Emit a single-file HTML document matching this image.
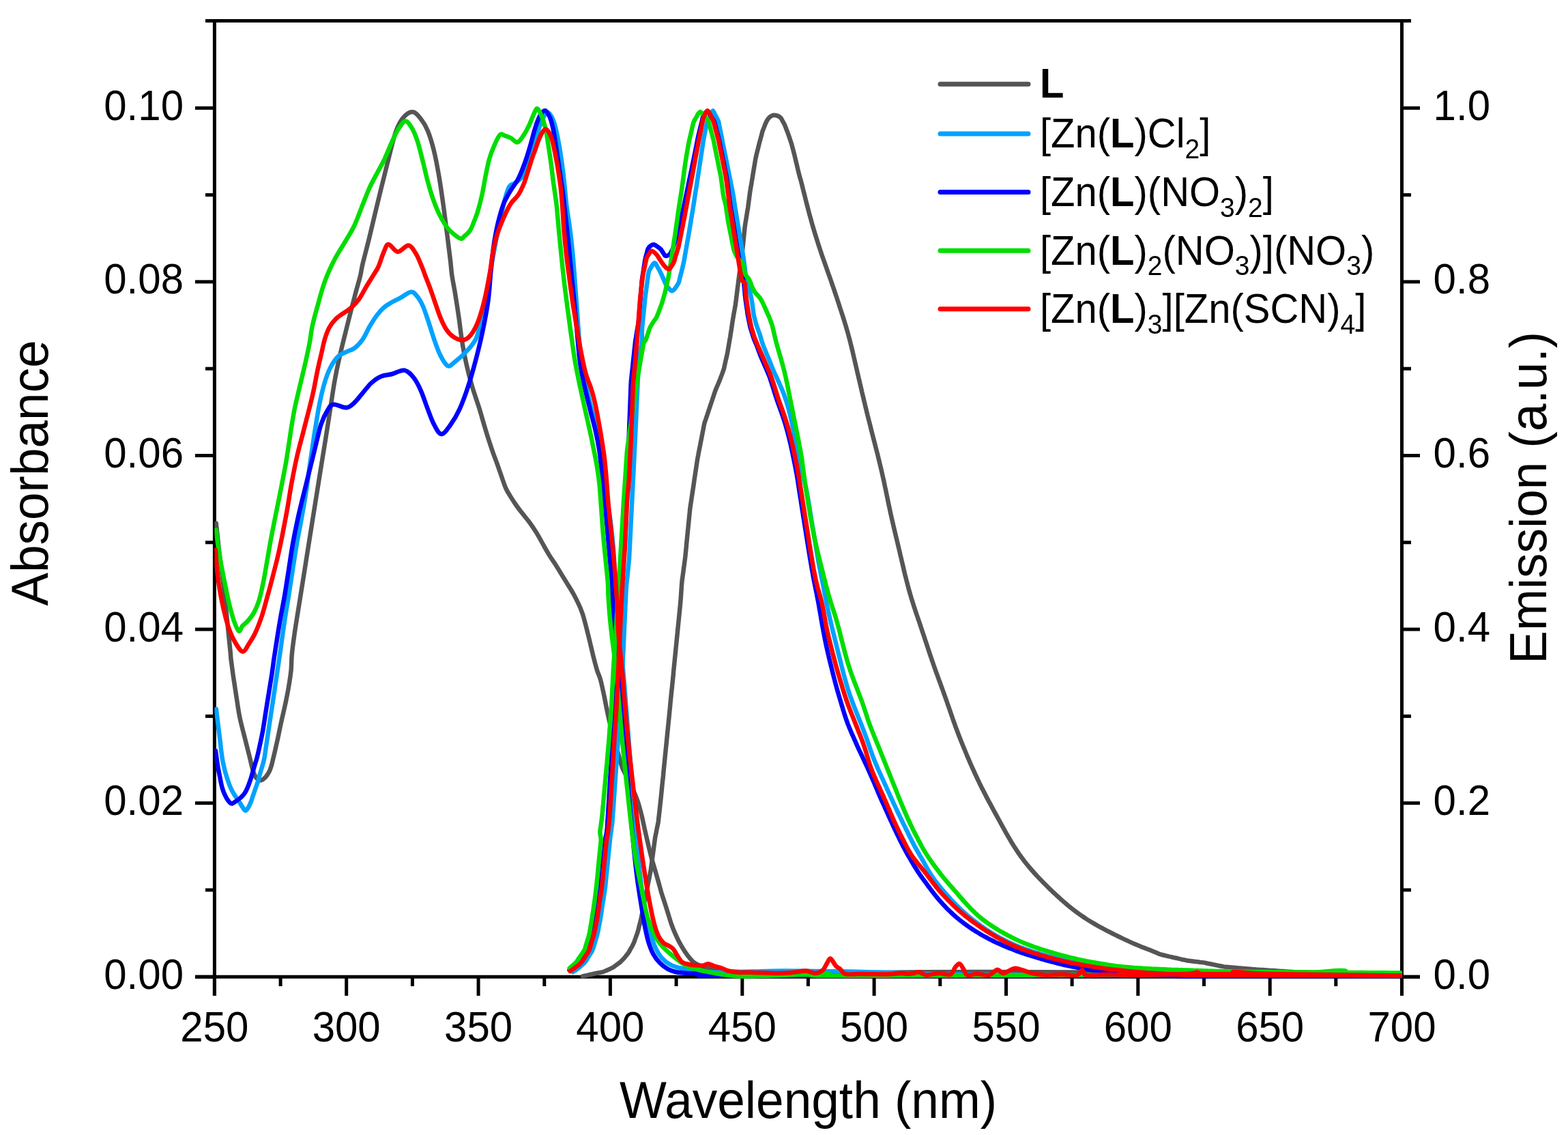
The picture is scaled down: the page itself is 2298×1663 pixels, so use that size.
<!DOCTYPE html>
<html><head><meta charset="utf-8"><title>Absorbance and Emission spectra</title>
<style>html,body{margin:0;padding:0;background:#fff;overflow:hidden;} svg{display:block;}</style></head>
<body><svg width="2298" height="1663" viewBox="0 0 2298 1663">
<rect width="2298" height="1663" fill="#fff"/>
<g stroke="#000" stroke-width="5" fill="none">
<line x1="301" y1="30.45" x2="2068" y2="30.45"/>
<line x1="314.4" y1="28" x2="314.4" y2="1459"/>
<line x1="2054.5" y1="28" x2="2054.5" y2="1459"/>
<line x1="286" y1="1431.3" x2="2081" y2="1431.3"/>
<line x1="314.4" y1="1431.3" x2="314.4" y2="1459"/>
<line x1="411.1" y1="1431.3" x2="411.1" y2="1445"/>
<line x1="507.7" y1="1431.3" x2="507.7" y2="1459"/>
<line x1="604.4" y1="1431.3" x2="604.4" y2="1445"/>
<line x1="701.1" y1="1431.3" x2="701.1" y2="1459"/>
<line x1="797.8" y1="1431.3" x2="797.8" y2="1445"/>
<line x1="894.4" y1="1431.3" x2="894.4" y2="1459"/>
<line x1="991.1" y1="1431.3" x2="991.1" y2="1445"/>
<line x1="1087.8" y1="1431.3" x2="1087.8" y2="1459"/>
<line x1="1184.4" y1="1431.3" x2="1184.4" y2="1445"/>
<line x1="1281.1" y1="1431.3" x2="1281.1" y2="1459"/>
<line x1="1377.8" y1="1431.3" x2="1377.8" y2="1445"/>
<line x1="1474.5" y1="1431.3" x2="1474.5" y2="1459"/>
<line x1="1571.1" y1="1431.3" x2="1571.1" y2="1445"/>
<line x1="1667.8" y1="1431.3" x2="1667.8" y2="1459"/>
<line x1="1764.5" y1="1431.3" x2="1764.5" y2="1445"/>
<line x1="1861.2" y1="1431.3" x2="1861.2" y2="1459"/>
<line x1="1957.8" y1="1431.3" x2="1957.8" y2="1445"/>
<line x1="2054.5" y1="1431.3" x2="2054.5" y2="1459"/>
<line x1="286" y1="1431.3" x2="314.4" y2="1431.3"/>
<line x1="2054.5" y1="1431.3" x2="2081" y2="1431.3"/>
<line x1="301" y1="1304.0" x2="314.4" y2="1304.0"/>
<line x1="2054.5" y1="1304.0" x2="2068" y2="1304.0"/>
<line x1="286" y1="1176.7" x2="314.4" y2="1176.7"/>
<line x1="2054.5" y1="1176.7" x2="2081" y2="1176.7"/>
<line x1="301" y1="1049.4" x2="314.4" y2="1049.4"/>
<line x1="2054.5" y1="1049.4" x2="2068" y2="1049.4"/>
<line x1="286" y1="922.1" x2="314.4" y2="922.1"/>
<line x1="2054.5" y1="922.1" x2="2081" y2="922.1"/>
<line x1="301" y1="794.8" x2="314.4" y2="794.8"/>
<line x1="2054.5" y1="794.8" x2="2068" y2="794.8"/>
<line x1="286" y1="667.5" x2="314.4" y2="667.5"/>
<line x1="2054.5" y1="667.5" x2="2081" y2="667.5"/>
<line x1="301" y1="540.2" x2="314.4" y2="540.2"/>
<line x1="2054.5" y1="540.2" x2="2068" y2="540.2"/>
<line x1="286" y1="412.9" x2="314.4" y2="412.9"/>
<line x1="2054.5" y1="412.9" x2="2081" y2="412.9"/>
<line x1="301" y1="285.6" x2="314.4" y2="285.6"/>
<line x1="2054.5" y1="285.6" x2="2068" y2="285.6"/>
<line x1="286" y1="158.3" x2="314.4" y2="158.3"/>
<line x1="2054.5" y1="158.3" x2="2081" y2="158.3"/>
</g>
<g font-family="'Liberation Sans', Arial, sans-serif" font-size="60" fill="#000">
<text transform="translate(314.4,1525.5) scale(1,1.05)" text-anchor="middle">250</text>
<text transform="translate(507.7,1525.5) scale(1,1.05)" text-anchor="middle">300</text>
<text transform="translate(701.1,1525.5) scale(1,1.05)" text-anchor="middle">350</text>
<text transform="translate(894.4,1525.5) scale(1,1.05)" text-anchor="middle">400</text>
<text transform="translate(1087.8,1525.5) scale(1,1.05)" text-anchor="middle">450</text>
<text transform="translate(1281.1,1525.5) scale(1,1.05)" text-anchor="middle">500</text>
<text transform="translate(1474.5,1525.5) scale(1,1.05)" text-anchor="middle">550</text>
<text transform="translate(1667.8,1525.5) scale(1,1.05)" text-anchor="middle">600</text>
<text transform="translate(1861.2,1525.5) scale(1,1.05)" text-anchor="middle">650</text>
<text transform="translate(2054.5,1525.5) scale(1,1.05)" text-anchor="middle">700</text>
<text transform="translate(269,1448.8) scale(1,1.05)" text-anchor="end">0.00</text>
<text transform="translate(2184,1448.8) scale(1,1.05)" text-anchor="end">0.0</text>
<text transform="translate(269,1194.2) scale(1,1.05)" text-anchor="end">0.02</text>
<text transform="translate(2184,1194.2) scale(1,1.05)" text-anchor="end">0.2</text>
<text transform="translate(269,939.6) scale(1,1.05)" text-anchor="end">0.04</text>
<text transform="translate(2184,939.6) scale(1,1.05)" text-anchor="end">0.4</text>
<text transform="translate(269,685.0) scale(1,1.05)" text-anchor="end">0.06</text>
<text transform="translate(2184,685.0) scale(1,1.05)" text-anchor="end">0.6</text>
<text transform="translate(269,430.4) scale(1,1.05)" text-anchor="end">0.08</text>
<text transform="translate(2184,430.4) scale(1,1.05)" text-anchor="end">0.8</text>
<text transform="translate(269,175.8) scale(1,1.05)" text-anchor="end">0.10</text>
<text transform="translate(2184,175.8) scale(1,1.05)" text-anchor="end">1.0</text>
</g>
<g font-family="'Liberation Sans', Arial, sans-serif" font-size="73" fill="#000">
<text transform="translate(1184.5,1638.4) scale(1,1.04)" text-anchor="middle">Wavelength (nm)</text>
<text transform="translate(70.4,693) rotate(-90) scale(1,1.04)" text-anchor="middle">Absorbance</text>
<text transform="translate(2265.7,729.4) rotate(-90) scale(1,1.04)" text-anchor="middle">Emission (a.u.)</text>
</g>
<defs><clipPath id="pc"><rect x="314.4" y="0" width="1740.1" height="1663"/></clipPath></defs>
<g fill="none" stroke-width="6.5" stroke-linejoin="round" stroke-linecap="round" clip-path="url(#pc)">
<path stroke="#555555" d="M316.8,766.7 C317.6,774.5 320.1,799.1 321.9,813.7 C323.6,828.3 325.6,841.1 327.2,854.4 C328.8,867.7 330.1,880.7 331.4,893.4 C332.7,906.1 334.1,920.0 335.1,930.4 C336.2,940.8 337.1,949.5 337.7,955.6 C338.3,961.6 337.9,961.0 338.6,966.7 C339.3,972.4 340.5,981.1 341.7,989.7 C343.0,998.3 344.5,1008.3 346.1,1018.4 C347.7,1028.5 349.2,1040.5 351.2,1050.2 C353.1,1060.0 355.7,1068.9 357.7,1076.9 C359.7,1084.8 361.6,1092.3 363.0,1098.0 C364.5,1103.7 365.3,1106.9 366.3,1111.0 C367.2,1115.0 367.9,1118.4 368.9,1122.2 C369.8,1125.9 371.0,1130.4 372.2,1133.4 C373.3,1136.4 374.2,1138.6 376.0,1140.2 C377.7,1141.9 380.2,1143.5 382.5,1143.2 C384.8,1142.9 387.5,1140.3 389.5,1138.2 C391.5,1136.0 393.2,1133.3 394.6,1130.6 C396.0,1127.8 396.9,1124.8 397.8,1121.8 C398.7,1118.8 399.3,1116.0 400.1,1112.5 C400.9,1109.1 401.6,1106.6 402.8,1101.3 C404.0,1095.9 405.8,1088.0 407.5,1080.3 C409.1,1072.5 411.1,1062.8 412.9,1054.6 C414.7,1046.5 416.5,1039.3 418.2,1031.4 C419.8,1023.5 421.5,1015.6 422.9,1007.3 C424.3,999.1 425.8,989.8 426.6,981.7 C427.4,973.6 426.9,967.6 427.8,958.8 C428.6,949.9 429.8,941.2 431.6,928.7 C433.4,916.2 436.2,899.3 438.7,883.7 C441.2,868.1 443.9,851.2 446.5,834.9 C449.1,818.7 451.6,802.4 454.2,786.2 C456.8,770.0 459.4,753.7 462.0,737.5 C464.6,721.2 467.3,704.1 469.8,688.7 C472.3,673.4 474.9,656.9 476.8,645.4 C478.6,633.8 479.5,628.7 480.9,619.5 C482.4,610.3 483.8,600.4 485.4,590.2 C487.0,580.0 488.5,569.1 490.4,558.5 C492.3,547.9 494.4,537.4 496.8,526.8 C499.1,516.2 501.8,505.7 504.4,495.1 C507.0,484.5 509.6,474.0 512.3,463.4 C515.0,452.8 517.9,441.5 520.5,431.7 C523.1,421.9 526.1,411.9 528.0,404.4 C529.8,396.9 529.3,396.0 531.5,386.8 C533.7,377.6 537.7,362.8 541.0,349.4 C544.3,336.0 547.9,320.2 551.2,306.4 C554.5,292.5 557.7,279.6 561.0,266.5 C564.2,253.4 567.5,239.9 570.7,227.5 C573.9,215.1 577.0,201.3 580.4,192.1 C583.8,182.9 587.0,177.0 591.0,172.3 C595.1,167.7 600.5,163.8 604.8,164.1 C609.1,164.4 612.9,169.4 616.6,174.0 C620.2,178.5 623.5,183.4 626.7,191.3 C630.0,199.2 633.3,210.1 636.1,221.5 C638.9,232.9 641.3,246.2 643.6,259.6 C645.9,273.0 647.9,287.3 649.9,301.9 C651.9,316.5 654.1,333.9 655.8,347.3 C657.5,360.6 659.0,372.7 660.1,382.0 C661.2,391.4 661.1,394.8 662.3,403.1 C663.5,411.4 665.7,421.4 667.3,431.7 C669.0,442.0 670.7,453.1 672.4,464.8 C674.1,476.4 675.5,490.0 677.4,501.6 C679.3,513.3 681.3,523.8 683.8,534.7 C686.2,545.6 689.0,556.1 692.1,566.7 C695.2,577.3 699.5,588.9 702.4,598.3 C705.3,607.7 707.4,615.6 709.7,623.2 C712.0,630.9 714.0,637.5 716.1,644.1 C718.2,650.7 720.3,656.9 722.4,662.8 C724.5,668.8 726.6,673.9 728.7,679.8 C730.8,685.7 733.0,692.3 735.1,698.3 C737.2,704.3 739.3,710.8 741.4,715.6 C743.6,720.5 745.6,723.4 748.1,727.4 C750.5,731.3 753.1,735.4 756.0,739.5 C758.8,743.6 762.0,747.7 765.2,751.8 C768.4,755.9 771.6,759.5 775.0,764.0 C778.4,768.6 782.1,773.9 785.5,779.4 C788.9,784.8 792.1,790.9 795.3,796.5 C798.5,802.1 801.7,808.1 804.8,813.1 C807.9,818.2 811.0,822.2 814.0,826.9 C817.0,831.6 819.7,836.4 822.8,841.4 C825.9,846.5 829.6,852.3 832.7,857.4 C835.8,862.4 838.5,866.7 841.3,871.8 C844.0,876.9 847.4,883.8 849.3,888.0 C851.3,892.3 852.0,894.7 852.9,897.1 C853.8,899.6 853.9,899.2 854.8,902.6 C855.8,906.0 857.3,911.5 858.8,917.5 C860.4,923.6 862.3,931.4 864.1,938.8 C865.9,946.2 867.8,954.8 869.6,962.0 C871.4,969.2 873.3,976.2 875.0,982.0 C876.8,987.7 878.5,990.3 880.2,996.5 C881.9,1002.7 883.7,1011.7 885.3,1019.0 C886.8,1026.3 888.0,1033.4 889.5,1040.3 C891.0,1047.2 892.2,1053.6 894.0,1060.5 C895.8,1067.4 898.1,1074.2 900.2,1081.8 C902.3,1089.3 904.5,1098.6 906.4,1105.8 C908.4,1112.9 909.6,1118.6 911.9,1124.6 C914.2,1130.5 917.5,1135.7 920.3,1141.6 C923.2,1147.5 926.5,1154.2 929.0,1159.8 C931.5,1165.5 933.2,1169.7 935.1,1175.6 C937.0,1181.5 938.7,1188.2 940.5,1195.4 C942.3,1202.6 944.0,1211.4 945.7,1218.8 C947.4,1226.2 949.0,1233.3 950.6,1239.9 C952.2,1246.6 953.7,1252.8 955.3,1258.7 C956.9,1264.5 958.5,1269.6 960.1,1275.1 C961.7,1280.6 963.2,1285.8 964.8,1291.5 C966.4,1297.1 968.0,1303.6 969.6,1308.9 C971.2,1314.1 972.7,1318.2 974.3,1323.2 C975.9,1328.1 977.5,1333.3 979.1,1338.5 C980.7,1343.7 982.2,1349.0 984.1,1354.3 C986.0,1359.6 988.1,1364.9 990.5,1370.2 C992.8,1375.4 995.5,1380.8 998.4,1385.7 C1001.2,1390.7 1004.5,1395.7 1007.6,1399.7 C1010.7,1403.8 1013.7,1407.5 1016.8,1410.0 C1019.9,1412.5 1022.2,1413.3 1026.2,1414.9 C1030.3,1416.5 1034.7,1418.2 1040.9,1419.6 C1047.1,1420.9 1051.9,1421.9 1063.5,1422.8 C1075.1,1423.7 1087.8,1424.3 1110.5,1424.8 C1133.2,1425.4 1143.4,1426.1 1200.0,1426.0 C1256.6,1425.9 1307.7,1423.8 1450.0,1424.0 C1592.3,1424.2 1953.3,1426.5 2054.0,1427.0"/>
<path stroke="#555555" d="M853.9,1430.4 C854.9,1430.2 857.8,1429.5 859.8,1429.1 C861.7,1428.6 863.7,1428.2 865.6,1427.8 C867.6,1427.3 869.5,1426.9 871.5,1426.5 C873.4,1426.1 875.4,1425.7 877.4,1425.3 C879.3,1424.9 881.3,1424.7 883.2,1424.2 C885.1,1423.6 886.9,1422.7 888.8,1421.9 C890.6,1421.1 892.5,1420.3 894.3,1419.5 C896.1,1418.6 897.9,1417.8 899.6,1416.7 C901.3,1415.7 902.8,1414.3 904.4,1413.1 C906.0,1411.9 907.7,1410.8 909.2,1409.5 C910.7,1408.2 912.0,1406.8 913.4,1405.3 C914.7,1403.8 916.0,1402.3 917.3,1400.7 C918.6,1399.2 919.9,1397.7 921.0,1396.0 C922.1,1394.4 923.0,1392.6 923.9,1390.8 C924.9,1389.1 926.0,1387.4 926.9,1385.6 C927.8,1383.8 928.6,1382.0 929.4,1380.2 C930.1,1378.3 930.7,1376.4 931.4,1374.5 C932.1,1372.6 932.8,1370.8 933.5,1368.9 C934.1,1367.0 934.7,1365.1 935.3,1363.2 C935.8,1361.2 936.2,1359.3 936.7,1357.3 C937.2,1355.4 937.7,1353.5 938.2,1351.5 C938.7,1349.6 939.2,1347.7 939.6,1345.7 C940.1,1343.7 940.4,1341.8 940.8,1339.8 C941.2,1337.9 941.6,1335.9 942.0,1333.9 C942.4,1332.0 942.7,1330.0 943.1,1328.0 C943.5,1326.1 943.9,1324.1 944.3,1322.2 C944.7,1320.2 945.1,1318.2 945.5,1316.3 C945.9,1314.3 946.3,1312.4 946.7,1310.4 C947.1,1308.4 947.5,1306.5 947.9,1304.5 C948.3,1302.6 948.7,1300.6 949.1,1298.6 C949.4,1296.7 949.8,1294.7 950.2,1292.7 C950.6,1290.8 951.0,1288.8 951.4,1286.9 C951.8,1284.9 952.2,1282.9 952.5,1281.0 C952.9,1279.0 953.4,1277.1 953.7,1275.1 C954.0,1273.1 954.2,1271.1 954.5,1269.1 C954.8,1267.2 955.0,1265.2 955.3,1263.2 C955.6,1261.2 955.8,1259.2 956.1,1257.2 C956.4,1255.3 956.6,1253.3 956.9,1251.3 C957.2,1249.3 957.4,1247.3 957.7,1245.4 C958.0,1243.4 958.2,1241.4 958.5,1239.4 C958.8,1237.4 959.0,1235.4 959.3,1233.5 C959.6,1231.5 959.8,1229.5 960.1,1227.5 C960.4,1225.5 960.9,1223.6 961.3,1221.6 C961.7,1219.7 962.0,1217.7 962.4,1215.7 C962.8,1213.8 963.2,1211.8 963.6,1209.9 C964.0,1207.9 964.5,1205.9 964.8,1204.0 C965.1,1202.0 965.2,1200.0 965.4,1198.0 C965.7,1196.0 965.9,1194.0 966.1,1192.0 C966.3,1190.1 966.6,1188.1 966.8,1186.1 C967.0,1184.1 967.2,1182.1 967.4,1180.1 C967.7,1178.1 967.9,1176.1 968.1,1174.2 C968.3,1172.2 968.5,1170.2 968.7,1168.2 C968.9,1166.2 969.1,1164.2 969.3,1162.2 C969.5,1160.2 969.7,1158.2 969.9,1156.3 C970.1,1154.3 970.3,1152.3 970.5,1150.3 C970.7,1148.3 970.9,1146.3 971.1,1144.3 C971.4,1142.3 971.6,1140.3 971.8,1138.3 C972.0,1136.4 972.2,1134.4 972.3,1132.4 C972.5,1130.4 972.7,1128.4 972.9,1126.4 C973.1,1124.4 973.3,1122.4 973.5,1120.4 C973.7,1118.4 973.9,1116.5 974.1,1114.5 C974.3,1112.5 974.5,1110.5 974.7,1108.5 C974.9,1106.5 975.1,1104.5 975.3,1102.5 C975.5,1100.5 975.7,1098.5 975.9,1096.5 C976.1,1094.6 976.3,1092.6 976.5,1090.6 C976.7,1088.6 976.9,1086.6 977.1,1084.6 C977.3,1082.6 977.5,1080.6 977.7,1078.6 C977.9,1076.7 978.1,1074.7 978.3,1072.7 C978.5,1070.7 978.7,1068.7 978.9,1066.7 C979.1,1064.7 979.3,1062.7 979.5,1060.7 C979.7,1058.7 979.9,1056.8 980.1,1054.8 C980.3,1052.8 980.5,1050.8 980.7,1048.8 C980.9,1046.8 981.1,1044.8 981.3,1042.8 C981.5,1040.8 981.7,1038.8 981.9,1036.8 C982.1,1034.9 982.3,1032.9 982.4,1030.9 C982.6,1028.9 982.8,1026.9 983.0,1024.9 C983.2,1022.9 983.4,1020.9 983.6,1018.9 C983.8,1016.9 984.0,1015.0 984.2,1013.0 C984.4,1011.0 984.7,1009.0 984.9,1007.0 C985.1,1005.0 985.3,1003.0 985.5,1001.0 C985.7,999.0 985.9,997.0 986.1,995.1 C986.3,993.1 986.5,991.1 986.7,989.1 C986.9,987.1 987.1,985.1 987.2,983.1 C987.4,981.1 987.6,979.1 987.8,977.1 C988.0,975.2 988.2,973.2 988.4,971.2 C988.6,969.2 988.8,967.2 989.0,965.2 C989.2,963.2 989.4,961.2 989.6,959.2 C989.8,957.2 990.0,955.3 990.2,953.3 C990.4,951.3 990.6,949.3 990.8,947.3 C991.0,945.3 991.2,943.3 991.4,941.3 C991.6,939.3 991.8,937.3 992.0,935.4 C992.2,933.4 992.4,931.4 992.6,929.4 C992.8,927.4 993.0,925.4 993.2,923.4 C993.4,921.4 993.6,919.4 993.8,917.4 C994.0,915.5 994.2,913.5 994.4,911.5 C994.6,909.5 994.8,907.5 995.0,905.5 C995.2,903.5 995.4,901.5 995.6,899.5 C995.8,897.5 996.0,895.6 996.2,893.6 C996.4,891.6 996.6,889.6 996.8,887.6 C996.9,885.6 997.2,883.6 997.3,881.6 C997.5,879.6 997.7,877.6 997.8,875.6 C997.9,873.6 998.1,871.6 998.2,869.6 C998.3,867.7 998.5,865.7 998.6,863.7 C998.7,861.7 998.9,859.7 999.0,857.7 C999.2,855.7 999.3,853.7 999.5,851.7 C999.7,849.7 1000.1,847.7 1000.3,845.8 C1000.6,843.8 1000.9,841.8 1001.1,839.8 C1001.4,837.8 1001.7,835.8 1001.9,833.9 C1002.2,831.9 1002.5,829.9 1002.7,827.9 C1003.0,825.9 1003.3,824.0 1003.5,822.0 C1003.8,820.0 1004.1,818.0 1004.3,816.0 C1004.5,814.0 1004.7,812.0 1004.9,810.0 C1005.1,808.1 1005.3,806.1 1005.5,804.1 C1005.7,802.1 1005.9,800.1 1006.0,798.1 C1006.2,796.1 1006.4,794.1 1006.6,792.1 C1006.8,790.1 1007.0,788.2 1007.2,786.2 C1007.4,784.2 1007.6,782.2 1007.8,780.2 C1008.0,778.2 1008.2,776.2 1008.4,774.2 C1008.6,772.2 1008.8,770.2 1009.0,768.3 C1009.2,766.3 1009.4,764.3 1009.6,762.3 C1009.8,760.3 1010.0,758.3 1010.2,756.3 C1010.4,754.3 1010.6,752.3 1010.8,750.3 C1011.0,748.4 1011.2,746.4 1011.4,744.4 C1011.7,742.4 1012.0,740.4 1012.3,738.4 C1012.6,736.5 1012.9,734.5 1013.2,732.5 C1013.5,730.5 1013.8,728.6 1014.1,726.6 C1014.4,724.6 1014.7,722.6 1015.0,720.6 C1015.3,718.7 1015.6,716.7 1015.9,714.7 C1016.2,712.7 1016.5,710.8 1016.8,708.8 C1017.1,706.8 1017.4,704.8 1017.6,702.8 C1017.9,700.9 1018.2,698.9 1018.5,696.9 C1018.8,694.9 1019.1,692.9 1019.4,691.0 C1019.7,689.0 1020.0,687.0 1020.3,685.0 C1020.6,683.1 1020.9,681.1 1021.2,679.1 C1021.5,677.1 1021.8,675.1 1022.1,673.2 C1022.4,671.2 1022.8,669.2 1023.2,667.3 C1023.5,665.3 1023.9,663.3 1024.3,661.4 C1024.7,659.4 1025.1,657.5 1025.5,655.5 C1025.9,653.5 1026.3,651.6 1026.6,649.6 C1027.0,647.6 1027.4,645.7 1027.8,643.7 C1028.2,641.8 1028.6,639.8 1028.9,637.8 C1029.3,635.9 1029.7,633.9 1030.1,631.9 C1030.5,630.0 1030.8,628.0 1031.2,626.0 C1031.6,624.1 1031.9,622.1 1032.4,620.2 C1032.9,618.2 1033.6,616.4 1034.3,614.5 C1034.9,612.6 1035.5,610.7 1036.2,608.8 C1036.8,606.9 1037.4,605.0 1038.1,603.1 C1038.7,601.2 1039.3,599.3 1040.0,597.4 C1040.6,595.5 1041.2,593.6 1041.9,591.7 C1042.5,589.8 1043.1,587.9 1043.8,586.0 C1044.4,584.1 1045.0,582.2 1045.7,580.3 C1046.3,578.4 1046.9,576.5 1047.6,574.6 C1048.2,572.7 1049.0,570.9 1049.7,569.0 C1050.5,567.2 1051.3,565.4 1052.1,563.5 C1052.8,561.7 1053.7,559.8 1054.4,558.0 C1055.2,556.1 1055.8,554.2 1056.5,552.4 C1057.3,550.5 1058.0,548.6 1058.7,546.8 C1059.4,544.9 1060.1,543.0 1060.7,541.1 C1061.3,539.2 1061.6,537.2 1062.0,535.3 C1062.5,533.3 1062.9,531.4 1063.3,529.4 C1063.8,527.5 1064.2,525.5 1064.7,523.6 C1065.1,521.6 1065.6,519.7 1066.0,517.7 C1066.4,515.8 1066.7,513.8 1067.0,511.8 C1067.3,509.8 1067.7,507.9 1068.0,505.9 C1068.4,503.9 1068.7,501.9 1069.0,500.0 C1069.4,498.0 1069.7,496.0 1070.1,494.1 C1070.4,492.1 1070.7,490.1 1071.0,488.1 C1071.3,486.2 1071.6,484.2 1071.9,482.2 C1072.2,480.2 1072.5,478.2 1072.8,476.3 C1073.1,474.3 1073.3,472.3 1073.7,470.3 C1074.0,468.4 1074.3,466.4 1074.7,464.4 C1075.0,462.5 1075.4,460.5 1075.7,458.5 C1076.1,456.5 1076.4,454.6 1076.8,452.6 C1077.1,450.6 1077.5,448.7 1077.8,446.7 C1078.1,444.7 1078.4,442.7 1078.6,440.8 C1078.9,438.8 1079.1,436.8 1079.4,434.8 C1079.6,432.8 1079.9,430.8 1080.1,428.8 C1080.4,426.9 1080.6,424.9 1080.8,422.9 C1081.1,420.9 1081.3,418.9 1081.6,416.9 C1081.8,415.0 1082.1,413.0 1082.4,411.0 C1082.6,409.0 1082.9,407.0 1083.1,405.0 C1083.4,403.1 1083.7,401.1 1083.9,399.1 C1084.2,397.1 1084.4,395.1 1084.7,393.1 C1084.9,391.2 1085.2,389.2 1085.4,387.2 C1085.7,385.2 1086.0,383.2 1086.2,381.2 C1086.5,379.3 1086.7,377.3 1087.0,375.3 C1087.2,373.3 1087.5,371.3 1087.8,369.3 C1088.0,367.4 1088.3,365.4 1088.5,363.4 C1088.7,361.4 1088.9,359.4 1089.1,357.4 C1089.3,355.4 1089.5,353.4 1089.7,351.4 C1089.9,349.5 1090.1,347.5 1090.3,345.5 C1090.5,343.5 1090.7,341.5 1090.9,339.5 C1091.1,337.5 1091.3,335.5 1091.5,333.5 C1091.8,331.6 1092.0,329.6 1092.3,327.6 C1092.6,325.6 1093.0,323.6 1093.3,321.7 C1093.6,319.7 1094.0,317.7 1094.3,315.8 C1094.6,313.8 1094.9,311.8 1095.2,309.8 C1095.6,307.9 1095.9,305.9 1096.2,303.9 C1096.4,301.9 1096.7,299.9 1097.0,298.0 C1097.2,296.0 1097.5,294.0 1097.8,292.0 C1098.0,290.0 1098.3,288.0 1098.6,286.1 C1098.8,284.1 1099.1,282.1 1099.4,280.1 C1099.7,278.1 1100.0,276.2 1100.4,274.2 C1100.7,272.2 1101.0,270.3 1101.4,268.3 C1101.7,266.3 1102.0,264.3 1102.4,262.4 C1102.7,260.4 1103.0,258.4 1103.3,256.4 C1103.7,254.5 1104.0,252.5 1104.3,250.5 C1104.7,248.6 1105.0,246.6 1105.3,244.6 C1105.7,242.6 1106.0,240.7 1106.3,238.7 C1106.6,236.7 1106.9,234.7 1107.3,232.8 C1107.7,230.8 1108.1,228.9 1108.6,226.9 C1109.0,225.0 1109.5,223.0 1110.0,221.1 C1110.5,219.2 1111.0,217.2 1111.5,215.3 C1111.9,213.3 1112.4,211.4 1112.9,209.5 C1113.4,207.5 1114.0,205.6 1114.5,203.7 C1115.0,201.7 1115.6,199.8 1116.1,197.9 C1116.6,195.9 1117.0,194.0 1117.6,192.1 C1118.3,190.2 1119.1,188.4 1119.8,186.5 C1120.5,184.6 1121.2,182.7 1122.0,180.9 C1122.8,179.1 1123.6,177.2 1124.7,175.6 C1125.8,174.0 1127.1,172.2 1128.6,171.1 C1130.1,170.0 1131.9,169.0 1133.7,168.8 C1135.5,168.5 1137.7,169.0 1139.4,169.6 C1141.2,170.3 1143.0,171.4 1144.3,172.8 C1145.6,174.2 1146.3,176.3 1147.3,178.0 C1148.3,179.8 1149.3,181.5 1150.1,183.3 C1150.9,185.1 1151.6,187.1 1152.3,188.9 C1153.0,190.8 1153.8,192.6 1154.5,194.5 C1155.2,196.4 1155.8,198.3 1156.5,200.2 C1157.1,202.0 1157.7,204.0 1158.4,205.9 C1159.0,207.8 1159.7,209.6 1160.2,211.6 C1160.8,213.5 1161.2,215.5 1161.8,217.4 C1162.3,219.3 1162.8,221.3 1163.3,223.2 C1163.8,225.1 1164.3,227.0 1164.8,229.0 C1165.3,230.9 1165.7,232.9 1166.2,234.8 C1166.6,236.7 1167.1,238.7 1167.6,240.6 C1168.0,242.6 1168.5,244.5 1168.9,246.5 C1169.4,248.4 1169.9,250.3 1170.3,252.3 C1170.8,254.2 1171.3,256.2 1171.8,258.1 C1172.3,260.0 1172.9,261.9 1173.5,263.8 C1174.0,265.7 1174.5,267.7 1175.0,269.6 C1175.5,271.5 1176.0,273.5 1176.4,275.4 C1176.9,277.3 1177.4,279.3 1177.9,281.2 C1178.4,283.1 1178.9,285.1 1179.4,287.0 C1179.9,289.0 1180.4,290.9 1180.8,292.8 C1181.3,294.8 1181.8,296.7 1182.3,298.6 C1182.8,300.6 1183.3,302.5 1183.8,304.4 C1184.3,306.4 1184.8,308.3 1185.3,310.2 C1185.8,312.2 1186.3,314.1 1186.9,316.0 C1187.4,317.9 1187.9,319.9 1188.5,321.8 C1189.0,323.7 1189.5,325.6 1190.1,327.6 C1190.6,329.5 1191.2,331.4 1191.7,333.3 C1192.3,335.2 1192.9,337.1 1193.4,339.1 C1194.0,341.0 1194.6,342.9 1195.2,344.8 C1195.8,346.7 1196.4,348.6 1197.0,350.5 C1197.6,352.4 1198.2,354.3 1198.8,356.2 C1199.4,358.1 1200.0,360.0 1200.6,361.9 C1201.3,363.8 1201.9,365.7 1202.5,367.6 C1203.2,369.5 1203.8,371.4 1204.4,373.3 C1205.1,375.2 1205.7,377.1 1206.4,379.0 C1207.1,380.9 1207.7,382.7 1208.4,384.6 C1209.0,386.5 1209.7,388.4 1210.4,390.3 C1211.0,392.2 1211.7,394.1 1212.4,395.9 C1213.0,397.8 1213.7,399.7 1214.4,401.6 C1215.1,403.5 1215.7,405.3 1216.4,407.2 C1217.1,409.1 1217.7,411.0 1218.4,412.9 C1219.0,414.8 1219.7,416.7 1220.3,418.5 C1221.0,420.4 1221.6,422.3 1222.3,424.2 C1222.9,426.1 1223.5,428.0 1224.2,429.9 C1224.8,431.8 1225.4,433.6 1226.1,435.5 C1226.7,437.4 1227.3,439.3 1227.9,441.2 C1228.6,443.1 1229.2,445.0 1229.8,446.9 C1230.4,448.7 1231.0,450.6 1231.6,452.5 C1232.3,454.4 1232.9,456.3 1233.5,458.2 C1234.1,460.0 1234.7,461.9 1235.3,463.8 C1235.9,465.7 1236.5,467.6 1237.1,469.5 C1237.7,471.3 1238.2,473.2 1238.8,475.1 C1239.4,477.0 1240.0,478.9 1240.5,480.8 C1241.1,482.7 1241.6,484.6 1242.2,486.5 C1242.7,488.4 1243.2,490.3 1243.7,492.2 C1244.3,494.1 1244.8,496.0 1245.3,498.0 C1245.8,499.9 1246.3,501.8 1246.7,503.7 C1247.2,505.7 1247.7,507.6 1248.2,509.5 C1248.6,511.5 1249.1,513.4 1249.6,515.3 C1250.0,517.3 1250.5,519.2 1250.9,521.2 C1251.4,523.1 1251.8,525.0 1252.3,527.0 C1252.7,528.9 1253.2,530.9 1253.6,532.8 C1254.1,534.8 1254.5,536.7 1255.0,538.7 C1255.4,540.6 1255.9,542.6 1256.3,544.5 C1256.8,546.5 1257.2,548.4 1257.7,550.4 C1258.1,552.3 1258.6,554.2 1259.0,556.2 C1259.5,558.1 1260.0,560.1 1260.4,562.0 C1260.9,564.0 1261.3,565.9 1261.8,567.9 C1262.2,569.8 1262.7,571.8 1263.1,573.7 C1263.6,575.7 1264.0,577.6 1264.5,579.6 C1265.0,581.5 1265.4,583.4 1265.9,585.4 C1266.3,587.3 1266.8,589.3 1267.3,591.2 C1267.7,593.2 1268.2,595.1 1268.7,597.1 C1269.2,599.0 1269.6,600.9 1270.1,602.9 C1270.6,604.8 1271.1,606.8 1271.5,608.7 C1272.0,610.6 1272.5,612.6 1273.0,614.5 C1273.5,616.5 1274.0,618.4 1274.5,620.3 C1275.0,622.3 1275.5,624.2 1276.0,626.1 C1276.4,628.1 1276.9,630.0 1277.4,631.9 C1277.9,633.9 1278.4,635.8 1278.9,637.8 C1279.4,639.7 1279.9,641.6 1280.4,643.6 C1280.9,645.5 1281.4,647.4 1281.9,649.4 C1282.4,651.3 1282.9,653.2 1283.4,655.2 C1283.9,657.1 1284.4,659.1 1284.9,661.0 C1285.4,662.9 1285.9,664.9 1286.4,666.8 C1286.8,668.7 1287.3,670.7 1287.8,672.6 C1288.3,674.6 1288.8,676.5 1289.2,678.5 C1289.7,680.4 1290.2,682.3 1290.6,684.3 C1291.1,686.2 1291.5,688.2 1292.0,690.1 C1292.4,692.1 1292.9,694.0 1293.3,696.0 C1293.8,697.9 1294.2,699.9 1294.6,701.8 C1295.1,703.8 1295.5,705.7 1295.9,707.7 C1296.3,709.6 1296.7,711.6 1297.1,713.5 C1297.6,715.5 1298.0,717.5 1298.4,719.4 C1298.8,721.4 1299.2,723.3 1299.6,725.3 C1300.0,727.2 1300.4,729.2 1300.8,731.2 C1301.2,733.1 1301.6,735.1 1302.0,737.0 C1302.4,739.0 1302.8,740.9 1303.3,742.9 C1303.7,744.9 1304.1,746.8 1304.5,748.8 C1304.9,750.7 1305.4,752.7 1305.8,754.6 C1306.2,756.6 1306.7,758.5 1307.1,760.5 C1307.6,762.4 1308.0,764.4 1308.5,766.3 C1308.9,768.3 1309.4,770.2 1309.8,772.2 C1310.3,774.1 1310.7,776.1 1311.2,778.0 C1311.7,779.9 1312.1,781.9 1312.6,783.8 C1313.1,785.8 1313.5,787.7 1314.0,789.7 C1314.4,791.6 1314.9,793.6 1315.4,795.5 C1315.8,797.4 1316.3,799.4 1316.8,801.3 C1317.2,803.3 1317.7,805.2 1318.2,807.2 C1318.6,809.1 1319.1,811.1 1319.5,813.0 C1320.0,815.0 1320.5,816.9 1320.9,818.9 C1321.4,820.8 1321.8,822.7 1322.3,824.7 C1322.7,826.6 1323.2,828.6 1323.7,830.5 C1324.1,832.5 1324.6,834.4 1325.0,836.4 C1325.5,838.3 1326.0,840.2 1326.4,842.2 C1326.9,844.1 1327.4,846.1 1327.9,848.0 C1328.4,849.9 1328.8,851.9 1329.4,853.8 C1329.9,855.7 1330.4,857.7 1330.9,859.6 C1331.4,861.5 1331.9,863.5 1332.5,865.4 C1333.0,867.3 1333.6,869.2 1334.1,871.1 C1334.7,873.1 1335.3,875.0 1335.8,876.9 C1336.4,878.8 1337.0,880.7 1337.6,882.6 C1338.2,884.5 1338.8,886.4 1339.4,888.3 C1340.1,890.2 1340.7,892.1 1341.3,894.0 C1341.9,895.9 1342.6,897.8 1343.2,899.7 C1343.8,901.6 1344.5,903.4 1345.1,905.3 C1345.8,907.2 1346.4,909.1 1347.1,911.0 C1347.7,912.9 1348.3,914.8 1349.0,916.7 C1349.6,918.6 1350.2,920.5 1350.9,922.4 C1351.5,924.3 1352.1,926.2 1352.8,928.1 C1353.4,929.9 1354.0,931.8 1354.7,933.7 C1355.3,935.6 1355.9,937.5 1356.5,939.4 C1357.2,941.3 1357.8,943.2 1358.4,945.1 C1359.0,947.0 1359.7,948.9 1360.3,950.8 C1360.9,952.7 1361.6,954.6 1362.2,956.5 C1362.8,958.4 1363.5,960.3 1364.1,962.2 C1364.8,964.1 1365.4,966.0 1366.0,967.9 C1366.7,969.7 1367.4,971.6 1368.0,973.5 C1368.7,975.4 1369.3,977.3 1370.0,979.2 C1370.7,981.1 1371.3,982.9 1372.0,984.8 C1372.7,986.7 1373.4,988.6 1374.1,990.5 C1374.7,992.3 1375.4,994.2 1376.1,996.1 C1376.8,998.0 1377.5,999.8 1378.2,1001.7 C1378.9,1003.6 1379.5,1005.5 1380.2,1007.3 C1380.9,1009.2 1381.6,1011.1 1382.3,1013.0 C1382.9,1014.8 1383.6,1016.7 1384.3,1018.6 C1385.0,1020.5 1385.6,1022.4 1386.3,1024.2 C1387.0,1026.1 1387.6,1028.0 1388.3,1029.9 C1388.9,1031.8 1389.6,1033.7 1390.3,1035.6 C1390.9,1037.4 1391.6,1039.3 1392.2,1041.2 C1392.9,1043.1 1393.5,1045.0 1394.2,1046.9 C1394.8,1048.8 1395.5,1050.6 1396.1,1052.5 C1396.8,1054.4 1397.4,1056.3 1398.1,1058.2 C1398.8,1060.1 1399.5,1061.9 1400.1,1063.8 C1400.8,1065.7 1401.5,1067.6 1402.2,1069.4 C1402.9,1071.3 1403.6,1073.2 1404.3,1075.0 C1405.0,1076.9 1405.7,1078.8 1406.5,1080.6 C1407.2,1082.5 1407.9,1084.3 1408.7,1086.2 C1409.4,1088.1 1410.2,1089.9 1410.9,1091.8 C1411.7,1093.6 1412.4,1095.5 1413.2,1097.3 C1414.0,1099.2 1414.7,1101.0 1415.5,1102.8 C1416.3,1104.7 1417.0,1106.5 1417.8,1108.4 C1418.6,1110.2 1419.4,1112.0 1420.2,1113.9 C1421.0,1115.7 1421.8,1117.5 1422.6,1119.4 C1423.4,1121.2 1424.2,1123.0 1425.0,1124.9 C1425.8,1126.7 1426.6,1128.5 1427.5,1130.3 C1428.3,1132.1 1429.1,1134.0 1430.0,1135.8 C1430.8,1137.6 1431.7,1139.4 1432.5,1141.2 C1433.4,1143.0 1434.2,1144.8 1435.1,1146.6 C1436.0,1148.4 1436.8,1150.2 1437.7,1152.0 C1438.6,1153.8 1439.5,1155.5 1440.4,1157.3 C1441.3,1159.1 1442.2,1160.9 1443.2,1162.7 C1444.1,1164.4 1445.0,1166.2 1445.9,1168.0 C1446.9,1169.7 1447.8,1171.5 1448.7,1173.3 C1449.7,1175.0 1450.6,1176.8 1451.6,1178.5 C1452.5,1180.3 1453.5,1182.1 1454.4,1183.8 C1455.4,1185.6 1456.3,1187.3 1457.3,1189.1 C1458.2,1190.8 1459.2,1192.6 1460.2,1194.3 C1461.1,1196.1 1462.1,1197.8 1463.0,1199.6 C1464.0,1201.4 1465.0,1203.1 1465.9,1204.9 C1466.9,1206.6 1467.8,1208.4 1468.8,1210.1 C1469.8,1211.9 1470.7,1213.6 1471.7,1215.3 C1472.7,1217.1 1473.6,1218.8 1474.6,1220.6 C1475.6,1222.3 1476.6,1224.0 1477.6,1225.8 C1478.6,1227.5 1479.6,1229.2 1480.6,1230.9 C1481.6,1232.7 1482.6,1234.4 1483.6,1236.1 C1484.7,1237.8 1485.7,1239.5 1486.8,1241.1 C1487.9,1242.8 1489.0,1244.5 1490.1,1246.1 C1491.2,1247.8 1492.3,1249.4 1493.4,1251.1 C1494.6,1252.7 1495.7,1254.3 1496.9,1255.9 C1498.1,1257.5 1499.3,1259.1 1500.5,1260.7 C1501.7,1262.2 1502.9,1263.8 1504.1,1265.4 C1505.4,1266.9 1506.7,1268.4 1507.9,1270.0 C1509.2,1271.5 1510.5,1273.0 1511.8,1274.5 C1513.1,1276.0 1514.4,1277.5 1515.8,1279.0 C1517.1,1280.5 1518.5,1281.9 1519.8,1283.4 C1521.2,1284.9 1522.5,1286.3 1523.9,1287.8 C1525.3,1289.2 1526.7,1290.6 1528.1,1292.1 C1529.5,1293.5 1530.9,1294.9 1532.3,1296.3 C1533.7,1297.7 1535.1,1299.1 1536.5,1300.5 C1537.9,1301.9 1539.4,1303.3 1540.8,1304.7 C1542.3,1306.1 1543.7,1307.5 1545.2,1308.8 C1546.6,1310.2 1548.1,1311.6 1549.6,1312.9 C1551.0,1314.3 1552.5,1315.6 1554.0,1316.9 C1555.5,1318.3 1557.0,1319.6 1558.5,1320.9 C1560.0,1322.2 1561.5,1323.5 1563.0,1324.8 C1564.5,1326.1 1566.1,1327.3 1567.6,1328.6 C1569.2,1329.8 1570.7,1331.1 1572.3,1332.3 C1573.9,1333.5 1575.4,1334.7 1577.0,1335.9 C1578.6,1337.1 1580.2,1338.3 1581.8,1339.4 C1583.5,1340.6 1585.1,1341.7 1586.7,1342.8 C1588.4,1344.0 1590.0,1345.0 1591.7,1346.1 C1593.4,1347.2 1595.1,1348.3 1596.7,1349.3 C1598.4,1350.4 1600.1,1351.4 1601.9,1352.4 C1603.6,1353.4 1605.3,1354.4 1607.0,1355.4 C1608.8,1356.4 1610.5,1357.3 1612.3,1358.3 C1614.0,1359.2 1615.8,1360.2 1617.5,1361.1 C1619.3,1362.0 1621.1,1363.0 1622.8,1363.9 C1624.6,1364.8 1626.4,1365.7 1628.2,1366.6 C1629.9,1367.5 1631.7,1368.4 1633.5,1369.3 C1635.3,1370.2 1637.1,1371.1 1638.9,1372.0 C1640.7,1372.8 1642.5,1373.7 1644.3,1374.6 C1646.1,1375.4 1647.9,1376.3 1649.7,1377.1 C1651.5,1378.0 1653.3,1378.8 1655.1,1379.6 C1656.9,1380.4 1658.8,1381.3 1660.6,1382.1 C1662.4,1382.9 1664.2,1383.7 1666.1,1384.4 C1667.9,1385.2 1669.7,1386.0 1671.6,1386.7 C1673.4,1387.5 1675.3,1388.2 1677.2,1388.9 C1679.0,1389.6 1680.9,1390.3 1682.7,1391.0 C1684.6,1391.7 1686.5,1392.4 1688.3,1393.2 C1690.2,1393.9 1692.0,1394.7 1693.9,1395.5 C1695.7,1396.3 1697.5,1397.2 1699.4,1397.9 C1701.3,1398.5 1703.2,1399.0 1705.1,1399.5 C1707.1,1400.0 1709.0,1400.4 1711.0,1400.9 C1712.9,1401.3 1714.9,1401.7 1716.8,1402.2 C1718.8,1402.6 1720.7,1403.1 1722.7,1403.5 C1724.6,1404.0 1726.6,1404.4 1728.5,1404.9 C1730.5,1405.3 1732.4,1405.8 1734.4,1406.2 C1736.3,1406.7 1738.3,1407.2 1740.2,1407.5 C1742.2,1407.9 1744.2,1408.0 1746.2,1408.2 C1748.2,1408.5 1750.2,1408.7 1752.2,1408.9 C1754.1,1409.2 1756.1,1409.4 1758.1,1409.7 C1760.1,1409.9 1762.1,1410.1 1764.1,1410.4 C1766.0,1410.7 1768.0,1411.2 1769.9,1411.6 C1771.9,1412.0 1773.9,1412.4 1775.8,1412.8 C1777.8,1413.2 1779.7,1413.6 1781.7,1414.0 C1783.7,1414.4 1785.6,1414.8 1787.6,1415.2 C1789.6,1415.6 1791.5,1416.0 1793.5,1416.4 C1795.4,1416.7 1797.4,1416.8 1799.4,1417.0 C1801.4,1417.2 1803.4,1417.4 1805.4,1417.5 C1807.4,1417.7 1809.4,1417.9 1811.4,1418.0 C1813.4,1418.2 1815.4,1418.3 1817.4,1418.5 C1819.4,1418.7 1821.4,1418.8 1823.3,1419.0 C1825.3,1419.2 1827.3,1419.3 1829.3,1419.5 C1831.3,1419.7 1833.3,1419.8 1835.3,1420.0 C1837.3,1420.1 1839.3,1420.3 1841.3,1420.5 C1843.3,1420.6 1845.3,1420.8 1847.3,1420.9 C1849.3,1421.0 1851.3,1421.2 1853.3,1421.3 C1855.3,1421.4 1857.2,1421.6 1859.2,1421.7 C1861.2,1421.8 1863.2,1422.0 1865.2,1422.1 C1867.2,1422.2 1869.2,1422.4 1871.2,1422.5 C1873.2,1422.6 1875.2,1422.8 1877.2,1422.9 C1879.2,1423.0 1881.2,1423.2 1883.2,1423.3 C1885.2,1423.4 1887.2,1423.6 1889.2,1423.7 C1891.2,1423.8 1893.2,1423.9 1895.2,1424.0 C1897.2,1424.0 1899.2,1424.1 1901.2,1424.2 C1903.2,1424.2 1905.2,1424.3 1907.2,1424.4 C1909.2,1424.4 1911.2,1424.5 1913.2,1424.6 C1915.2,1424.6 1917.2,1424.7 1919.2,1424.8 C1921.2,1424.8 1923.2,1424.9 1925.2,1425.0 C1927.2,1425.0 1929.1,1425.1 1931.1,1425.2 C1933.1,1425.2 1935.1,1425.3 1937.1,1425.4 C1939.1,1425.4 1941.1,1425.4 1943.1,1425.5 C1945.1,1425.5 1947.1,1425.6 1949.1,1425.6 C1951.1,1425.6 1953.1,1425.7 1955.1,1425.7 C1957.1,1425.7 1959.1,1425.8 1961.1,1425.8 C1963.1,1425.8 1965.1,1425.9 1967.1,1425.9 C1969.1,1425.9 1971.1,1426.0 1973.1,1426.0 C1975.1,1426.0 1977.1,1426.1 1979.1,1426.1 C1981.1,1426.1 1983.1,1426.2 1985.1,1426.2 C1987.1,1426.2 1989.1,1426.2 1991.1,1426.2 C1993.1,1426.2 1995.1,1426.2 1997.1,1426.3 C1999.1,1426.3 2001.1,1426.3 2003.1,1426.3 C2005.1,1426.3 2007.1,1426.3 2009.1,1426.3 C2011.1,1426.3 2013.1,1426.3 2015.1,1426.3 C2017.1,1426.3 2019.1,1426.3 2021.1,1426.4 C2023.1,1426.4 2025.1,1426.4 2027.1,1426.4 C2029.1,1426.4 2031.1,1426.4 2033.1,1426.4 C2035.1,1426.4 2037.1,1426.4 2039.1,1426.4 C2041.1,1426.4 2043.1,1426.5 2045.1,1426.5 C2047.1,1426.5 2049.7,1426.5 2051.1,1426.5 C2052.6,1426.5 2053.5,1426.5 2054.0,1426.5"/>
<path stroke="#00A2FF" d="M316.9,1039.0 C317.4,1043.1 318.8,1055.4 319.8,1063.4 C320.8,1071.5 322.0,1080.9 322.8,1087.1 C323.5,1093.4 323.7,1096.3 324.3,1100.8 C324.9,1105.4 325.5,1109.9 326.3,1114.4 C327.2,1118.8 328.2,1123.4 329.2,1127.7 C330.3,1131.9 331.6,1136.1 332.8,1140.0 C334.0,1143.8 335.2,1147.5 336.6,1150.9 C338.0,1154.3 339.4,1157.4 341.0,1160.3 C342.5,1163.2 344.3,1165.6 346.1,1168.3 C347.9,1171.0 349.9,1174.0 351.6,1176.5 C353.2,1179.1 354.7,1181.6 356.0,1183.5 C357.3,1185.3 358.3,1187.7 359.5,1187.8 C360.7,1187.9 362.2,1185.9 363.4,1184.0 C364.7,1182.1 366.0,1179.3 367.2,1176.3 C368.4,1173.3 369.6,1169.3 370.8,1165.8 C372.0,1162.3 373.3,1158.6 374.5,1155.1 C375.7,1151.7 376.9,1148.5 378.1,1144.9 C379.2,1141.2 380.1,1137.0 381.2,1133.2 C382.3,1129.3 383.6,1125.6 384.6,1121.9 C385.6,1118.2 386.5,1115.4 387.4,1110.9 C388.3,1106.4 388.6,1103.0 389.8,1095.0 C391.0,1087.0 392.9,1074.3 394.6,1062.8 C396.3,1051.4 398.3,1038.5 400.1,1026.3 C401.9,1014.1 403.7,1001.9 405.6,989.5 C407.4,977.1 409.4,964.5 411.2,951.7 C413.0,938.9 414.6,925.9 416.6,912.9 C418.5,899.9 420.8,886.9 422.9,873.9 C425.0,860.9 426.9,847.9 428.9,834.9 C431.0,821.9 432.9,808.9 435.1,795.9 C437.4,782.9 440.1,770.0 442.4,757.0 C444.7,744.0 447.1,731.0 449.0,718.0 C451.0,705.0 452.5,692.3 454.4,679.0 C456.3,665.7 458.2,652.4 460.4,638.1 C462.7,623.8 465.4,606.3 467.9,593.4 C470.5,580.4 473.1,569.6 475.8,560.4 C478.6,551.3 481.1,544.7 484.3,538.4 C487.6,532.1 491.3,526.4 495.2,522.6 C499.0,518.8 503.4,517.8 507.5,515.7 C511.6,513.5 516.0,512.8 519.9,509.8 C523.9,506.8 527.6,502.9 531.3,497.6 C535.0,492.3 538.6,483.7 542.1,477.7 C545.6,471.8 548.7,466.7 552.2,462.1 C555.7,457.5 559.3,453.4 563.0,450.2 C566.7,447.0 570.3,445.2 574.4,442.8 C578.4,440.4 582.6,438.6 587.3,436.1 C592.0,433.5 598.5,427.9 602.6,427.7 C606.7,427.5 608.9,431.2 611.8,434.8 C614.8,438.4 617.3,442.9 620.1,449.2 C622.8,455.4 625.4,463.9 628.3,472.4 C631.1,480.9 634.3,491.8 637.2,500.0 C640.2,508.3 642.7,515.9 646.0,521.9 C649.2,528.0 653.0,535.0 656.5,536.3 C660.0,537.6 663.0,533.0 667.1,529.9 C671.3,526.7 676.9,521.8 681.3,517.3 C685.7,512.8 690.3,507.9 693.5,503.0 C696.7,498.1 697.8,498.2 700.5,488.2 C703.3,478.1 704.6,471.0 710.1,442.9 C715.5,414.9 727.5,347.8 733.4,319.9 C739.2,292.1 741.5,284.5 745.1,276.0 C748.6,267.4 751.0,271.4 754.4,268.6 C757.8,265.8 762.4,263.0 765.5,259.1 C768.5,255.2 770.7,250.4 772.8,245.2 C775.0,240.0 776.6,233.7 778.4,227.7 C780.2,221.7 782.1,215.3 783.7,209.4 C785.4,203.5 786.9,197.2 788.5,192.2 C790.1,187.2 791.6,183.2 793.1,179.4 C794.6,175.7 796.1,172.1 797.6,169.6 C799.1,167.1 800.5,164.6 802.2,164.6 C803.9,164.6 805.9,167.0 807.5,169.6 C809.2,172.1 810.7,175.8 812.1,179.9 C813.5,184.1 814.7,189.2 815.9,194.5 C817.1,199.9 818.4,206.2 819.4,212.2 C820.5,218.2 821.4,224.3 822.3,230.7 C823.3,237.2 824.2,243.8 825.1,251.0 C826.0,258.2 826.8,265.6 827.6,274.0 C828.5,282.5 829.1,291.3 830.4,301.9 C831.7,312.4 834.0,324.8 835.5,337.1 C837.1,349.4 838.4,361.7 839.7,375.9 C841.0,390.2 842.1,406.3 843.3,422.5 C844.5,438.7 845.6,455.6 847.0,473.0 C848.4,490.5 849.3,510.2 851.7,527.3 C854.1,544.3 857.6,558.8 861.2,575.4 C864.9,591.9 870.2,610.2 873.7,626.6 C877.2,643.1 879.7,657.2 882.3,674.0 C884.9,690.8 887.2,711.6 889.4,727.3 C891.6,743.0 893.6,754.9 895.3,768.1 C896.9,781.4 898.1,792.7 899.2,806.8 C900.2,821.0 900.9,838.3 901.6,853.0 C902.3,867.8 902.5,883.0 903.4,895.3 C904.3,907.7 905.5,913.1 907.1,927.0 C908.7,940.9 911.2,961.1 912.9,978.8 C914.6,996.5 915.7,1012.0 917.4,1033.2 C919.1,1054.5 920.6,1073.7 923.1,1106.3 C925.7,1138.8 930.1,1198.2 932.7,1228.5 C935.4,1258.9 937.1,1273.1 938.8,1288.2 C940.5,1303.4 941.6,1309.8 943.1,1319.4 C944.6,1329.0 946.0,1337.6 947.7,1345.9 C949.5,1354.3 951.6,1362.2 953.7,1369.4 C955.9,1376.5 957.9,1382.9 960.6,1388.6 C963.4,1394.4 966.5,1399.7 970.2,1403.9 C973.9,1408.1 978.0,1411.2 982.8,1413.7 C987.7,1416.2 992.8,1417.6 999.5,1419.0 C1006.2,1420.5 1014.3,1421.4 1023.3,1422.3 C1032.3,1423.3 1040.7,1424.6 1053.6,1424.8 C1066.5,1425.0 1084.6,1423.9 1100.6,1423.6 C1116.7,1423.2 1126.6,1422.5 1150.0,1422.5 C1173.4,1422.5 1216.2,1423.2 1241.2,1423.6 C1266.2,1424.0 1280.4,1424.5 1300.0,1425.1 C1319.6,1425.6 1319.0,1426.4 1358.8,1426.9 C1398.5,1427.5 1422.3,1428.0 1538.2,1428.3 C1654.1,1428.7 1968.0,1428.9 2054.0,1429.0"/>
<path stroke="#00A2FF" d="M839.6,1424.0 C840.4,1423.5 843.1,1422.0 844.7,1420.8 C846.3,1419.7 847.8,1418.4 849.4,1417.1 C850.9,1415.8 852.5,1414.6 853.9,1413.2 C855.4,1411.8 856.8,1410.5 858.1,1408.9 C859.3,1407.4 860.2,1405.5 861.2,1403.8 C862.3,1402.1 863.4,1400.4 864.4,1398.8 C865.5,1397.1 866.7,1395.4 867.6,1393.7 C868.5,1391.9 869.1,1390.0 869.8,1388.1 C870.4,1386.2 870.9,1384.3 871.5,1382.4 C872.1,1380.5 872.6,1378.5 873.2,1376.6 C873.8,1374.7 874.4,1372.8 874.9,1370.9 C875.4,1368.9 875.8,1367.0 876.3,1365.0 C876.7,1363.1 877.0,1361.1 877.4,1359.1 C877.8,1357.2 878.2,1355.2 878.5,1353.3 C878.9,1351.3 879.3,1349.3 879.7,1347.4 C880.0,1345.4 880.3,1343.4 880.7,1341.4 C881.0,1339.5 881.3,1337.5 881.6,1335.5 C881.9,1333.5 882.1,1331.6 882.4,1329.6 C882.7,1327.6 883.0,1325.6 883.3,1323.6 C883.6,1321.7 884.0,1319.7 884.3,1317.7 C884.6,1315.7 884.9,1313.8 885.2,1311.8 C885.5,1309.8 885.8,1307.8 886.1,1305.9 C886.4,1303.9 886.8,1301.9 887.0,1299.9 C887.3,1297.9 887.4,1295.9 887.6,1294.0 C887.9,1292.0 888.0,1290.0 888.2,1288.0 C888.4,1286.0 888.6,1284.0 888.8,1282.0 C889.0,1280.0 889.2,1278.0 889.4,1276.0 C889.6,1274.1 889.8,1272.1 890.0,1270.1 C890.2,1268.1 890.4,1266.1 890.6,1264.1 C890.8,1262.1 891.0,1260.1 891.2,1258.1 C891.4,1256.1 891.6,1254.2 891.8,1252.2 C892.0,1250.2 892.2,1248.2 892.4,1246.2 C892.6,1244.2 892.8,1242.2 893.0,1240.2 C893.2,1238.2 893.4,1236.2 893.6,1234.3 C893.8,1232.3 894.0,1230.3 894.2,1228.3 C894.5,1226.3 894.8,1224.3 895.0,1222.3 C895.3,1220.4 895.6,1218.4 895.8,1216.4 C896.1,1214.4 896.3,1212.4 896.6,1210.4 C896.9,1208.5 897.2,1206.5 897.4,1204.5 C897.6,1202.5 897.7,1200.5 897.9,1198.5 C898.0,1196.5 898.1,1194.5 898.3,1192.5 C898.4,1190.5 898.6,1188.5 898.7,1186.5 C898.8,1184.6 899.0,1182.6 899.1,1180.6 C899.3,1178.6 899.4,1176.6 899.5,1174.6 C899.7,1172.6 899.8,1170.6 899.9,1168.6 C900.1,1166.6 900.2,1164.6 900.4,1162.6 C900.5,1160.6 900.6,1158.6 900.8,1156.6 C900.9,1154.6 901.1,1152.6 901.2,1150.6 C901.3,1148.6 901.5,1146.6 901.6,1144.6 C901.8,1142.7 901.9,1140.7 902.0,1138.7 C902.2,1136.7 902.3,1134.7 902.4,1132.7 C902.6,1130.7 902.7,1128.7 902.9,1126.7 C903.0,1124.7 903.1,1122.7 903.3,1120.7 C903.4,1118.7 903.6,1116.7 903.7,1114.7 C903.8,1112.7 904.0,1110.7 904.1,1108.7 C904.2,1106.7 904.4,1104.7 904.5,1102.8 C904.7,1100.8 904.8,1098.8 904.9,1096.8 C905.1,1094.8 905.2,1092.8 905.4,1090.8 C905.5,1088.8 905.6,1086.8 905.8,1084.8 C905.9,1082.8 906.1,1080.8 906.2,1078.8 C906.4,1076.8 906.5,1074.8 906.7,1072.8 C906.8,1070.8 907.0,1068.8 907.1,1066.8 C907.3,1064.9 907.4,1062.9 907.6,1060.9 C907.7,1058.9 907.9,1056.9 908.0,1054.9 C908.2,1052.9 908.3,1050.9 908.5,1048.9 C908.6,1046.9 908.8,1044.9 908.9,1042.9 C909.1,1040.9 909.2,1038.9 909.4,1036.9 C909.5,1034.9 909.6,1032.9 909.7,1030.9 C909.8,1028.9 909.9,1026.9 910.0,1024.9 C910.1,1023.0 910.2,1021.0 910.3,1019.0 C910.4,1017.0 910.5,1015.0 910.6,1013.0 C910.7,1011.0 910.8,1009.0 910.9,1007.0 C911.0,1005.0 911.1,1003.0 911.2,1001.0 C911.3,999.0 911.4,997.0 911.5,995.0 C911.6,993.0 911.7,991.0 911.8,989.0 C911.9,987.0 912.1,985.0 912.1,983.0 C912.2,981.0 912.3,979.0 912.4,977.0 C912.5,975.0 912.6,973.0 912.7,971.0 C912.8,969.0 912.9,967.0 913.0,965.0 C913.1,963.0 913.2,961.0 913.2,959.0 C913.3,957.0 913.4,955.0 913.5,953.0 C913.6,951.0 913.7,949.0 913.8,947.0 C913.9,945.0 914.0,943.0 914.1,941.0 C914.1,939.0 914.2,937.0 914.3,935.1 C914.4,933.1 914.5,931.1 914.6,929.1 C914.7,927.1 914.8,925.1 914.9,923.1 C915.0,921.1 915.0,919.1 915.1,917.1 C915.2,915.1 915.3,913.1 915.4,911.1 C915.5,909.1 915.6,907.1 915.7,905.1 C915.8,903.1 915.9,901.1 916.0,899.1 C916.1,897.1 916.2,895.1 916.3,893.1 C916.3,891.1 916.4,889.1 916.5,887.1 C916.6,885.1 916.7,883.1 916.8,881.1 C916.9,879.1 917.0,877.1 917.1,875.1 C917.2,873.1 917.3,871.1 917.4,869.1 C917.5,867.1 917.5,865.1 917.7,863.1 C917.8,861.1 917.9,859.1 918.1,857.1 C918.3,855.2 918.5,853.2 918.7,851.2 C918.9,849.2 919.1,847.2 919.4,845.2 C919.6,843.2 919.8,841.2 920.0,839.2 C920.2,837.3 920.4,835.3 920.6,833.3 C920.8,831.3 921.0,829.3 921.2,827.3 C921.4,825.3 921.7,823.3 921.9,821.3 C922.0,819.4 922.1,817.4 922.2,815.4 C922.3,813.4 922.4,811.4 922.5,809.4 C922.6,807.4 922.7,805.4 922.8,803.4 C922.9,801.4 923.0,799.4 923.1,797.4 C923.2,795.4 923.3,793.4 923.4,791.4 C923.5,789.4 923.6,787.4 923.7,785.4 C923.8,783.4 923.9,781.4 924.0,779.4 C924.1,777.4 924.2,775.4 924.3,773.4 C924.4,771.4 924.5,769.4 924.6,767.4 C924.7,765.4 924.8,763.4 924.9,761.4 C925.0,759.4 925.1,757.4 925.2,755.4 C925.3,753.4 925.4,751.4 925.5,749.4 C925.6,747.4 925.7,745.4 925.8,743.4 C925.9,741.4 926.0,739.5 926.1,737.5 C926.2,735.5 926.3,733.5 926.4,731.5 C926.5,729.5 926.6,727.5 926.7,725.5 C926.8,723.5 926.9,721.5 927.0,719.5 C927.1,717.5 927.2,715.5 927.3,713.5 C927.4,711.5 927.5,709.5 927.6,707.5 C927.7,705.5 927.8,703.5 927.9,701.5 C928.0,699.5 928.1,697.5 928.2,695.5 C928.3,693.5 928.4,691.5 928.5,689.5 C928.6,687.5 928.7,685.5 928.8,683.5 C928.9,681.5 929.0,679.5 929.1,677.5 C929.2,675.5 929.3,673.5 929.4,671.5 C929.5,669.5 929.6,667.5 929.7,665.5 C929.8,663.5 929.9,661.5 930.0,659.6 C930.1,657.6 930.2,655.6 930.3,653.6 C930.4,651.6 930.5,649.6 930.6,647.6 C930.7,645.6 930.8,643.6 930.9,641.6 C931.0,639.6 931.1,637.6 931.2,635.6 C931.3,633.6 931.4,631.6 931.5,629.6 C931.6,627.6 931.6,625.6 931.7,623.6 C931.8,621.6 931.9,619.6 932.0,617.6 C932.1,615.6 932.2,613.6 932.3,611.6 C932.4,609.6 932.5,607.6 932.5,605.6 C932.6,603.6 932.7,601.6 932.8,599.6 C932.9,597.6 933.0,595.6 933.1,593.6 C933.2,591.6 933.3,589.6 933.4,587.6 C933.4,585.6 933.5,583.6 933.6,581.6 C933.7,579.6 933.8,577.6 933.9,575.6 C934.0,573.6 934.1,571.6 934.2,569.6 C934.3,567.6 934.3,565.7 934.4,563.7 C934.5,561.7 934.6,559.7 934.7,557.7 C934.8,555.7 934.9,553.7 935.0,551.7 C935.0,549.7 935.1,547.7 935.2,545.7 C935.3,543.7 935.4,541.7 935.5,539.7 C935.6,537.7 935.6,535.7 935.7,533.7 C935.9,531.7 936.0,529.7 936.3,527.7 C936.5,525.7 936.9,523.8 937.2,521.8 C937.6,519.8 937.9,517.8 938.2,515.9 C938.5,513.9 938.9,511.9 939.2,510.0 C939.5,508.0 939.9,506.0 940.1,504.0 C940.4,502.1 940.7,500.1 940.8,498.1 C940.9,496.1 940.8,494.1 940.8,492.1 C940.8,490.1 940.7,488.1 940.8,486.1 C940.9,484.1 941.0,482.1 941.1,480.1 C941.3,478.1 941.5,476.1 941.7,474.1 C941.9,472.1 942.1,470.1 942.3,468.2 C942.5,466.2 942.7,464.2 942.9,462.2 C943.1,460.2 943.3,458.2 943.5,456.2 C943.7,454.2 943.9,452.2 944.1,450.2 C944.3,448.3 944.5,446.3 944.7,444.3 C944.9,442.3 945.1,440.3 945.3,438.3 C945.5,436.3 945.8,434.3 946.0,432.3 C946.3,430.4 946.5,428.4 946.8,426.4 C947.1,424.4 947.3,422.4 947.6,420.5 C947.9,418.5 948.1,416.5 948.4,414.5 C948.7,412.5 948.9,410.5 949.2,408.6 C949.5,406.6 949.6,404.6 950.0,402.6 C950.4,400.7 950.6,398.7 951.3,396.9 C952.1,395.0 953.3,393.4 954.3,391.7 C955.4,389.9 956.4,387.5 957.4,386.5 C958.4,385.5 959.4,385.0 960.4,385.7 C961.4,386.4 962.4,389.2 963.4,390.9 C964.4,392.6 965.5,394.3 966.4,396.1 C967.4,397.8 968.2,399.6 969.1,401.4 C969.9,403.2 970.7,405.1 971.5,406.9 C972.3,408.7 973.2,410.6 974.0,412.4 C974.8,414.2 975.4,416.2 976.4,417.9 C977.4,419.6 978.7,421.0 980.1,422.4 C981.5,423.8 983.3,426.1 984.7,426.3 C986.0,426.6 987.2,425.1 988.4,423.8 C989.6,422.6 990.8,420.6 991.8,418.9 C992.9,417.2 994.0,415.6 994.8,413.7 C995.5,411.9 995.7,409.9 996.2,407.9 C996.7,406.0 997.2,404.1 997.7,402.1 C998.2,400.2 998.7,398.2 999.2,396.3 C999.7,394.4 1000.2,392.4 1000.6,390.5 C1001.1,388.5 1001.6,386.6 1002.0,384.6 C1002.4,382.7 1002.7,380.7 1003.1,378.7 C1003.4,376.8 1003.8,374.8 1004.1,372.8 C1004.5,370.9 1004.8,368.9 1005.1,366.9 C1005.5,364.9 1005.8,363.0 1006.2,361.0 C1006.5,359.0 1006.9,357.1 1007.2,355.1 C1007.6,353.1 1007.9,351.2 1008.3,349.2 C1008.6,347.2 1009.0,345.2 1009.3,343.3 C1009.6,341.3 1010.0,339.3 1010.3,337.4 C1010.6,335.4 1010.9,333.4 1011.3,331.4 C1011.6,329.5 1011.9,327.5 1012.3,325.5 C1012.6,323.5 1012.9,321.6 1013.2,319.6 C1013.6,317.6 1013.9,315.7 1014.2,313.7 C1014.6,311.7 1014.9,309.7 1015.2,307.8 C1015.5,305.8 1015.9,303.8 1016.2,301.8 C1016.5,299.9 1016.8,297.9 1017.1,295.9 C1017.4,293.9 1017.7,292.0 1018.0,290.0 C1018.3,288.0 1018.6,286.0 1018.9,284.1 C1019.3,282.1 1019.6,280.1 1019.9,278.1 C1020.2,276.2 1020.5,274.2 1020.8,272.2 C1021.1,270.2 1021.4,268.2 1021.7,266.3 C1022.0,264.3 1022.3,262.3 1022.6,260.3 C1022.9,258.4 1023.2,256.4 1023.5,254.4 C1023.8,252.4 1024.1,250.5 1024.4,248.5 C1024.7,246.5 1025.0,244.5 1025.3,242.5 C1025.6,240.6 1025.9,238.6 1026.2,236.6 C1026.5,234.6 1026.8,232.7 1027.1,230.7 C1027.4,228.7 1027.7,226.7 1028.0,224.7 C1028.3,222.8 1028.6,220.8 1028.9,218.8 C1029.2,216.8 1029.5,214.9 1029.8,212.9 C1030.1,210.9 1030.4,208.9 1030.7,206.9 C1031.0,205.0 1031.4,203.0 1031.8,201.0 C1032.1,199.1 1032.6,197.1 1032.9,195.2 C1033.3,193.2 1033.7,191.2 1034.1,189.3 C1034.5,187.3 1034.9,185.4 1035.3,183.4 C1035.7,181.4 1035.8,179.4 1036.5,177.5 C1037.1,175.6 1038.3,174.0 1039.3,172.2 C1040.2,170.4 1041.1,168.6 1042.1,166.9 C1043.0,165.2 1043.9,162.1 1044.9,162.2 C1045.8,162.3 1046.7,165.7 1047.7,167.5 C1048.6,169.3 1049.6,171.0 1050.5,172.8 C1051.4,174.6 1052.4,176.3 1053.1,178.2 C1053.7,180.1 1053.8,182.1 1054.2,184.1 C1054.6,186.0 1055.0,188.0 1055.4,190.0 C1055.8,191.9 1056.2,193.9 1056.6,195.8 C1057.0,197.8 1057.4,199.8 1057.8,201.7 C1058.2,203.7 1058.6,205.7 1058.9,207.6 C1059.3,209.6 1059.7,211.5 1060.1,213.5 C1060.5,215.5 1060.9,217.4 1061.3,219.4 C1061.7,221.3 1062.1,223.3 1062.5,225.3 C1062.9,227.2 1063.3,229.2 1063.7,231.1 C1064.1,233.1 1064.5,235.1 1064.8,237.0 C1065.2,239.0 1065.6,241.0 1066.0,242.9 C1066.4,244.9 1066.8,246.8 1067.2,248.8 C1067.6,250.8 1068.0,252.7 1068.4,254.7 C1068.8,256.6 1069.2,258.6 1069.6,260.6 C1070.0,262.5 1070.4,264.5 1070.7,266.4 C1071.1,268.4 1071.5,270.4 1071.9,272.3 C1072.3,274.3 1072.7,276.2 1073.1,278.2 C1073.5,280.2 1073.9,282.1 1074.3,284.1 C1074.6,286.1 1075.0,288.0 1075.3,290.0 C1075.6,292.0 1075.8,294.0 1076.1,295.9 C1076.4,297.9 1076.7,299.9 1077.0,301.9 C1077.3,303.9 1077.7,305.8 1078.0,307.8 C1078.3,309.8 1078.6,311.7 1079.0,313.7 C1079.3,315.7 1079.6,317.7 1079.9,319.6 C1080.2,321.6 1080.6,323.6 1080.9,325.6 C1081.2,327.5 1081.6,329.5 1081.9,331.5 C1082.2,333.5 1082.6,335.4 1082.9,337.4 C1083.2,339.4 1083.5,341.3 1083.9,343.3 C1084.2,345.3 1084.5,347.3 1084.9,349.2 C1085.2,351.2 1085.5,353.2 1085.9,355.2 C1086.2,357.1 1086.5,359.1 1086.9,361.1 C1087.2,363.0 1087.5,365.0 1087.9,367.0 C1088.2,369.0 1088.5,370.9 1088.8,372.9 C1089.2,374.9 1089.5,376.9 1089.8,378.8 C1090.0,380.8 1090.3,382.8 1090.5,384.8 C1090.8,386.8 1091.0,388.8 1091.3,390.7 C1091.5,392.7 1091.8,394.7 1092.0,396.7 C1092.3,398.7 1092.5,400.7 1092.8,402.6 C1093.0,404.6 1093.1,406.6 1093.5,408.6 C1093.9,410.5 1094.6,412.4 1095.2,414.3 C1095.8,416.3 1096.5,418.1 1097.1,420.0 C1097.7,421.9 1098.3,423.8 1098.8,425.8 C1099.3,427.7 1099.6,429.7 1100.0,431.7 C1100.4,433.6 1100.8,435.6 1101.2,437.5 C1101.5,439.5 1102.0,441.5 1102.3,443.4 C1102.6,445.4 1102.8,447.4 1103.1,449.4 C1103.3,451.4 1103.6,453.4 1103.9,455.3 C1104.1,457.3 1104.3,459.3 1104.7,461.3 C1105.1,463.2 1105.7,465.2 1106.1,467.1 C1106.6,469.0 1107.1,471.0 1107.6,472.9 C1108.2,474.8 1108.8,476.7 1109.4,478.6 C1110.0,480.5 1110.8,482.4 1111.5,484.3 C1112.1,486.1 1112.9,488.0 1113.5,489.9 C1114.1,491.8 1114.6,493.7 1115.2,495.7 C1115.8,497.6 1116.3,499.5 1116.9,501.4 C1117.6,503.3 1118.2,505.2 1118.9,507.1 C1119.6,509.0 1120.4,510.8 1121.1,512.6 C1121.9,514.5 1122.6,516.3 1123.4,518.2 C1124.2,520.0 1125.0,521.9 1125.8,523.7 C1126.5,525.5 1127.2,527.4 1128.0,529.3 C1128.7,531.1 1129.5,533.0 1130.2,534.8 C1131.0,536.7 1131.7,538.5 1132.5,540.4 C1133.3,542.2 1134.0,544.1 1134.8,545.9 C1135.7,547.7 1136.5,549.5 1137.4,551.3 C1138.2,553.2 1139.1,555.0 1139.9,556.8 C1140.7,558.6 1141.6,560.4 1142.4,562.2 C1143.2,564.0 1144.0,565.9 1144.8,567.7 C1145.6,569.5 1146.4,571.4 1147.1,573.2 C1147.9,575.1 1148.6,576.9 1149.3,578.8 C1149.9,580.7 1150.6,582.6 1151.2,584.5 C1151.9,586.4 1152.5,588.3 1153.1,590.2 C1153.7,592.1 1154.2,594.0 1154.8,595.9 C1155.3,597.8 1155.8,599.8 1156.3,601.7 C1156.8,603.6 1157.3,605.6 1157.8,607.5 C1158.3,609.5 1158.7,611.4 1159.2,613.4 C1159.6,615.3 1160.0,617.3 1160.5,619.2 C1160.9,621.2 1161.3,623.1 1161.7,625.1 C1162.1,627.0 1162.5,629.0 1162.9,631.0 C1163.3,632.9 1163.7,634.9 1164.1,636.8 C1164.5,638.8 1164.9,640.8 1165.3,642.7 C1165.7,644.7 1166.0,646.6 1166.4,648.6 C1166.8,650.6 1167.2,652.5 1167.6,654.5 C1167.9,656.5 1168.3,658.4 1168.7,660.4 C1169.1,662.4 1169.4,664.3 1169.8,666.3 C1170.2,668.2 1170.6,670.2 1171.0,672.1 C1171.4,674.1 1171.9,676.1 1172.3,678.0 C1172.8,679.9 1173.2,681.9 1173.7,683.8 C1174.2,685.8 1174.6,687.7 1175.1,689.6 C1175.6,691.6 1176.1,693.5 1176.5,695.5 C1177.0,697.4 1177.5,699.3 1177.9,701.3 C1178.4,703.2 1178.8,705.2 1179.3,707.1 C1179.7,709.1 1180.2,711.0 1180.6,713.0 C1181.0,714.9 1181.4,716.9 1181.9,718.9 C1182.3,720.8 1182.7,722.8 1183.0,724.7 C1183.4,726.7 1183.8,728.7 1184.2,730.6 C1184.5,732.6 1184.9,734.6 1185.2,736.5 C1185.5,738.5 1185.9,740.5 1186.2,742.5 C1186.5,744.4 1186.8,746.4 1187.1,748.4 C1187.4,750.3 1187.7,752.3 1188.1,754.3 C1188.4,756.3 1188.7,758.3 1189.0,760.2 C1189.3,762.2 1189.6,764.2 1190.0,766.2 C1190.3,768.1 1190.6,770.1 1190.9,772.1 C1191.3,774.0 1191.6,776.0 1191.9,778.0 C1192.3,780.0 1192.6,781.9 1192.9,783.9 C1193.3,785.9 1193.6,787.8 1193.9,789.8 C1194.3,791.8 1194.6,793.8 1194.9,795.7 C1195.3,797.7 1195.6,799.7 1195.9,801.7 C1196.2,803.6 1196.6,805.6 1196.9,807.6 C1197.2,809.5 1197.6,811.5 1197.9,813.5 C1198.2,815.5 1198.6,817.4 1198.9,819.4 C1199.3,821.4 1199.6,823.3 1200.0,825.3 C1200.4,827.3 1200.7,829.2 1201.1,831.2 C1201.5,833.2 1201.9,835.1 1202.3,837.1 C1202.7,839.0 1203.1,841.0 1203.5,843.0 C1203.9,844.9 1204.2,846.9 1204.6,848.8 C1205.0,850.8 1205.4,852.8 1205.8,854.7 C1206.1,856.7 1206.5,858.7 1206.9,860.6 C1207.3,862.6 1207.6,864.6 1208.0,866.5 C1208.4,868.5 1208.7,870.5 1209.1,872.4 C1209.5,874.4 1209.9,876.3 1210.3,878.3 C1210.6,880.3 1211.0,882.2 1211.4,884.2 C1211.8,886.1 1212.3,888.1 1212.7,890.1 C1213.1,892.0 1213.5,894.0 1213.9,895.9 C1214.4,897.9 1214.8,899.8 1215.2,901.8 C1215.7,903.7 1216.1,905.7 1216.6,907.6 C1217.0,909.6 1217.5,911.5 1217.9,913.5 C1218.4,915.4 1218.9,917.4 1219.3,919.3 C1219.8,921.3 1220.3,923.2 1220.7,925.1 C1221.2,927.1 1221.7,929.0 1222.2,931.0 C1222.7,932.9 1223.1,934.8 1223.6,936.8 C1224.1,938.7 1224.6,940.7 1225.1,942.6 C1225.6,944.5 1226.0,946.5 1226.5,948.4 C1227.0,950.4 1227.5,952.3 1228.0,954.2 C1228.5,956.2 1229.0,958.1 1229.4,960.1 C1229.9,962.0 1230.4,963.9 1230.9,965.9 C1231.4,967.8 1231.9,969.8 1232.4,971.7 C1232.8,973.6 1233.3,975.6 1233.8,977.5 C1234.3,979.5 1234.8,981.4 1235.3,983.3 C1235.8,985.3 1236.3,987.2 1236.8,989.1 C1237.4,991.1 1237.9,993.0 1238.4,994.9 C1238.9,996.9 1239.5,998.8 1240.0,1000.7 C1240.6,1002.6 1241.2,1004.5 1241.7,1006.4 C1242.3,1008.4 1242.9,1010.3 1243.5,1012.2 C1244.1,1014.1 1244.8,1016.0 1245.4,1017.9 C1246.0,1019.8 1246.7,1021.6 1247.4,1023.5 C1248.0,1025.4 1248.7,1027.3 1249.5,1029.1 C1250.2,1031.0 1250.9,1032.9 1251.6,1034.7 C1252.3,1036.6 1253.1,1038.5 1253.8,1040.3 C1254.5,1042.2 1255.3,1044.0 1256.0,1045.9 C1256.8,1047.8 1257.5,1049.6 1258.2,1051.5 C1259.0,1053.3 1259.7,1055.2 1260.5,1057.0 C1261.2,1058.9 1261.9,1060.8 1262.7,1062.6 C1263.4,1064.5 1264.1,1066.3 1264.9,1068.2 C1265.6,1070.1 1266.3,1071.9 1267.0,1073.8 C1267.7,1075.7 1268.4,1077.6 1269.1,1079.4 C1269.8,1081.3 1270.5,1083.2 1271.1,1085.1 C1271.8,1087.0 1272.4,1088.9 1273.1,1090.7 C1273.7,1092.6 1274.4,1094.5 1275.0,1096.4 C1275.7,1098.3 1276.3,1100.2 1277.0,1102.1 C1277.6,1104.0 1278.3,1105.9 1279.0,1107.7 C1279.7,1109.6 1280.4,1111.5 1281.2,1113.3 C1281.9,1115.2 1282.7,1117.0 1283.4,1118.9 C1284.2,1120.7 1285.0,1122.5 1285.8,1124.4 C1286.6,1126.2 1287.4,1128.0 1288.2,1129.8 C1289.1,1131.7 1289.9,1133.5 1290.7,1135.3 C1291.5,1137.1 1292.4,1139.0 1293.2,1140.8 C1294.0,1142.6 1294.8,1144.4 1295.7,1146.2 C1296.5,1148.1 1297.3,1149.9 1298.2,1151.7 C1299.0,1153.5 1299.8,1155.3 1300.6,1157.2 C1301.5,1159.0 1302.3,1160.8 1303.1,1162.6 C1304.0,1164.4 1304.8,1166.3 1305.6,1168.1 C1306.4,1169.9 1307.3,1171.7 1308.1,1173.5 C1308.9,1175.4 1309.8,1177.2 1310.6,1179.0 C1311.4,1180.8 1312.3,1182.6 1313.1,1184.4 C1314.0,1186.2 1314.8,1188.1 1315.7,1189.9 C1316.5,1191.7 1317.4,1193.5 1318.3,1195.3 C1319.1,1197.1 1320.0,1198.9 1320.9,1200.7 C1321.8,1202.5 1322.6,1204.3 1323.5,1206.1 C1324.4,1207.9 1325.3,1209.7 1326.2,1211.4 C1327.0,1213.2 1327.9,1215.0 1328.8,1216.8 C1329.7,1218.6 1330.6,1220.4 1331.4,1222.2 C1332.3,1224.0 1333.2,1225.8 1334.1,1227.6 C1335.0,1229.4 1335.9,1231.2 1336.8,1233.0 C1337.7,1234.7 1338.6,1236.5 1339.6,1238.3 C1340.5,1240.0 1341.5,1241.8 1342.5,1243.5 C1343.4,1245.2 1344.4,1246.9 1345.4,1248.7 C1346.4,1250.4 1347.4,1252.1 1348.4,1253.8 C1349.4,1255.5 1350.4,1257.3 1351.4,1259.0 C1352.4,1260.7 1353.3,1262.5 1354.3,1264.2 C1355.2,1265.9 1356.2,1267.7 1357.2,1269.4 C1358.1,1271.2 1359.1,1272.9 1360.1,1274.6 C1361.1,1276.3 1362.2,1278.0 1363.2,1279.7 C1364.3,1281.4 1365.4,1283.1 1366.5,1284.7 C1367.6,1286.4 1368.8,1288.0 1369.9,1289.6 C1371.1,1291.2 1372.3,1292.8 1373.5,1294.4 C1374.8,1296.0 1376.0,1297.5 1377.3,1299.1 C1378.5,1300.6 1379.8,1302.2 1381.1,1303.7 C1382.4,1305.2 1383.7,1306.7 1385.0,1308.2 C1386.3,1309.7 1387.6,1311.2 1389.0,1312.7 C1390.3,1314.2 1391.6,1315.7 1393.0,1317.2 C1394.4,1318.6 1395.7,1320.1 1397.1,1321.5 C1398.5,1323.0 1399.9,1324.4 1401.3,1325.8 C1402.7,1327.2 1404.1,1328.6 1405.6,1330.0 C1407.0,1331.4 1408.5,1332.8 1409.9,1334.1 C1411.4,1335.5 1412.9,1336.8 1414.4,1338.2 C1415.8,1339.5 1417.4,1340.8 1418.9,1342.1 C1420.4,1343.4 1421.9,1344.6 1423.5,1345.9 C1425.1,1347.2 1426.6,1348.4 1428.2,1349.6 C1429.8,1350.8 1431.4,1352.1 1433.0,1353.3 C1434.6,1354.4 1436.2,1355.6 1437.8,1356.8 C1439.4,1357.9 1441.1,1359.1 1442.7,1360.2 C1444.4,1361.3 1446.0,1362.4 1447.7,1363.5 C1449.4,1364.6 1451.1,1365.7 1452.8,1366.7 C1454.5,1367.8 1456.2,1368.8 1457.9,1369.9 C1459.6,1370.9 1461.3,1371.9 1463.1,1372.9 C1464.8,1373.8 1466.6,1374.8 1468.3,1375.7 C1470.1,1376.7 1471.9,1377.6 1473.7,1378.4 C1475.4,1379.3 1477.3,1380.2 1479.1,1381.0 C1480.9,1381.9 1482.7,1382.7 1484.5,1383.5 C1486.4,1384.3 1488.2,1385.1 1490.0,1385.8 C1491.9,1386.6 1493.7,1387.3 1495.6,1388.1 C1497.5,1388.8 1499.3,1389.5 1501.2,1390.2 C1503.1,1390.8 1505.0,1391.5 1506.9,1392.1 C1508.8,1392.8 1510.7,1393.4 1512.6,1394.0 C1514.5,1394.6 1516.4,1395.2 1518.3,1395.7 C1520.2,1396.3 1522.1,1396.9 1524.0,1397.4 C1526.0,1398.0 1527.9,1398.6 1529.8,1399.1 C1531.7,1399.6 1533.7,1400.2 1535.6,1400.7 C1537.5,1401.2 1539.4,1401.7 1541.4,1402.2 C1543.3,1402.8 1545.3,1403.2 1547.2,1403.7 C1549.1,1404.2 1551.1,1404.7 1553.0,1405.2 C1555.0,1405.7 1556.9,1406.1 1558.8,1406.6 C1560.8,1407.0 1562.7,1407.5 1564.7,1407.9 C1566.6,1408.4 1568.6,1408.8 1570.6,1409.2 C1572.5,1409.6 1574.5,1410.0 1576.4,1410.3 C1578.4,1410.7 1580.4,1411.1 1582.3,1411.4 C1584.3,1411.8 1586.3,1412.1 1588.2,1412.4 C1590.2,1412.8 1592.2,1413.1 1594.2,1413.4 C1596.1,1413.8 1598.1,1414.1 1600.1,1414.4 C1602.1,1414.7 1604.0,1415.1 1606.0,1415.4 C1608.0,1415.7 1610.0,1416.0 1611.9,1416.3 C1613.9,1416.6 1615.9,1416.9 1617.9,1417.2 C1619.8,1417.4 1621.8,1417.7 1623.8,1417.9 C1625.8,1418.2 1627.8,1418.4 1629.8,1418.6 C1631.8,1418.8 1633.7,1419.0 1635.7,1419.2 C1637.7,1419.4 1639.7,1419.6 1641.7,1419.8 C1643.7,1420.0 1645.7,1420.2 1647.7,1420.4 C1649.7,1420.5 1651.7,1420.7 1653.7,1420.9 C1655.6,1421.1 1657.6,1421.2 1659.6,1421.4 C1661.6,1421.6 1663.6,1421.8 1665.6,1421.9 C1667.6,1422.1 1669.6,1422.3 1671.6,1422.5 C1673.6,1422.7 1675.6,1422.8 1677.6,1423.0 C1679.6,1423.2 1681.5,1423.3 1683.5,1423.5 C1685.5,1423.7 1687.5,1423.8 1689.5,1424.0 C1691.5,1424.2 1693.5,1424.4 1695.5,1424.5 C1697.5,1424.7 1699.5,1424.9 1701.5,1425.0 C1703.5,1425.2 1705.5,1425.2 1707.5,1425.2 C1709.5,1425.3 1711.5,1425.3 1713.5,1425.4 C1715.5,1425.5 1717.5,1425.5 1719.5,1425.6 C1721.5,1425.6 1723.5,1425.7 1725.5,1425.8 C1727.5,1425.8 1729.5,1425.9 1731.5,1425.9 C1733.5,1426.0 1735.5,1426.1 1737.5,1426.1 C1739.5,1426.2 1741.5,1426.2 1743.5,1426.3 C1745.5,1426.4 1747.5,1426.4 1749.4,1426.5 C1751.4,1426.5 1753.4,1426.6 1755.4,1426.7 C1757.4,1426.7 1759.4,1426.8 1761.4,1426.8 C1763.4,1426.9 1765.4,1427.0 1767.4,1427.0 C1769.4,1427.1 1771.4,1427.1 1773.4,1427.2 C1775.4,1427.3 1777.4,1427.3 1779.4,1427.4 C1781.4,1427.4 1783.4,1427.5 1785.4,1427.6 C1787.4,1427.6 1789.4,1427.7 1791.4,1427.7 C1793.4,1427.8 1795.4,1427.9 1797.4,1427.9 C1799.4,1428.0 1801.4,1428.0 1803.4,1428.0 C1805.4,1428.0 1807.4,1428.0 1809.4,1428.0 C1811.4,1428.0 1813.4,1428.1 1815.4,1428.1 C1817.4,1428.1 1819.4,1428.1 1821.4,1428.1 C1823.4,1428.1 1825.4,1428.1 1827.4,1428.1 C1829.4,1428.1 1831.4,1428.1 1833.4,1428.1 C1835.4,1428.1 1837.4,1428.1 1839.4,1428.2 C1841.4,1428.2 1843.4,1428.2 1845.4,1428.2 C1847.4,1428.2 1849.4,1428.2 1851.4,1428.2 C1853.4,1428.2 1855.4,1428.2 1857.4,1428.2 C1859.4,1428.2 1861.4,1428.2 1863.4,1428.2 C1865.4,1428.3 1867.4,1428.3 1869.4,1428.3 C1871.4,1428.3 1873.4,1428.3 1875.4,1428.3 C1877.4,1428.3 1879.4,1428.3 1881.4,1428.3 C1883.4,1428.3 1885.4,1428.3 1887.4,1428.3 C1889.4,1428.4 1891.4,1428.4 1893.4,1428.4 C1895.4,1428.4 1897.4,1428.4 1899.4,1428.4 C1901.4,1428.4 1903.4,1428.4 1905.4,1428.4 C1907.4,1428.4 1909.4,1428.4 1911.4,1428.4 C1913.4,1428.4 1915.4,1428.5 1917.4,1428.5 C1919.4,1428.5 1921.4,1428.5 1923.4,1428.5 C1925.4,1428.5 1927.4,1428.5 1929.4,1428.5 C1931.4,1428.5 1933.4,1428.5 1935.4,1428.5 C1937.4,1428.5 1939.4,1428.5 1941.4,1428.6 C1943.4,1428.6 1945.4,1428.6 1947.4,1428.6 C1949.4,1428.6 1951.4,1428.6 1953.4,1428.6 C1955.4,1428.6 1957.4,1428.6 1959.4,1428.6 C1961.4,1428.6 1963.4,1428.6 1965.4,1428.7 C1967.4,1428.7 1969.4,1428.7 1971.4,1428.7 C1973.4,1428.7 1975.4,1428.7 1977.4,1428.7 C1979.4,1428.7 1981.4,1428.7 1983.4,1428.7 C1985.4,1428.7 1987.4,1428.7 1989.4,1428.7 C1991.4,1428.8 1993.4,1428.8 1995.4,1428.8 C1997.4,1428.8 1999.4,1428.8 2001.4,1428.8 C2003.4,1428.8 2005.4,1428.8 2007.4,1428.8 C2009.4,1428.8 2011.4,1428.8 2013.4,1428.8 C2015.4,1428.8 2017.4,1428.9 2019.4,1428.9 C2021.4,1428.9 2023.4,1428.9 2025.4,1428.9 C2027.4,1428.9 2029.4,1428.9 2031.4,1428.9 C2033.4,1428.9 2035.4,1428.9 2037.4,1428.9 C2039.4,1428.9 2041.4,1429.0 2043.4,1429.0 C2045.4,1429.0 2047.7,1429.0 2049.4,1429.0 C2051.2,1429.0 2053.2,1429.0 2054.0,1429.0"/>
<path stroke="#0000FF" d="M316.0,1100.0 C316.5,1103.5 318.0,1114.7 319.0,1121.3 C320.1,1127.9 321.3,1134.1 322.5,1139.7 C323.6,1145.3 324.5,1150.4 325.8,1154.7 C327.0,1159.0 328.5,1162.4 329.9,1165.4 C331.3,1168.5 332.8,1171.1 334.4,1173.1 C336.0,1175.1 337.4,1177.4 339.4,1177.5 C341.3,1177.6 343.8,1175.1 346.1,1173.6 C348.4,1172.1 350.9,1170.5 353.0,1168.5 C355.2,1166.5 357.1,1164.4 358.9,1161.7 C360.6,1159.0 362.0,1155.8 363.4,1152.6 C364.7,1149.3 365.9,1145.8 367.1,1142.4 C368.2,1139.0 369.1,1135.6 370.1,1132.2 C371.1,1128.7 372.1,1125.3 373.1,1121.8 C374.2,1118.3 375.4,1115.1 376.4,1111.0 C377.5,1106.9 378.2,1103.5 379.7,1097.0 C381.1,1090.5 383.3,1080.8 384.9,1072.1 C386.5,1063.3 387.8,1053.7 389.3,1044.5 C390.7,1035.4 392.2,1026.2 393.7,1017.1 C395.1,1008.0 396.7,998.3 398.1,989.7 C399.4,981.1 400.5,972.4 401.5,965.3 C402.6,958.1 403.0,955.6 404.3,946.9 C405.7,938.2 407.7,925.1 409.8,912.9 C411.8,900.7 414.6,886.9 416.9,873.9 C419.1,860.9 421.0,847.9 423.1,834.9 C425.1,821.9 426.9,808.9 429.2,795.9 C431.6,782.9 434.2,770.0 437.1,757.0 C439.9,744.0 443.3,731.0 446.5,718.0 C449.7,705.0 453.1,691.4 456.2,679.0 C459.3,666.6 462.4,653.3 464.8,643.7 C467.3,634.0 468.3,628.0 470.8,620.9 C473.3,613.8 477.1,606.0 480.0,601.3 C483.0,596.6 483.9,593.3 488.5,592.6 C493.1,591.9 502.4,597.6 507.5,597.3 C512.6,596.9 514.9,594.0 518.9,590.5 C522.8,587.0 527.1,581.0 531.3,576.1 C535.5,571.2 539.7,565.2 544.3,561.1 C548.8,557.0 553.5,553.6 558.6,551.5 C563.6,549.3 568.9,549.5 574.7,548.0 C580.4,546.5 587.8,541.6 593.1,542.6 C598.4,543.6 602.6,548.8 606.6,553.8 C610.5,558.8 613.6,565.2 616.9,572.6 C620.2,580.0 623.2,589.8 626.4,598.1 C629.6,606.4 632.7,615.9 636.2,622.2 C639.6,628.6 643.0,636.0 647.0,636.1 C651.0,636.2 655.5,628.9 660.0,622.8 C664.4,616.7 669.2,608.9 673.6,599.3 C678.0,589.8 682.4,577.7 686.3,565.6 C690.3,553.5 693.9,540.1 697.4,526.8 C700.9,513.5 704.2,500.2 707.2,485.8 C710.2,471.4 713.4,455.1 715.4,440.7 C717.4,426.3 718.0,411.8 719.2,399.4 C720.5,387.0 721.5,375.7 722.7,366.1 C723.9,356.6 725.0,349.8 726.5,342.1 C728.0,334.4 729.5,327.2 731.6,319.7 C733.6,312.2 735.9,303.9 738.7,297.1 C741.6,290.3 745.1,284.4 748.5,278.8 C751.8,273.2 755.7,269.0 758.7,263.5 C761.6,258.0 764.1,252.0 766.4,246.0 C768.8,240.0 770.9,233.8 772.8,227.7 C774.8,221.6 776.6,215.4 778.3,209.4 C780.0,203.4 781.4,197.2 783.0,191.9 C784.6,186.7 786.0,181.9 787.6,177.9 C789.2,173.8 790.7,170.3 792.5,167.6 C794.3,164.9 796.8,162.1 798.6,161.9 C800.4,161.7 801.6,164.2 803.1,166.6 C804.6,169.1 806.2,172.4 807.5,176.5 C808.9,180.7 810.1,186.1 811.2,191.6 C812.3,197.1 813.2,203.4 814.1,209.4 C815.0,215.4 815.9,221.6 816.8,227.7 C817.7,233.8 818.7,239.9 819.6,246.0 C820.5,252.1 821.4,258.2 822.3,264.3 C823.2,270.3 824.1,276.2 824.9,282.4 C825.7,288.5 826.3,293.9 827.1,301.3 C828.0,308.8 828.9,317.0 830.0,327.0 C831.1,337.1 832.4,349.7 833.6,361.6 C834.8,373.4 836.0,385.9 837.2,398.1 C838.4,410.3 839.6,421.9 840.9,434.7 C842.1,447.5 843.4,460.8 844.7,475.2 C846.0,489.5 847.6,509.8 848.8,520.9 C849.9,532.0 850.1,533.3 851.7,541.8 C853.2,550.3 855.6,561.8 857.9,571.8 C860.2,581.9 862.9,592.3 865.3,602.0 C867.7,611.6 870.2,620.0 872.4,629.6 C874.6,639.2 876.6,648.8 878.3,659.7 C879.9,670.6 881.0,683.0 882.3,695.0 C883.6,707.0 884.8,719.0 886.0,731.6 C887.2,744.1 888.4,756.2 889.6,770.3 C890.9,784.3 892.2,802.0 893.5,815.9 C894.7,829.8 896.2,844.3 896.9,853.4 C897.6,862.6 897.2,863.3 897.5,870.6 C897.8,878.0 898.4,888.1 898.9,897.5 C899.4,906.9 899.2,913.5 900.5,927.0 C901.7,940.5 904.6,961.1 906.4,978.8 C908.2,996.5 909.6,1012.2 911.3,1033.2 C913.0,1054.3 914.1,1073.5 916.7,1105.1 C919.3,1136.7 924.1,1193.6 926.9,1223.0 C929.6,1252.4 931.3,1266.6 933.1,1281.6 C934.9,1296.7 936.3,1303.8 937.7,1313.3 C939.2,1322.8 940.5,1330.4 941.8,1338.5 C943.2,1346.6 944.4,1354.5 945.9,1361.7 C947.4,1369.0 948.9,1376.0 950.9,1382.1 C952.8,1388.1 954.8,1393.4 957.5,1398.2 C960.1,1403.0 963.4,1407.2 967.0,1410.8 C970.5,1414.5 975.0,1417.7 978.8,1419.9 C982.6,1422.1 986.0,1423.1 989.8,1424.0 C993.7,1425.0 996.7,1425.1 1001.8,1425.5 C1006.8,1425.9 1013.6,1426.2 1020.0,1426.5 C1026.4,1426.8 1033.3,1427.2 1040.0,1427.5 C1046.7,1427.8 1053.3,1428.2 1060.0,1428.4 C1066.7,1428.7 1073.3,1428.8 1080.0,1429.0 C1086.7,1429.2 937.7,1429.4 1100.0,1429.5 C1262.3,1429.6 1895.0,1429.5 2054.0,1429.5"/>
<path stroke="#0000FF" d="M834.5,1421.5 C835.3,1421.0 837.9,1419.4 839.6,1418.3 C841.2,1417.2 842.8,1415.9 844.4,1414.7 C846.0,1413.6 847.9,1412.6 849.2,1411.2 C850.6,1409.8 851.6,1408.0 852.7,1406.3 C853.8,1404.7 854.8,1402.9 855.9,1401.2 C856.9,1399.6 858.0,1397.9 859.1,1396.2 C860.1,1394.4 861.2,1392.8 861.9,1390.9 C862.7,1389.1 863.1,1387.1 863.7,1385.2 C864.2,1383.3 864.8,1381.4 865.4,1379.4 C865.9,1377.5 866.5,1375.6 867.1,1373.7 C867.6,1371.8 868.2,1369.9 868.7,1367.9 C869.2,1366.0 869.5,1364.0 869.9,1362.0 C870.3,1360.1 870.7,1358.1 871.1,1356.2 C871.5,1354.2 871.9,1352.2 872.3,1350.3 C872.7,1348.3 873.1,1346.4 873.4,1344.4 C873.7,1342.4 874.0,1340.4 874.3,1338.5 C874.6,1336.5 874.9,1334.5 875.1,1332.5 C875.4,1330.5 875.7,1328.6 876.0,1326.6 C876.3,1324.6 876.6,1322.6 876.9,1320.6 C877.2,1318.7 877.5,1316.7 877.8,1314.7 C878.1,1312.7 878.4,1310.8 878.7,1308.8 C879.0,1306.8 879.3,1304.8 879.6,1302.8 C879.9,1300.9 880.1,1298.9 880.4,1296.9 C880.6,1294.9 880.8,1292.9 880.9,1290.9 C881.1,1288.9 881.3,1286.9 881.5,1285.0 C881.7,1283.0 881.9,1281.0 882.1,1279.0 C882.3,1277.0 882.5,1275.0 882.7,1273.0 C882.9,1271.0 883.1,1269.0 883.3,1267.0 C883.5,1265.1 883.7,1263.1 883.9,1261.1 C884.1,1259.1 884.3,1257.1 884.5,1255.1 C884.7,1253.1 884.9,1251.1 885.1,1249.1 C885.3,1247.1 885.5,1245.2 885.7,1243.2 C885.9,1241.2 886.1,1239.2 886.3,1237.2 C886.5,1235.2 886.6,1233.2 886.9,1231.2 C887.2,1229.2 887.6,1227.3 887.9,1225.3 C888.3,1223.4 888.8,1221.4 889.1,1219.4 C889.4,1217.5 889.6,1215.5 889.8,1213.5 C890.0,1211.5 890.1,1209.5 890.2,1207.5 C890.3,1205.5 890.4,1203.5 890.5,1201.5 C890.7,1199.5 890.8,1197.5 890.9,1195.5 C891.0,1193.5 891.2,1191.5 891.3,1189.5 C891.4,1187.5 891.5,1185.5 891.6,1183.5 C891.8,1181.5 891.9,1179.6 892.0,1177.6 C892.1,1175.6 892.2,1173.6 892.4,1171.6 C892.5,1169.6 892.6,1167.6 892.7,1165.6 C892.9,1163.6 893.0,1161.6 893.1,1159.6 C893.2,1157.6 893.3,1155.6 893.5,1153.6 C893.6,1151.6 893.7,1149.6 893.8,1147.6 C893.9,1145.6 894.1,1143.6 894.2,1141.6 C894.3,1139.6 894.4,1137.6 894.6,1135.6 C894.7,1133.6 894.8,1131.6 894.9,1129.6 C895.0,1127.6 895.2,1125.7 895.3,1123.7 C895.4,1121.7 895.5,1119.7 895.7,1117.7 C895.8,1115.7 895.9,1113.7 896.0,1111.7 C896.1,1109.7 896.3,1107.7 896.4,1105.7 C896.5,1103.7 896.6,1101.7 896.7,1099.7 C896.9,1097.7 897.0,1095.7 897.1,1093.7 C897.2,1091.7 897.3,1089.7 897.5,1087.7 C897.6,1085.7 897.8,1083.7 897.9,1081.7 C898.1,1079.7 898.2,1077.8 898.4,1075.8 C898.5,1073.8 898.7,1071.8 898.8,1069.8 C899.0,1067.8 899.1,1065.8 899.3,1063.8 C899.4,1061.8 899.5,1059.8 899.7,1057.8 C899.8,1055.8 900.0,1053.8 900.1,1051.8 C900.3,1049.8 900.4,1047.8 900.6,1045.8 C900.7,1043.8 900.9,1041.8 901.0,1039.9 C901.2,1037.9 901.4,1035.9 901.5,1033.9 C901.6,1031.9 901.7,1029.9 901.8,1027.9 C901.9,1025.9 902.0,1023.9 902.0,1021.9 C902.1,1019.9 902.2,1017.9 902.3,1015.9 C902.4,1013.9 902.5,1011.9 902.6,1009.9 C902.7,1007.9 902.8,1005.9 902.9,1003.9 C903.0,1001.9 903.1,999.9 903.2,997.9 C903.3,995.9 903.4,993.9 903.4,991.9 C903.5,989.9 903.6,987.9 903.7,985.9 C903.8,983.9 903.9,981.9 904.0,979.9 C904.1,977.9 904.3,975.9 904.4,973.9 C904.5,971.9 904.6,970.0 904.8,968.0 C904.9,966.0 905.0,964.0 905.1,962.0 C905.3,960.0 905.4,958.0 905.5,956.0 C905.6,954.0 905.8,952.0 905.9,950.0 C906.0,948.0 906.1,946.0 906.2,944.0 C906.4,942.0 906.5,940.0 906.6,938.0 C906.7,936.0 906.9,934.0 907.0,932.0 C907.1,930.0 907.2,928.0 907.4,926.0 C907.5,924.0 907.6,922.0 907.7,920.0 C907.9,918.1 908.0,916.1 908.1,914.1 C908.2,912.1 908.4,910.1 908.5,908.1 C908.6,906.1 908.7,904.1 908.9,902.1 C909.0,900.1 909.1,898.1 909.2,896.1 C909.3,894.1 909.5,892.1 909.6,890.1 C909.7,888.1 909.8,886.1 909.9,884.1 C910.0,882.1 910.1,880.1 910.3,878.1 C910.4,876.1 910.5,874.1 910.6,872.1 C910.7,870.1 910.8,868.1 910.9,866.1 C911.0,864.1 911.2,862.1 911.3,860.2 C911.4,858.2 911.5,856.2 911.6,854.2 C911.7,852.2 911.8,850.2 912.0,848.2 C912.1,846.2 912.2,844.2 912.3,842.2 C912.4,840.2 912.5,838.2 912.6,836.2 C912.8,834.2 912.9,832.2 913.0,830.2 C913.1,828.2 913.2,826.2 913.3,824.2 C913.4,822.2 913.5,820.2 913.6,818.2 C913.7,816.2 913.8,814.2 913.9,812.2 C914.0,810.2 914.1,808.2 914.2,806.2 C914.3,804.2 914.4,802.2 914.5,800.2 C914.6,798.2 914.7,796.2 914.8,794.2 C914.9,792.2 915.0,790.3 915.1,788.3 C915.2,786.3 915.3,784.3 915.4,782.3 C915.5,780.3 915.6,778.3 915.7,776.3 C915.8,774.3 915.9,772.3 916.0,770.3 C916.1,768.3 916.2,766.3 916.3,764.3 C916.4,762.3 916.5,760.3 916.6,758.3 C916.7,756.3 916.8,754.3 916.9,752.3 C917.0,750.3 917.1,748.3 917.2,746.3 C917.3,744.3 917.4,742.3 917.5,740.3 C917.6,738.3 917.7,736.3 917.8,734.3 C917.9,732.3 918.0,730.3 918.1,728.3 C918.2,726.3 918.3,724.3 918.4,722.3 C918.5,720.3 918.6,718.3 918.7,716.3 C918.8,714.3 918.9,712.3 919.0,710.4 C919.1,708.4 919.2,706.4 919.3,704.4 C919.4,702.4 919.5,700.4 919.6,698.4 C919.6,696.4 919.7,694.4 919.8,692.4 C919.9,690.4 919.9,688.4 920.0,686.4 C920.1,684.4 920.1,682.4 920.2,680.4 C920.3,678.4 920.4,676.4 920.4,674.4 C920.5,672.4 920.6,670.4 920.7,668.4 C920.7,666.4 920.8,664.4 920.9,662.4 C921.0,660.4 921.0,658.4 921.1,656.4 C921.2,654.4 921.2,652.4 921.3,650.4 C921.4,648.4 921.5,646.4 921.5,644.4 C921.6,642.4 921.7,640.4 921.8,638.4 C921.8,636.4 921.9,634.4 922.0,632.4 C922.1,630.4 922.1,628.4 922.2,626.4 C922.3,624.4 922.4,622.4 922.4,620.4 C922.5,618.4 922.6,616.4 922.7,614.4 C922.7,612.4 922.8,610.4 922.9,608.4 C923.0,606.4 923.0,604.4 923.1,602.4 C923.2,600.4 923.3,598.4 923.3,596.4 C923.4,594.4 923.5,592.4 923.6,590.4 C923.6,588.4 923.7,586.4 923.8,584.4 C923.9,582.4 923.9,580.4 924.0,578.4 C924.1,576.4 924.2,574.5 924.2,572.5 C924.3,570.5 924.4,568.5 924.5,566.5 C924.5,564.5 924.5,562.5 924.7,560.5 C924.8,558.5 925.1,556.5 925.3,554.5 C925.5,552.5 925.7,550.5 925.9,548.5 C926.1,546.5 926.3,544.5 926.6,542.6 C926.8,540.6 927.0,538.6 927.2,536.6 C927.4,534.6 927.6,532.6 927.8,530.6 C928.0,528.6 928.3,526.6 928.5,524.7 C928.7,522.7 928.9,520.7 929.1,518.7 C929.3,516.7 929.5,514.7 929.7,512.7 C930.0,510.7 930.2,508.8 930.4,506.8 C930.6,504.8 930.8,502.8 931.0,500.8 C931.3,498.8 931.6,496.8 932.0,494.9 C932.3,492.9 932.6,490.9 932.9,489.0 C933.3,487.0 933.6,485.0 933.9,483.0 C934.3,481.1 934.6,479.1 934.9,477.1 C935.3,475.1 935.7,473.2 935.9,471.2 C936.2,469.2 936.2,467.2 936.4,465.2 C936.5,463.2 936.7,461.2 936.9,459.2 C937.0,457.2 937.2,455.3 937.3,453.3 C937.5,451.3 937.7,449.3 937.8,447.3 C938.0,445.3 938.2,443.3 938.3,441.3 C938.5,439.3 938.6,437.3 938.8,435.3 C939.0,433.3 939.1,431.3 939.3,429.3 C939.4,427.3 939.6,425.3 939.8,423.4 C939.9,421.4 940.1,419.4 940.2,417.4 C940.4,415.4 940.5,413.4 940.7,411.4 C940.9,409.4 941.3,407.4 941.5,405.5 C941.8,403.5 942.2,401.5 942.5,399.5 C942.8,397.5 943.1,395.6 943.4,393.6 C943.7,391.6 944.0,389.6 944.3,387.7 C944.6,385.7 944.9,383.7 945.2,381.7 C945.6,379.8 946.0,377.8 946.5,375.9 C947.0,373.9 947.6,372.0 948.1,370.1 C948.7,368.2 948.9,366.0 949.8,364.4 C950.7,362.7 951.9,361.2 953.4,360.2 C954.9,359.2 957.0,358.2 958.7,358.4 C960.4,358.6 962.2,360.5 963.8,361.6 C965.4,362.7 967.1,363.8 968.4,365.2 C969.8,366.7 970.6,368.6 971.7,370.2 C972.9,371.9 973.7,374.5 975.2,374.9 C976.7,375.4 979.4,374.1 980.9,373.0 C982.3,371.9 983.1,370.0 984.1,368.3 C985.1,366.7 985.9,364.7 986.6,362.9 C987.3,361.0 987.8,359.1 988.4,357.2 C989.0,355.3 989.5,353.3 990.1,351.4 C990.6,349.5 991.2,347.6 991.8,345.7 C992.3,343.7 992.9,341.8 993.4,339.9 C994.0,338.0 994.4,336.0 994.9,334.1 C995.4,332.1 995.8,330.2 996.3,328.2 C996.7,326.3 997.2,324.3 997.6,322.4 C998.1,320.4 998.6,318.5 999.0,316.5 C999.5,314.6 999.9,312.7 1000.4,310.7 C1000.8,308.8 1001.2,306.8 1001.7,304.8 C1002.1,302.9 1002.5,300.9 1002.9,299.0 C1003.3,297.0 1003.7,295.1 1004.1,293.1 C1004.5,291.1 1004.9,289.2 1005.3,287.2 C1005.7,285.3 1006.1,283.3 1006.6,281.3 C1007.0,279.4 1007.4,277.4 1007.8,275.5 C1008.2,273.5 1008.6,271.6 1009.0,269.6 C1009.4,267.6 1009.8,265.7 1010.2,263.7 C1010.6,261.8 1011.0,259.8 1011.4,257.9 C1011.9,255.9 1012.3,253.9 1012.7,252.0 C1013.1,250.0 1013.5,248.1 1013.9,246.1 C1014.3,244.1 1014.7,242.2 1015.1,240.2 C1015.5,238.3 1015.9,236.3 1016.3,234.4 C1016.7,232.4 1017.1,230.4 1017.5,228.5 C1017.9,226.5 1018.3,224.5 1018.7,222.6 C1019.1,220.6 1019.5,218.7 1019.9,216.7 C1020.3,214.7 1020.6,212.8 1021.0,210.8 C1021.4,208.9 1021.8,206.9 1022.2,204.9 C1022.6,203.0 1023.0,201.0 1023.4,199.1 C1023.9,197.1 1024.4,195.2 1024.8,193.2 C1025.3,191.3 1025.8,189.3 1026.3,187.4 C1026.7,185.5 1027.2,183.5 1027.7,181.6 C1028.2,179.6 1028.6,177.7 1029.1,175.7 C1029.6,173.8 1029.7,171.7 1030.6,169.9 C1031.4,168.1 1032.9,166.2 1034.0,165.0 C1035.2,163.9 1036.3,162.4 1037.4,162.9 C1038.5,163.4 1039.5,166.3 1040.6,168.0 C1041.7,169.7 1042.8,171.3 1043.8,173.1 C1044.9,174.8 1046.1,176.4 1046.8,178.2 C1047.6,180.0 1047.8,182.1 1048.4,184.0 C1048.9,186.0 1049.4,187.9 1049.9,189.8 C1050.4,191.8 1050.9,193.7 1051.4,195.6 C1051.9,197.6 1052.5,199.5 1053.0,201.4 C1053.5,203.4 1053.9,205.3 1054.4,207.2 C1054.8,209.2 1055.2,211.2 1055.6,213.1 C1055.9,215.1 1056.3,217.1 1056.7,219.0 C1057.1,221.0 1057.5,222.9 1057.9,224.9 C1058.3,226.9 1058.7,228.8 1059.1,230.8 C1059.5,232.7 1059.9,234.7 1060.3,236.7 C1060.7,238.6 1061.1,240.6 1061.5,242.5 C1061.9,244.5 1062.2,246.5 1062.6,248.4 C1063.0,250.4 1063.4,252.3 1063.8,254.3 C1064.2,256.3 1064.6,258.2 1065.0,260.2 C1065.3,262.2 1065.5,264.2 1065.8,266.1 C1066.0,268.1 1066.3,270.1 1066.6,272.1 C1066.8,274.1 1067.1,276.1 1067.4,278.0 C1067.6,280.0 1067.9,282.0 1068.2,284.0 C1068.4,286.0 1068.7,287.9 1069.0,289.9 C1069.2,291.9 1069.5,293.9 1069.8,295.9 C1070.0,297.9 1070.3,299.8 1070.6,301.8 C1070.9,303.8 1071.3,305.8 1071.6,307.7 C1071.9,309.7 1072.3,311.7 1072.6,313.7 C1072.9,315.6 1073.3,317.6 1073.6,319.6 C1073.9,321.5 1074.3,323.5 1074.6,325.5 C1074.9,327.5 1075.2,329.4 1075.5,331.4 C1075.8,333.4 1076.2,335.4 1076.5,337.3 C1076.8,339.3 1077.1,341.3 1077.4,343.3 C1077.7,345.2 1078.0,347.2 1078.4,349.2 C1078.7,351.2 1079.0,353.1 1079.3,355.1 C1079.6,357.1 1079.9,359.1 1080.3,361.0 C1080.6,363.0 1080.9,365.0 1081.2,367.0 C1081.5,368.9 1081.8,370.9 1082.1,372.9 C1082.5,374.9 1082.8,376.8 1083.1,378.8 C1083.4,380.8 1083.7,382.8 1084.0,384.7 C1084.4,386.7 1084.6,388.7 1085.0,390.7 C1085.4,392.6 1085.9,394.6 1086.4,396.5 C1086.8,398.5 1087.2,400.4 1087.7,402.4 C1088.1,404.3 1088.6,406.3 1089.0,408.2 C1089.4,410.2 1089.8,412.1 1090.1,414.1 C1090.4,416.1 1090.5,418.1 1090.7,420.1 C1090.9,422.1 1091.1,424.1 1091.3,426.0 C1091.5,428.0 1091.6,430.0 1091.8,432.0 C1092.1,434.0 1092.2,436.0 1092.5,438.0 C1092.7,440.0 1093.1,441.9 1093.3,443.9 C1093.6,445.9 1093.9,447.9 1094.2,449.9 C1094.5,451.8 1094.8,453.8 1095.1,455.8 C1095.3,457.8 1095.6,459.8 1095.9,461.7 C1096.3,463.7 1096.7,465.6 1097.1,467.6 C1097.5,469.6 1097.9,471.5 1098.3,473.5 C1098.7,475.4 1099.0,477.4 1099.5,479.4 C1100.0,481.3 1100.7,483.2 1101.3,485.1 C1101.8,487.0 1102.4,488.9 1103.0,490.8 C1103.6,492.8 1104.2,494.7 1104.9,496.5 C1105.6,498.4 1106.4,500.2 1107.2,502.1 C1108.0,503.9 1108.8,505.8 1109.5,507.6 C1110.2,509.5 1110.9,511.4 1111.6,513.2 C1112.3,515.1 1112.9,517.0 1113.6,518.9 C1114.3,520.8 1115.1,522.6 1115.9,524.4 C1116.7,526.3 1117.5,528.1 1118.3,529.9 C1119.1,531.8 1119.9,533.6 1120.7,535.4 C1121.5,537.3 1122.3,539.1 1123.1,540.9 C1123.9,542.8 1124.7,544.6 1125.4,546.5 C1126.2,548.3 1127.0,550.1 1127.7,552.0 C1128.4,553.9 1129.0,555.8 1129.6,557.7 C1130.2,559.6 1130.9,561.5 1131.5,563.4 C1132.1,565.3 1132.7,567.2 1133.3,569.1 C1133.9,571.0 1134.4,572.9 1135.0,574.8 C1135.6,576.7 1136.2,578.6 1136.9,580.5 C1137.5,582.4 1138.1,584.3 1138.7,586.2 C1139.4,588.1 1140.1,590.0 1140.7,591.9 C1141.4,593.8 1142.1,595.6 1142.8,597.5 C1143.4,599.4 1144.1,601.3 1144.8,603.2 C1145.5,605.0 1146.1,606.9 1146.8,608.8 C1147.4,610.7 1148.1,612.6 1148.7,614.5 C1149.3,616.4 1149.9,618.3 1150.5,620.2 C1151.1,622.1 1151.6,624.0 1152.2,626.0 C1152.7,627.9 1153.3,629.8 1153.8,631.7 C1154.3,633.7 1154.8,635.6 1155.3,637.5 C1155.8,639.5 1156.3,641.4 1156.8,643.4 C1157.3,645.3 1157.7,647.2 1158.2,649.2 C1158.6,651.1 1159.1,653.1 1159.5,655.0 C1159.9,657.0 1160.4,658.9 1160.8,660.9 C1161.2,662.9 1161.6,664.8 1162.0,666.8 C1162.4,668.7 1162.8,670.7 1163.2,672.6 C1163.6,674.6 1164.1,676.6 1164.4,678.5 C1164.8,680.5 1165.2,682.4 1165.6,684.4 C1166.0,686.4 1166.4,688.3 1166.7,690.3 C1167.1,692.3 1167.4,694.2 1167.8,696.2 C1168.1,698.2 1168.4,700.1 1168.8,702.1 C1169.1,704.1 1169.4,706.1 1169.7,708.0 C1170.0,710.0 1170.3,712.0 1170.6,714.0 C1170.9,715.9 1171.2,717.9 1171.5,719.9 C1171.8,721.9 1172.1,723.9 1172.4,725.8 C1172.7,727.8 1173.1,729.8 1173.4,731.8 C1173.7,733.7 1174.0,735.7 1174.3,737.7 C1174.6,739.7 1174.9,741.6 1175.2,743.6 C1175.5,745.6 1175.9,747.6 1176.2,749.5 C1176.5,751.5 1176.8,753.5 1177.1,755.5 C1177.4,757.4 1177.7,759.4 1178.1,761.4 C1178.4,763.4 1178.7,765.3 1179.0,767.3 C1179.3,769.3 1179.6,771.3 1179.9,773.2 C1180.3,775.2 1180.6,777.2 1180.9,779.2 C1181.2,781.1 1181.5,783.1 1181.8,785.1 C1182.2,787.1 1182.5,789.0 1182.8,791.0 C1183.1,793.0 1183.4,795.0 1183.7,796.9 C1184.0,798.9 1184.4,800.9 1184.7,802.9 C1185.0,804.8 1185.3,806.8 1185.6,808.8 C1185.9,810.8 1186.3,812.7 1186.6,814.7 C1186.9,816.7 1187.2,818.7 1187.6,820.6 C1187.9,822.6 1188.2,824.6 1188.6,826.5 C1188.9,828.5 1189.3,830.5 1189.6,832.5 C1189.9,834.4 1190.3,836.4 1190.7,838.4 C1191.0,840.3 1191.4,842.3 1191.7,844.3 C1192.1,846.2 1192.5,848.2 1192.8,850.2 C1193.2,852.1 1193.6,854.1 1194.0,856.1 C1194.4,858.0 1194.8,860.0 1195.2,861.9 C1195.6,863.9 1196.0,865.9 1196.4,867.8 C1196.8,869.8 1197.2,871.7 1197.5,873.7 C1197.9,875.7 1198.3,877.6 1198.7,879.6 C1199.1,881.5 1199.4,883.5 1199.8,885.5 C1200.2,887.4 1200.5,889.4 1200.8,891.4 C1201.2,893.4 1201.5,895.3 1201.9,897.3 C1202.2,899.3 1202.5,901.2 1202.9,903.2 C1203.2,905.2 1203.5,907.2 1203.9,909.1 C1204.2,911.1 1204.6,913.1 1204.9,915.0 C1205.3,917.0 1205.6,919.0 1206.0,920.9 C1206.4,922.9 1206.7,924.9 1207.1,926.8 C1207.5,928.8 1207.9,930.8 1208.2,932.7 C1208.6,934.7 1209.0,936.6 1209.4,938.6 C1209.8,940.6 1210.2,942.5 1210.6,944.5 C1211.0,946.4 1211.5,948.4 1211.9,950.3 C1212.3,952.3 1212.8,954.2 1213.2,956.2 C1213.6,958.1 1214.1,960.1 1214.6,962.0 C1215.0,964.0 1215.5,965.9 1216.0,967.9 C1216.4,969.8 1216.9,971.8 1217.4,973.7 C1217.9,975.6 1218.4,977.6 1218.9,979.5 C1219.3,981.5 1219.8,983.4 1220.3,985.3 C1220.8,987.3 1221.3,989.2 1221.8,991.2 C1222.3,993.1 1222.8,995.0 1223.3,997.0 C1223.8,998.9 1224.3,1000.8 1224.8,1002.8 C1225.3,1004.7 1225.9,1006.6 1226.4,1008.6 C1226.9,1010.5 1227.5,1012.4 1228.0,1014.3 C1228.6,1016.2 1229.1,1018.2 1229.7,1020.1 C1230.3,1022.0 1230.8,1023.9 1231.4,1025.8 C1232.0,1027.7 1232.6,1029.7 1233.1,1031.6 C1233.7,1033.5 1234.3,1035.4 1234.9,1037.3 C1235.4,1039.2 1236.0,1041.2 1236.6,1043.1 C1237.2,1045.0 1237.8,1046.9 1238.4,1048.8 C1239.0,1050.7 1239.7,1052.6 1240.3,1054.5 C1241.0,1056.3 1241.6,1058.2 1242.3,1060.1 C1243.0,1062.0 1243.8,1063.8 1244.5,1065.7 C1245.3,1067.5 1246.1,1069.3 1246.8,1071.2 C1247.6,1073.0 1248.4,1074.8 1249.2,1076.7 C1250.0,1078.5 1250.9,1080.3 1251.7,1082.2 C1252.5,1084.0 1253.3,1085.8 1254.1,1087.6 C1254.9,1089.5 1255.7,1091.3 1256.5,1093.1 C1257.4,1094.9 1258.2,1096.8 1259.0,1098.6 C1259.9,1100.4 1260.7,1102.2 1261.6,1104.0 C1262.4,1105.8 1263.3,1107.6 1264.1,1109.4 C1265.0,1111.3 1265.8,1113.1 1266.7,1114.9 C1267.5,1116.7 1268.4,1118.5 1269.2,1120.3 C1270.0,1122.1 1270.9,1123.9 1271.7,1125.8 C1272.5,1127.6 1273.3,1129.4 1274.2,1131.2 C1275.0,1133.1 1275.8,1134.9 1276.6,1136.7 C1277.4,1138.5 1278.2,1140.4 1279.0,1142.2 C1279.8,1144.0 1280.6,1145.9 1281.4,1147.7 C1282.1,1149.6 1282.9,1151.4 1283.7,1153.2 C1284.5,1155.1 1285.3,1156.9 1286.1,1158.8 C1286.8,1160.6 1287.6,1162.4 1288.4,1164.3 C1289.2,1166.1 1290.0,1167.9 1290.8,1169.8 C1291.6,1171.6 1292.4,1173.4 1293.2,1175.3 C1294.1,1177.1 1294.9,1178.9 1295.7,1180.7 C1296.5,1182.6 1297.3,1184.4 1298.2,1186.2 C1299.0,1188.0 1299.8,1189.8 1300.7,1191.7 C1301.5,1193.5 1302.3,1195.3 1303.1,1197.1 C1304.0,1198.9 1304.8,1200.8 1305.6,1202.6 C1306.5,1204.4 1307.3,1206.2 1308.1,1208.0 C1309.0,1209.9 1309.8,1211.7 1310.6,1213.5 C1311.5,1215.3 1312.3,1217.1 1313.2,1218.9 C1314.0,1220.7 1314.9,1222.5 1315.8,1224.3 C1316.6,1226.1 1317.5,1227.9 1318.4,1229.7 C1319.3,1231.5 1320.2,1233.3 1321.1,1235.1 C1322.0,1236.9 1322.9,1238.6 1323.8,1240.4 C1324.8,1242.2 1325.7,1244.0 1326.7,1245.7 C1327.6,1247.5 1328.6,1249.2 1329.5,1251.0 C1330.5,1252.7 1331.5,1254.5 1332.5,1256.2 C1333.5,1257.9 1334.5,1259.6 1335.5,1261.4 C1336.5,1263.1 1337.5,1264.8 1338.6,1266.5 C1339.6,1268.2 1340.6,1269.9 1341.7,1271.6 C1342.7,1273.3 1343.8,1275.0 1344.9,1276.6 C1345.9,1278.3 1347.1,1279.9 1348.2,1281.6 C1349.3,1283.2 1350.5,1284.8 1351.6,1286.4 C1352.8,1288.0 1354.0,1289.6 1355.2,1291.2 C1356.4,1292.9 1357.6,1294.5 1358.8,1296.1 C1360.0,1297.7 1361.1,1299.3 1362.3,1300.9 C1363.5,1302.5 1364.7,1304.1 1365.9,1305.7 C1367.1,1307.2 1368.4,1308.8 1369.6,1310.4 C1370.8,1312.0 1372.1,1313.5 1373.3,1315.1 C1374.6,1316.6 1375.9,1318.1 1377.2,1319.6 C1378.5,1321.1 1379.9,1322.6 1381.2,1324.1 C1382.5,1325.6 1383.9,1327.0 1385.3,1328.5 C1386.7,1329.9 1388.1,1331.4 1389.5,1332.8 C1390.9,1334.2 1392.3,1335.6 1393.8,1336.9 C1395.2,1338.3 1396.7,1339.7 1398.2,1341.0 C1399.7,1342.3 1401.2,1343.6 1402.7,1344.9 C1404.2,1346.2 1405.8,1347.4 1407.3,1348.7 C1408.9,1349.9 1410.5,1351.2 1412.1,1352.4 C1413.7,1353.6 1415.3,1354.7 1416.9,1355.9 C1418.5,1357.1 1420.2,1358.2 1421.8,1359.3 C1423.5,1360.4 1425.1,1361.5 1426.8,1362.6 C1428.5,1363.7 1430.2,1364.8 1431.9,1365.8 C1433.6,1366.8 1435.3,1367.9 1437.0,1368.9 C1438.8,1369.9 1440.5,1370.9 1442.2,1371.8 C1444.0,1372.8 1445.8,1373.7 1447.5,1374.7 C1449.3,1375.6 1451.1,1376.5 1452.9,1377.4 C1454.6,1378.3 1456.4,1379.2 1458.2,1380.1 C1460.0,1380.9 1461.8,1381.8 1463.7,1382.6 C1465.5,1383.4 1467.3,1384.2 1469.1,1385.0 C1471.0,1385.8 1472.8,1386.6 1474.6,1387.4 C1476.5,1388.1 1478.3,1388.9 1480.2,1389.6 C1482.1,1390.4 1483.9,1391.1 1485.8,1391.8 C1487.7,1392.5 1489.5,1393.2 1491.4,1393.9 C1493.3,1394.6 1495.2,1395.3 1497.1,1395.9 C1498.9,1396.6 1500.8,1397.2 1502.7,1397.9 C1504.6,1398.5 1506.5,1399.1 1508.4,1399.7 C1510.3,1400.3 1512.2,1400.9 1514.2,1401.5 C1516.1,1402.1 1518.0,1402.7 1519.9,1403.2 C1521.8,1403.8 1523.7,1404.4 1525.7,1404.9 C1527.6,1405.5 1529.5,1406.0 1531.4,1406.6 C1533.4,1407.1 1535.3,1407.6 1537.2,1408.1 C1539.1,1408.7 1541.1,1409.2 1543.0,1409.7 C1544.9,1410.2 1546.9,1410.7 1548.8,1411.2 C1550.8,1411.6 1552.7,1412.1 1554.6,1412.6 C1556.6,1413.1 1558.5,1413.5 1560.5,1414.0 C1562.4,1414.4 1564.4,1414.9 1566.3,1415.3 C1568.3,1415.7 1570.2,1416.1 1572.2,1416.5 C1574.2,1416.9 1576.1,1417.3 1578.1,1417.6 C1580.1,1418.0 1582.0,1418.4 1584.0,1418.7 C1586.0,1419.0 1587.9,1419.4 1589.9,1419.7 C1591.9,1420.0 1593.9,1420.4 1595.8,1420.7 C1597.8,1421.0 1599.8,1421.4 1601.7,1421.7 C1603.7,1422.0 1605.7,1422.3 1607.7,1422.6 C1609.6,1422.9 1611.6,1423.2 1613.6,1423.5 C1615.6,1423.8 1617.6,1424.1 1619.5,1424.3 C1621.5,1424.6 1623.5,1424.8 1625.5,1425.0 C1627.5,1425.2 1629.5,1425.4 1631.5,1425.6 C1633.4,1425.8 1635.4,1425.9 1637.4,1426.1 C1639.4,1426.2 1641.4,1426.4 1643.4,1426.5 C1645.4,1426.7 1647.4,1426.8 1649.4,1426.9 C1651.4,1427.1 1653.4,1427.2 1655.4,1427.3 C1657.4,1427.5 1659.4,1427.6 1661.4,1427.7 C1663.4,1427.9 1665.4,1428.0 1667.4,1428.1 C1669.4,1428.2 1671.4,1428.3 1673.4,1428.4 C1675.3,1428.5 1677.3,1428.6 1679.3,1428.7 C1681.3,1428.8 1683.3,1428.8 1685.3,1428.9 C1687.3,1429.0 1689.3,1429.1 1691.3,1429.1 C1693.3,1429.2 1695.3,1429.2 1697.3,1429.3 C1699.3,1429.3 1701.3,1429.4 1703.3,1429.4 C1705.3,1429.5 1707.3,1429.5 1709.3,1429.6 C1711.3,1429.6 1713.3,1429.7 1715.3,1429.8 C1717.3,1429.8 1719.3,1429.9 1721.3,1429.9 C1723.3,1430.0 1725.3,1430.0 1727.3,1430.1 C1729.3,1430.1 1731.3,1430.2 1733.3,1430.2 C1735.3,1430.3 1737.3,1430.4 1739.3,1430.4 C1741.3,1430.4 1743.3,1430.4 1745.3,1430.4 C1747.3,1430.4 1749.3,1430.3 1751.3,1430.3 C1753.3,1430.3 1755.3,1430.3 1757.3,1430.3 C1759.3,1430.3 1761.3,1430.3 1763.3,1430.2 C1765.3,1430.2 1767.3,1430.2 1769.3,1430.2 C1771.3,1430.2 1773.3,1430.2 1775.3,1430.2 C1777.3,1430.2 1779.3,1430.1 1781.3,1430.1 C1783.3,1430.1 1785.3,1430.1 1787.3,1430.1 C1789.3,1430.1 1791.3,1430.1 1793.3,1430.0 C1795.3,1430.0 1797.3,1430.0 1799.3,1430.0 C1801.3,1430.0 1803.3,1430.0 1805.3,1430.0 C1807.3,1430.0 1809.3,1430.0 1811.3,1430.0 C1813.3,1430.0 1815.3,1430.0 1817.3,1430.0 C1819.3,1430.0 1821.3,1430.0 1823.3,1430.0 C1825.3,1430.0 1827.3,1430.0 1829.3,1430.0 C1831.3,1430.0 1833.3,1430.0 1835.3,1430.0 C1837.3,1430.0 1839.3,1430.0 1841.3,1430.0 C1843.3,1430.0 1845.3,1430.0 1847.3,1430.0 C1849.3,1430.0 1851.3,1430.0 1853.3,1430.0 C1855.3,1430.0 1857.3,1430.0 1859.3,1430.0 C1861.3,1430.0 1863.3,1430.0 1865.3,1430.0 C1867.3,1430.0 1869.3,1430.0 1871.3,1430.0 C1873.3,1430.0 1875.3,1430.0 1877.3,1430.0 C1879.3,1430.0 1881.3,1430.0 1883.3,1430.0 C1885.3,1430.0 1887.3,1430.0 1889.3,1430.0 C1891.3,1430.0 1893.3,1430.0 1895.3,1430.0 C1897.3,1430.0 1899.3,1430.0 1901.3,1430.0 C1903.3,1430.0 1905.3,1430.0 1907.3,1430.0 C1909.3,1430.0 1911.3,1430.0 1913.3,1430.0 C1915.3,1430.0 1917.3,1430.0 1919.3,1430.0 C1921.3,1430.0 1923.3,1430.0 1925.3,1430.0 C1927.3,1430.0 1929.3,1430.0 1931.3,1430.0 C1933.3,1430.0 1935.3,1430.0 1937.3,1430.0 C1939.3,1430.0 1941.3,1430.0 1943.3,1430.0 C1945.3,1430.0 1947.3,1430.0 1949.3,1430.0 C1951.3,1430.0 1953.3,1430.0 1955.3,1430.0 C1957.3,1430.0 1959.3,1430.0 1961.3,1430.0 C1963.3,1430.0 1965.3,1430.0 1967.3,1430.0 C1969.3,1430.0 1971.3,1430.0 1973.3,1430.0 C1975.3,1430.0 1977.3,1430.0 1979.3,1430.0 C1981.3,1430.0 1983.3,1430.0 1985.3,1430.0 C1987.3,1430.0 1989.3,1430.0 1991.3,1430.0 C1993.3,1430.0 1995.3,1430.0 1997.3,1430.0 C1999.3,1430.0 2001.3,1430.0 2003.3,1430.0 C2005.3,1430.0 2007.3,1430.0 2009.3,1430.0 C2011.3,1430.0 2013.3,1430.0 2015.3,1430.0 C2017.3,1430.0 2019.3,1430.0 2021.3,1430.0 C2023.3,1430.0 2025.3,1430.0 2027.3,1430.0 C2029.3,1430.0 2031.3,1430.0 2033.3,1430.0 C2035.3,1430.0 2037.3,1430.0 2039.3,1430.0 C2041.3,1430.0 2043.3,1430.0 2045.3,1430.0 C2047.3,1430.0 2049.9,1430.0 2051.3,1430.0 C2052.8,1430.0 2053.6,1430.0 2054.0,1430.0"/>
<path stroke="#00DD00" d="M316.8,776.5 C317.2,780.0 318.1,789.5 319.3,797.6 C320.5,805.7 322.1,815.7 323.8,825.2 C325.5,834.6 327.5,844.7 329.5,854.4 C331.5,864.2 333.4,874.4 335.7,883.7 C337.9,892.9 340.6,903.0 342.9,909.8 C345.3,916.7 347.9,923.4 350.0,924.6 C352.1,925.8 353.2,919.6 355.3,917.1 C357.5,914.7 360.2,913.2 363.0,910.0 C365.7,906.8 369.2,903.1 372.0,897.9 C374.9,892.7 377.6,886.1 379.9,878.8 C382.1,871.4 384.0,862.7 385.8,853.7 C387.7,844.8 389.2,834.8 390.9,825.2 C392.6,815.5 394.2,805.7 396.0,795.9 C397.7,786.2 399.7,776.4 401.6,766.7 C403.5,757.0 405.5,747.2 407.5,737.5 C409.4,727.7 411.4,718.3 413.3,708.2 C415.3,698.2 417.3,687.9 419.2,677.3 C421.0,666.7 422.9,653.4 424.3,644.5 C425.7,635.6 426.1,631.6 427.4,623.9 C428.7,616.2 430.1,607.2 431.9,598.3 C433.7,589.5 435.8,581.3 438.2,571.0 C440.6,560.7 443.8,547.9 446.4,536.6 C448.9,525.3 451.8,512.8 453.6,503.1 C455.5,493.4 455.6,487.8 457.6,478.4 C459.6,468.9 462.7,457.7 465.9,446.5 C469.0,435.3 472.3,422.3 476.5,411.2 C480.6,400.0 485.7,389.1 490.7,379.5 C495.7,369.8 501.7,361.2 506.5,353.1 C511.2,345.0 515.2,339.1 519.1,331.0 C523.0,322.9 526.0,313.9 529.7,304.6 C533.4,295.4 537.5,284.2 541.4,275.5 C545.3,266.9 549.5,259.7 553.2,252.7 C556.8,245.7 560.1,240.5 563.4,233.5 C566.7,226.5 569.8,218.0 573.1,210.8 C576.4,203.7 579.6,196.0 583.1,190.4 C586.6,184.9 590.5,178.0 593.9,177.5 C597.3,177.0 600.4,182.2 603.4,187.2 C606.4,192.1 609.2,199.1 611.9,207.1 C614.6,215.1 616.9,225.5 619.4,235.2 C621.9,244.9 624.2,255.9 626.7,265.2 C629.2,274.5 631.5,282.6 634.4,290.9 C637.4,299.2 640.4,307.4 644.2,314.9 C648.0,322.3 652.1,329.7 657.1,335.5 C662.1,341.3 670.4,347.6 674.3,349.4 C678.2,351.2 678.3,347.6 680.4,346.1 C682.4,344.6 685.0,342.4 686.7,340.5 C688.5,338.5 689.1,337.6 690.8,334.2 C692.4,330.8 694.8,324.5 696.4,320.3 C698.0,316.0 698.8,314.7 700.4,309.0 C702.1,303.2 704.5,294.1 706.4,285.6 C708.3,277.0 709.9,266.4 711.7,257.6 C713.5,248.9 714.9,240.6 717.0,233.3 C719.1,225.9 721.5,219.6 724.2,213.6 C726.8,207.7 730.1,200.0 732.7,197.5 C735.3,195.0 737.0,198.0 739.6,198.7 C742.2,199.5 745.3,200.4 748.3,202.0 C751.3,203.6 755.0,208.0 757.4,208.5 C759.8,209.0 760.5,207.2 762.6,204.8 C764.7,202.4 767.6,197.9 769.9,194.1 C772.2,190.2 774.3,185.8 776.3,181.7 C778.2,177.5 779.6,172.9 781.5,169.1 C783.4,165.3 785.3,158.3 787.6,159.1 C789.9,159.9 793.1,168.3 795.2,173.7 C797.2,179.0 798.7,185.2 800.1,191.1 C801.4,197.1 802.1,203.3 803.1,209.4 C804.1,215.5 805.0,221.6 805.9,227.7 C806.8,233.8 807.7,239.9 808.4,246.0 C809.2,252.1 809.8,258.2 810.6,264.3 C811.4,270.3 812.3,275.9 813.2,282.4 C814.1,288.9 815.0,294.3 816.0,303.4 C816.9,312.6 817.9,325.4 819.0,337.1 C820.1,348.8 821.4,361.6 822.6,373.8 C823.8,386.0 825.1,398.1 826.5,410.3 C827.9,422.5 829.5,434.2 831.1,446.9 C832.8,459.6 834.4,472.0 836.4,486.3 C838.5,500.6 840.9,519.1 843.3,532.8 C845.7,546.6 848.2,557.2 850.6,568.7 C853.0,580.2 855.5,591.3 857.9,602.0 C860.3,612.7 862.8,623.4 864.8,632.8 C866.9,642.2 868.5,650.1 870.1,658.4 C871.8,666.8 873.4,674.3 874.8,682.8 C876.2,691.3 877.4,699.2 878.5,709.3 C879.5,719.5 880.2,732.0 881.1,743.8 C882.0,755.6 882.7,767.9 883.7,780.3 C884.8,792.7 886.2,805.9 887.3,818.0 C888.5,830.2 890.1,844.7 890.8,853.4 C891.4,862.2 891.0,863.3 891.4,870.6 C891.8,878.0 892.4,888.1 893.2,897.5 C893.9,906.9 894.6,913.5 896.1,927.0 C897.6,940.5 900.5,961.1 902.4,978.8 C904.3,996.5 905.6,1013.1 907.4,1033.2 C909.2,1053.4 910.6,1072.3 913.3,1099.6 C916.0,1126.8 920.9,1172.0 923.7,1196.9 C926.4,1221.7 928.1,1235.5 930.0,1248.5 C931.8,1261.6 933.1,1266.7 934.7,1275.1 C936.3,1283.5 937.9,1291.0 939.5,1298.9 C941.1,1306.8 942.6,1314.9 944.2,1322.6 C945.8,1330.3 947.4,1338.4 949.3,1345.0 C951.2,1351.6 953.2,1356.9 955.6,1362.3 C958.0,1367.7 960.7,1372.9 963.8,1377.6 C966.8,1382.2 970.6,1386.4 974.0,1390.0 C977.4,1393.5 980.6,1396.0 984.1,1399.0 C987.6,1402.0 991.1,1405.2 994.9,1407.9 C998.7,1410.7 1002.3,1413.4 1006.8,1415.6 C1011.3,1417.7 1016.5,1419.1 1021.9,1420.6 C1027.3,1422.1 1032.5,1423.0 1039.1,1424.3 C1045.7,1425.6 1053.8,1427.2 1061.5,1428.2 C1069.2,1429.3 1073.7,1430.2 1085.3,1430.4 C1096.9,1430.6 1115.1,1429.8 1130.9,1429.4 C1146.7,1429.0 1168.5,1428.0 1180.0,1428.0 C1191.5,1428.0 1194.2,1429.7 1200.0,1429.5 C1205.8,1429.3 1208.3,1427.0 1215.0,1427.0 C1221.7,1427.0 1136.7,1429.5 1240.0,1429.5 C1343.3,1429.5 1714.0,1428.5 1834.7,1427.2 C1955.4,1426.0 1941.5,1422.0 1964.0,1422.0 C1986.5,1422.0 1955.0,1426.3 1970.0,1427.0 C1985.0,1427.7 2040.0,1426.2 2054.0,1426.0"/>
<path stroke="#00DD00" d="M834.6,1418.7 C835.4,1418.0 837.6,1416.1 839.1,1414.8 C840.6,1413.4 842.3,1412.3 843.6,1410.8 C845.0,1409.3 846.0,1407.6 847.1,1405.9 C848.2,1404.3 849.4,1402.6 850.5,1401.0 C851.6,1399.3 852.8,1397.7 853.9,1396.0 C855.0,1394.4 856.2,1392.7 857.0,1390.9 C857.8,1389.1 858.1,1387.1 858.7,1385.2 C859.3,1383.3 859.8,1381.4 860.4,1379.4 C861.0,1377.5 861.6,1375.6 862.2,1373.7 C862.7,1371.8 863.3,1369.9 863.8,1367.9 C864.2,1366.0 864.5,1364.0 864.8,1362.0 C865.1,1360.0 865.5,1358.1 865.8,1356.1 C866.2,1354.1 866.5,1352.2 866.8,1350.2 C867.2,1348.2 867.5,1346.2 867.8,1344.3 C868.1,1342.3 868.4,1340.3 868.7,1338.3 C869.0,1336.4 869.3,1334.4 869.6,1332.4 C869.9,1330.4 870.2,1328.4 870.5,1326.5 C870.8,1324.5 871.1,1322.5 871.4,1320.5 C871.6,1318.5 871.9,1316.6 872.1,1314.6 C872.4,1312.6 872.6,1310.6 872.9,1308.6 C873.1,1306.6 873.4,1304.7 873.6,1302.7 C873.8,1300.7 874.1,1298.7 874.3,1296.7 C874.5,1294.7 874.7,1292.7 874.9,1290.7 C875.1,1288.7 875.3,1286.8 875.5,1284.8 C875.7,1282.8 875.9,1280.8 876.1,1278.8 C876.3,1276.8 876.4,1274.8 876.6,1272.8 C876.8,1270.8 877.0,1268.8 877.2,1266.9 C877.4,1264.9 877.6,1262.9 877.8,1260.9 C878.0,1258.9 878.2,1256.9 878.4,1254.9 C878.6,1252.9 878.8,1250.9 879.0,1248.9 C879.2,1247.0 879.4,1245.0 879.6,1243.0 C879.8,1241.0 880.0,1239.0 880.2,1237.0 C880.4,1235.0 880.8,1233.0 880.8,1231.0 C880.8,1229.0 880.4,1227.1 880.1,1225.1 C879.8,1223.1 879.3,1221.2 879.3,1219.2 C879.2,1217.2 879.8,1215.2 880.1,1213.2 C880.3,1211.2 880.6,1209.3 880.9,1207.3 C881.1,1205.3 881.4,1203.3 881.7,1201.3 C881.9,1199.4 882.2,1197.4 882.4,1195.4 C882.7,1193.4 882.8,1191.4 883.0,1189.4 C883.2,1187.4 883.3,1185.4 883.5,1183.4 C883.7,1181.4 883.9,1179.5 884.1,1177.5 C884.2,1175.5 884.4,1173.5 884.6,1171.5 C884.8,1169.5 885.0,1167.5 885.1,1165.5 C885.3,1163.5 885.5,1161.5 885.7,1159.5 C885.9,1157.5 886.0,1155.6 886.2,1153.6 C886.4,1151.6 886.6,1149.6 886.8,1147.6 C886.9,1145.6 887.1,1143.6 887.3,1141.6 C887.5,1139.6 887.7,1137.6 887.8,1135.6 C888.0,1133.6 888.2,1131.6 888.4,1129.7 C888.6,1127.7 888.7,1125.7 888.9,1123.7 C889.1,1121.7 889.3,1119.7 889.5,1117.7 C889.6,1115.7 889.8,1113.7 890.0,1111.7 C890.2,1109.7 890.4,1107.7 890.5,1105.8 C890.7,1103.8 890.9,1101.8 891.1,1099.8 C891.3,1097.8 891.4,1095.8 891.6,1093.8 C891.8,1091.8 892.0,1089.8 892.2,1087.8 C892.3,1085.8 892.5,1083.8 892.6,1081.8 C892.8,1079.8 892.9,1077.9 893.1,1075.9 C893.2,1073.9 893.3,1071.9 893.5,1069.9 C893.6,1067.9 893.8,1065.9 893.9,1063.9 C894.1,1061.9 894.2,1059.9 894.4,1057.9 C894.5,1055.9 894.7,1053.9 894.8,1051.9 C895.0,1049.9 895.1,1047.9 895.3,1045.9 C895.4,1043.9 895.6,1042.0 895.7,1040.0 C895.9,1038.0 896.0,1036.0 896.2,1034.0 C896.3,1032.0 896.4,1030.0 896.5,1028.0 C896.6,1026.0 896.7,1024.0 896.8,1022.0 C896.9,1020.0 897.0,1018.0 897.1,1016.0 C897.2,1014.0 897.3,1012.0 897.4,1010.0 C897.5,1008.0 897.6,1006.0 897.7,1004.0 C897.8,1002.0 897.9,1000.0 898.0,998.0 C898.1,996.0 898.2,994.0 898.3,992.0 C898.4,990.0 898.5,988.0 898.6,986.0 C898.7,984.0 898.8,982.0 898.9,980.0 C899.0,978.0 899.2,976.1 899.3,974.1 C899.4,972.1 899.6,970.1 899.7,968.1 C899.9,966.1 900.0,964.1 900.1,962.1 C900.3,960.1 900.4,958.1 900.5,956.1 C900.7,954.1 900.8,952.1 900.9,950.1 C901.1,948.1 901.2,946.1 901.4,944.1 C901.5,942.1 901.6,940.1 901.8,938.1 C901.9,936.1 902.0,934.2 902.2,932.2 C902.3,930.2 902.4,928.2 902.6,926.2 C902.7,924.2 902.9,922.2 903.0,920.2 C903.1,918.2 903.2,916.2 903.4,914.2 C903.5,912.2 903.6,910.2 903.7,908.2 C903.9,906.2 904.0,904.2 904.1,902.2 C904.3,900.2 904.4,898.2 904.5,896.2 C904.6,894.2 904.8,892.2 904.9,890.2 C905.0,888.2 905.1,886.3 905.3,884.3 C905.4,882.3 905.5,880.3 905.6,878.3 C905.8,876.3 905.9,874.3 906.0,872.3 C906.1,870.3 906.3,868.3 906.4,866.3 C906.5,864.3 906.7,862.3 906.8,860.3 C906.9,858.3 907.0,856.3 907.1,854.3 C907.2,852.3 907.3,850.3 907.4,848.3 C907.6,846.3 907.7,844.3 907.8,842.3 C907.9,840.3 908.0,838.3 908.1,836.3 C908.2,834.3 908.3,832.3 908.4,830.4 C908.5,828.4 908.6,826.4 908.8,824.4 C908.9,822.4 909.0,820.4 909.1,818.4 C909.2,816.4 909.3,814.4 909.4,812.4 C909.6,810.4 909.7,808.4 909.8,806.4 C909.9,804.4 910.0,802.4 910.2,800.4 C910.3,798.4 910.4,796.4 910.5,794.4 C910.6,792.4 910.7,790.4 910.9,788.4 C911.0,786.4 911.1,784.4 911.2,782.4 C911.3,780.4 911.4,778.4 911.6,776.4 C911.7,774.4 911.8,772.4 911.9,770.5 C912.0,768.5 912.1,766.5 912.3,764.5 C912.4,762.5 912.5,760.5 912.6,758.5 C912.7,756.5 912.9,754.5 913.0,752.5 C913.1,750.5 913.2,748.5 913.3,746.5 C913.4,744.5 913.6,742.5 913.7,740.5 C913.8,738.5 913.9,736.5 914.0,734.5 C914.2,732.5 914.3,730.5 914.4,728.5 C914.6,726.5 914.7,724.5 914.8,722.5 C915.0,720.5 915.1,718.5 915.2,716.6 C915.4,714.6 915.5,712.6 915.6,710.6 C915.8,708.6 915.9,706.6 916.0,704.6 C916.2,702.6 916.3,700.6 916.4,698.6 C916.6,696.6 916.7,694.6 916.8,692.6 C917.0,690.6 917.1,688.6 917.2,686.6 C917.4,684.6 917.5,682.6 917.6,680.6 C917.8,678.6 917.9,676.6 918.0,674.6 C918.2,672.7 918.3,670.7 918.4,668.7 C918.6,666.7 918.6,664.7 918.8,662.7 C919.0,660.7 919.2,658.7 919.5,656.7 C919.7,654.7 920.0,652.8 920.3,650.8 C920.6,648.8 920.8,646.8 921.1,644.8 C921.4,642.8 921.7,640.9 922.0,638.9 C922.2,636.9 922.5,634.9 922.8,632.9 C923.1,631.0 923.3,629.0 923.6,627.0 C923.9,625.0 924.2,623.0 924.5,621.1 C924.7,619.1 925.0,617.1 925.3,615.1 C925.6,613.1 925.8,611.2 926.1,609.2 C926.4,607.2 926.7,605.2 927.0,603.2 C927.3,601.3 927.6,599.3 927.9,597.3 C928.2,595.3 928.5,593.4 928.8,591.4 C929.1,589.4 929.4,587.4 929.7,585.4 C930.0,583.5 930.3,581.5 930.6,579.5 C930.9,577.5 931.2,575.6 931.5,573.6 C931.8,571.6 932.1,569.6 932.4,567.6 C932.7,565.7 932.9,563.7 933.2,561.7 C933.5,559.7 933.9,557.8 934.2,555.8 C934.5,553.8 934.8,551.8 935.2,549.9 C935.5,547.9 935.8,545.9 936.1,543.9 C936.4,542.0 936.8,540.0 937.1,538.0 C937.4,536.0 937.7,534.1 938.1,532.1 C938.4,530.1 938.7,528.2 939.1,526.2 C939.4,524.2 939.8,522.2 940.2,520.3 C940.5,518.3 940.9,516.3 941.2,514.4 C941.6,512.4 941.9,510.4 942.3,508.5 C942.7,506.5 942.8,504.5 943.5,502.6 C944.2,500.8 945.7,499.4 946.5,497.6 C947.4,495.8 947.8,493.8 948.5,491.9 C949.1,490.0 949.8,488.1 950.4,486.2 C951.1,484.3 951.5,482.3 952.3,480.5 C953.1,478.7 954.2,477.0 955.2,475.3 C956.2,473.6 957.4,472.0 958.5,470.3 C959.6,468.6 960.9,467.1 961.9,465.3 C962.8,463.6 963.5,461.7 964.3,459.9 C965.1,458.0 965.7,456.1 966.4,454.3 C967.1,452.4 967.8,450.5 968.5,448.6 C969.2,446.8 969.9,444.9 970.5,443.0 C971.1,441.1 971.6,439.1 972.1,437.2 C972.7,435.3 973.2,433.4 973.8,431.4 C974.3,429.5 974.8,427.6 975.3,425.6 C975.8,423.7 976.2,421.7 976.6,419.8 C977.0,417.8 977.5,415.9 977.9,413.9 C978.3,412.0 978.8,410.0 979.2,408.1 C979.6,406.1 980.0,404.1 980.3,402.2 C980.6,400.2 980.9,398.2 981.2,396.2 C981.5,394.3 981.8,392.3 982.1,390.3 C982.4,388.3 982.8,386.4 983.1,384.4 C983.4,382.4 983.7,380.4 984.0,378.5 C984.3,376.5 984.6,374.5 984.9,372.5 C985.2,370.5 985.5,368.6 985.8,366.6 C986.1,364.6 986.4,362.6 986.7,360.7 C987.0,358.7 987.3,356.7 987.6,354.7 C988.0,352.8 988.3,350.8 988.6,348.8 C988.9,346.8 989.2,344.9 989.5,342.9 C989.8,340.9 990.0,338.9 990.3,336.9 C990.6,335.0 990.9,333.0 991.2,331.0 C991.4,329.0 991.7,327.0 992.0,325.1 C992.3,323.1 992.5,321.1 992.8,319.1 C993.1,317.1 993.4,315.1 993.7,313.2 C993.9,311.2 994.2,309.2 994.5,307.2 C994.8,305.3 995.1,303.3 995.4,301.3 C995.7,299.3 996.0,297.3 996.3,295.4 C996.6,293.4 997.0,291.4 997.3,289.4 C997.6,287.5 997.9,285.5 998.2,283.5 C998.5,281.5 998.8,279.6 999.1,277.6 C999.4,275.6 999.7,273.6 999.9,271.6 C1000.2,269.7 1000.5,267.7 1000.7,265.7 C1001.0,263.7 1001.3,261.7 1001.5,259.7 C1001.8,257.8 1002.0,255.8 1002.3,253.8 C1002.6,251.8 1002.8,249.8 1003.1,247.9 C1003.4,245.9 1003.6,243.9 1003.9,241.9 C1004.2,239.9 1004.5,238.0 1004.8,236.0 C1005.1,234.0 1005.5,232.0 1005.8,230.1 C1006.1,228.1 1006.5,226.1 1006.8,224.1 C1007.1,222.2 1007.5,220.2 1007.8,218.2 C1008.1,216.3 1008.4,214.3 1008.8,212.3 C1009.2,210.3 1009.6,208.4 1010.0,206.4 C1010.4,204.5 1010.9,202.5 1011.4,200.6 C1011.8,198.6 1012.3,196.7 1012.7,194.7 C1013.2,192.8 1013.6,190.8 1014.1,188.9 C1014.5,186.9 1014.9,185.0 1015.4,183.1 C1015.9,181.1 1016.4,179.2 1017.2,177.4 C1018.0,175.6 1019.2,173.9 1020.2,172.2 C1021.2,170.4 1022.1,168.4 1023.1,166.9 C1024.2,165.5 1025.1,163.5 1026.3,163.7 C1027.5,163.9 1028.9,166.7 1030.3,168.2 C1031.6,169.7 1032.9,171.2 1034.2,172.7 C1035.5,174.3 1037.2,175.5 1038.2,177.3 C1039.1,179.0 1039.3,181.1 1039.8,183.0 C1040.3,184.9 1040.8,186.9 1041.3,188.8 C1041.8,190.8 1042.4,192.7 1042.9,194.6 C1043.4,196.5 1043.9,198.5 1044.4,200.4 C1044.9,202.4 1045.4,204.3 1045.9,206.2 C1046.3,208.2 1046.7,210.2 1047.0,212.1 C1047.4,214.1 1047.8,216.0 1048.2,218.0 C1048.6,220.0 1049.0,221.9 1049.4,223.9 C1049.8,225.8 1050.2,227.8 1050.6,229.8 C1051.0,231.7 1051.4,233.7 1051.8,235.6 C1052.2,237.6 1052.6,239.6 1053.0,241.5 C1053.3,243.5 1053.7,245.5 1054.1,247.4 C1054.5,249.4 1054.9,251.3 1055.3,253.3 C1055.7,255.3 1056.2,257.2 1056.5,259.2 C1056.8,261.1 1057.0,263.1 1057.3,265.1 C1057.6,267.1 1057.8,269.1 1058.1,271.1 C1058.3,273.1 1058.6,275.0 1058.9,277.0 C1059.1,279.0 1059.4,281.0 1059.6,283.0 C1059.9,284.9 1060.2,286.9 1060.6,288.9 C1061.0,290.8 1061.6,292.7 1062.1,294.7 C1062.6,296.6 1063.2,298.5 1063.6,300.5 C1064.0,302.5 1064.2,304.5 1064.5,306.4 C1064.8,308.4 1065.0,310.4 1065.3,312.4 C1065.6,314.4 1065.9,316.3 1066.2,318.3 C1066.5,320.3 1066.8,322.3 1067.1,324.2 C1067.4,326.2 1067.8,328.2 1068.2,330.1 C1068.6,332.1 1069.0,334.1 1069.4,336.0 C1069.8,338.0 1070.2,339.9 1070.6,341.9 C1071.0,343.9 1071.4,345.8 1071.8,347.8 C1072.2,349.7 1072.5,351.7 1072.9,353.7 C1073.3,355.6 1073.7,357.6 1074.1,359.6 C1074.5,361.5 1074.7,363.5 1075.3,365.4 C1075.8,367.4 1076.5,369.2 1077.3,371.0 C1078.1,372.8 1079.0,374.7 1080.1,376.3 C1081.2,378.0 1082.5,379.5 1083.8,381.0 C1085.1,382.5 1086.9,383.7 1087.8,385.4 C1088.8,387.1 1088.9,389.3 1089.4,391.2 C1089.9,393.1 1090.4,395.1 1090.9,397.0 C1091.5,398.9 1091.7,401.0 1092.7,402.7 C1093.6,404.4 1095.4,405.7 1096.5,407.4 C1097.6,409.0 1098.6,410.7 1099.4,412.5 C1100.2,414.3 1100.6,416.3 1101.3,418.2 C1102.1,420.0 1102.9,421.8 1103.8,423.6 C1104.8,425.4 1105.6,427.2 1106.8,428.8 C1108.0,430.4 1109.6,431.6 1110.9,433.1 C1112.2,434.6 1113.5,436.2 1114.6,437.8 C1115.7,439.5 1116.6,441.3 1117.5,443.1 C1118.4,444.8 1119.2,446.7 1120.0,448.5 C1120.9,450.3 1121.7,452.1 1122.5,454.0 C1123.3,455.8 1124.1,457.6 1124.9,459.5 C1125.7,461.3 1126.6,463.1 1127.4,464.9 C1128.1,466.8 1128.8,468.7 1129.5,470.6 C1130.1,472.4 1130.9,474.3 1131.5,476.2 C1132.1,478.1 1132.5,480.1 1133.0,482.0 C1133.5,483.9 1133.8,485.9 1134.3,487.9 C1134.7,489.8 1135.2,491.8 1135.7,493.7 C1136.1,495.6 1136.6,497.6 1137.1,499.5 C1137.6,501.5 1138.1,503.4 1138.6,505.3 C1139.1,507.3 1139.7,509.2 1140.3,511.1 C1140.8,513.0 1141.4,514.9 1142.0,516.9 C1142.5,518.8 1143.1,520.7 1143.6,522.6 C1144.2,524.5 1144.7,526.5 1145.2,528.4 C1145.8,530.3 1146.3,532.2 1146.9,534.2 C1147.4,536.1 1147.9,538.0 1148.4,540.0 C1148.9,541.9 1149.5,543.8 1149.9,545.8 C1150.4,547.7 1150.8,549.7 1151.3,551.6 C1151.7,553.6 1152.1,555.5 1152.5,557.5 C1152.9,559.4 1153.4,561.4 1153.8,563.4 C1154.2,565.3 1154.6,567.3 1155.0,569.2 C1155.4,571.2 1155.7,573.1 1156.1,575.1 C1156.5,577.1 1156.9,579.0 1157.3,581.0 C1157.7,583.0 1158.1,584.9 1158.5,586.9 C1158.9,588.8 1159.3,590.8 1159.7,592.8 C1160.1,594.7 1160.5,596.7 1160.9,598.6 C1161.3,600.6 1161.6,602.6 1162.0,604.5 C1162.4,606.5 1162.8,608.4 1163.2,610.4 C1163.6,612.4 1164.0,614.3 1164.4,616.3 C1164.8,618.3 1165.2,620.2 1165.6,622.2 C1166.0,624.1 1166.4,626.1 1166.8,628.1 C1167.2,630.0 1167.5,632.0 1167.9,633.9 C1168.3,635.9 1168.7,637.9 1169.1,639.8 C1169.5,641.8 1169.9,643.7 1170.3,645.7 C1170.7,647.7 1171.1,649.6 1171.4,651.6 C1171.8,653.6 1172.2,655.5 1172.6,657.5 C1172.9,659.5 1173.3,661.4 1173.6,663.4 C1173.9,665.4 1174.3,667.3 1174.6,669.3 C1174.9,671.3 1175.2,673.3 1175.5,675.2 C1175.7,677.2 1176.0,679.2 1176.3,681.2 C1176.5,683.2 1176.8,685.1 1177.1,687.1 C1177.3,689.1 1177.6,691.1 1177.9,693.1 C1178.1,695.0 1178.4,697.0 1178.7,699.0 C1179.0,701.0 1179.3,703.0 1179.5,704.9 C1179.8,706.9 1180.1,708.9 1180.4,710.9 C1180.7,712.9 1181.0,714.8 1181.3,716.8 C1181.6,718.8 1181.9,720.8 1182.2,722.7 C1182.5,724.7 1182.8,726.7 1183.1,728.7 C1183.4,730.7 1183.8,732.6 1184.1,734.6 C1184.4,736.6 1184.7,738.6 1185.0,740.5 C1185.4,742.5 1185.7,744.5 1186.0,746.4 C1186.3,748.4 1186.7,750.4 1187.0,752.4 C1187.4,754.3 1187.7,756.3 1188.0,758.3 C1188.4,760.2 1188.7,762.2 1189.1,764.2 C1189.4,766.1 1189.8,768.1 1190.2,770.1 C1190.5,772.0 1190.9,774.0 1191.3,776.0 C1191.7,777.9 1192.1,779.9 1192.4,781.9 C1192.8,783.8 1193.2,785.8 1193.6,787.7 C1194.1,789.7 1194.5,791.7 1194.9,793.6 C1195.3,795.6 1195.7,797.5 1196.2,799.5 C1196.6,801.4 1197.1,803.4 1197.5,805.3 C1198.0,807.3 1198.5,809.2 1198.9,811.1 C1199.4,813.1 1199.9,815.0 1200.4,817.0 C1200.8,818.9 1201.3,820.9 1201.8,822.8 C1202.3,824.7 1202.8,826.7 1203.3,828.6 C1203.7,830.6 1204.2,832.5 1204.7,834.4 C1205.2,836.4 1205.7,838.3 1206.2,840.3 C1206.7,842.2 1207.2,844.1 1207.6,846.1 C1208.1,848.0 1208.6,849.9 1209.1,851.9 C1209.6,853.8 1210.1,855.8 1210.6,857.7 C1211.1,859.6 1211.6,861.6 1212.2,863.5 C1212.7,865.4 1213.2,867.4 1213.7,869.3 C1214.2,871.2 1214.8,873.1 1215.3,875.1 C1215.9,877.0 1216.5,878.9 1217.1,880.8 C1217.6,882.7 1218.2,884.6 1218.9,886.5 C1219.5,888.4 1220.1,890.3 1220.7,892.2 C1221.3,894.1 1222.0,896.0 1222.6,897.9 C1223.2,899.8 1223.8,901.7 1224.4,903.6 C1225.0,905.5 1225.5,907.5 1226.1,909.4 C1226.7,911.3 1227.2,913.2 1227.7,915.1 C1228.3,917.1 1228.8,919.0 1229.3,920.9 C1229.8,922.9 1230.3,924.8 1230.8,926.7 C1231.3,928.7 1231.7,930.6 1232.2,932.6 C1232.7,934.5 1233.2,936.4 1233.7,938.4 C1234.2,940.3 1234.7,942.3 1235.2,944.2 C1235.7,946.1 1236.2,948.1 1236.7,950.0 C1237.2,951.9 1237.7,953.9 1238.2,955.8 C1238.7,957.7 1239.2,959.7 1239.8,961.6 C1240.3,963.5 1240.9,965.4 1241.4,967.4 C1242.0,969.3 1242.6,971.2 1243.1,973.1 C1243.7,975.0 1244.3,976.9 1244.9,978.8 C1245.5,980.7 1246.2,982.6 1246.8,984.5 C1247.5,986.4 1248.1,988.3 1248.8,990.2 C1249.5,992.1 1250.2,993.9 1250.9,995.8 C1251.6,997.7 1252.3,999.5 1253.0,1001.4 C1253.7,1003.3 1254.5,1005.1 1255.2,1007.0 C1255.9,1008.9 1256.6,1010.7 1257.4,1012.6 C1258.1,1014.4 1258.8,1016.3 1259.5,1018.2 C1260.3,1020.0 1261.0,1021.9 1261.7,1023.8 C1262.4,1025.7 1263.1,1027.5 1263.7,1029.4 C1264.4,1031.3 1265.1,1033.2 1265.7,1035.1 C1266.3,1037.0 1267.0,1038.9 1267.6,1040.8 C1268.2,1042.7 1268.8,1044.6 1269.5,1046.5 C1270.1,1048.4 1270.7,1050.3 1271.3,1052.2 C1271.9,1054.1 1272.6,1055.9 1273.2,1057.8 C1273.9,1059.7 1274.6,1061.6 1275.3,1063.5 C1275.9,1065.3 1276.7,1067.2 1277.4,1069.1 C1278.1,1070.9 1278.9,1072.8 1279.6,1074.6 C1280.4,1076.5 1281.1,1078.3 1281.9,1080.2 C1282.6,1082.0 1283.4,1083.9 1284.1,1085.7 C1284.9,1087.6 1285.7,1089.4 1286.4,1091.3 C1287.2,1093.1 1287.9,1095.0 1288.7,1096.9 C1289.4,1098.7 1290.2,1100.6 1290.9,1102.4 C1291.6,1104.3 1292.4,1106.1 1293.1,1108.0 C1293.9,1109.8 1294.6,1111.7 1295.4,1113.6 C1296.1,1115.4 1296.9,1117.3 1297.6,1119.1 C1298.3,1121.0 1299.1,1122.8 1299.8,1124.7 C1300.6,1126.6 1301.3,1128.4 1302.1,1130.3 C1302.8,1132.1 1303.5,1134.0 1304.3,1135.8 C1305.0,1137.7 1305.8,1139.6 1306.5,1141.4 C1307.3,1143.3 1308.0,1145.1 1308.7,1147.0 C1309.5,1148.8 1310.2,1150.7 1311.0,1152.5 C1311.7,1154.4 1312.5,1156.3 1313.2,1158.1 C1314.0,1160.0 1314.7,1161.8 1315.4,1163.7 C1316.2,1165.5 1316.9,1167.4 1317.7,1169.3 C1318.4,1171.1 1319.2,1173.0 1319.9,1174.8 C1320.7,1176.7 1321.5,1178.5 1322.2,1180.4 C1323.0,1182.2 1323.8,1184.0 1324.6,1185.9 C1325.3,1187.7 1326.1,1189.6 1326.9,1191.4 C1327.8,1193.2 1328.6,1195.0 1329.4,1196.9 C1330.2,1198.7 1331.0,1200.5 1331.9,1202.3 C1332.7,1204.1 1333.5,1206.0 1334.4,1207.8 C1335.2,1209.6 1336.1,1211.4 1337.0,1213.2 C1337.8,1215.0 1338.7,1216.8 1339.6,1218.5 C1340.5,1220.3 1341.4,1222.1 1342.3,1223.8 C1343.3,1225.6 1344.2,1227.4 1345.1,1229.1 C1346.0,1230.9 1347.0,1232.6 1347.9,1234.4 C1348.8,1236.1 1349.8,1237.9 1350.7,1239.6 C1351.7,1241.3 1352.6,1243.1 1353.6,1244.8 C1354.6,1246.5 1355.6,1248.2 1356.7,1249.9 C1357.7,1251.6 1358.8,1253.2 1359.9,1254.9 C1360.9,1256.6 1362.1,1258.2 1363.2,1259.8 C1364.3,1261.5 1365.5,1263.1 1366.6,1264.7 C1367.8,1266.3 1369.0,1267.9 1370.1,1269.5 C1371.3,1271.1 1372.5,1272.7 1373.7,1274.3 C1374.9,1275.8 1376.1,1277.4 1377.3,1279.0 C1378.5,1280.6 1379.8,1282.1 1381.0,1283.7 C1382.2,1285.2 1383.5,1286.8 1384.8,1288.3 C1386.0,1289.8 1387.3,1291.4 1388.6,1292.9 C1389.9,1294.4 1391.2,1295.9 1392.6,1297.4 C1393.9,1298.9 1395.2,1300.4 1396.5,1301.9 C1397.8,1303.4 1399.1,1304.9 1400.5,1306.4 C1401.8,1307.9 1403.1,1309.4 1404.4,1311.0 C1405.7,1312.5 1407.0,1314.0 1408.3,1315.5 C1409.6,1317.0 1410.9,1318.5 1412.2,1320.0 C1413.6,1321.5 1414.9,1323.0 1416.3,1324.5 C1417.6,1325.9 1419.0,1327.4 1420.4,1328.8 C1421.7,1330.3 1423.1,1331.7 1424.5,1333.1 C1425.9,1334.5 1427.4,1335.9 1428.8,1337.3 C1430.3,1338.7 1431.7,1340.0 1433.2,1341.3 C1434.7,1342.7 1436.2,1343.9 1437.8,1345.2 C1439.3,1346.5 1440.9,1347.7 1442.5,1348.9 C1444.1,1350.1 1445.7,1351.2 1447.3,1352.4 C1448.9,1353.5 1450.6,1354.7 1452.3,1355.8 C1453.9,1356.9 1455.6,1358.0 1457.3,1359.0 C1459.0,1360.1 1460.7,1361.2 1462.4,1362.2 C1464.1,1363.2 1465.8,1364.2 1467.5,1365.2 C1469.3,1366.2 1471.0,1367.2 1472.8,1368.2 C1474.5,1369.1 1476.3,1370.1 1478.0,1371.0 C1479.8,1371.9 1481.6,1372.9 1483.4,1373.8 C1485.2,1374.6 1486.9,1375.5 1488.8,1376.4 C1490.6,1377.2 1492.4,1378.1 1494.2,1378.9 C1496.0,1379.7 1497.9,1380.5 1499.7,1381.2 C1501.5,1382.0 1503.4,1382.8 1505.3,1383.5 C1507.1,1384.2 1509.0,1384.9 1510.8,1385.6 C1512.7,1386.3 1514.6,1387.0 1516.5,1387.7 C1518.4,1388.3 1520.3,1389.0 1522.2,1389.6 C1524.1,1390.2 1526.0,1390.9 1527.9,1391.5 C1529.8,1392.1 1531.7,1392.6 1533.6,1393.2 C1535.5,1393.8 1537.4,1394.4 1539.3,1395.0 C1541.3,1395.5 1543.2,1396.1 1545.1,1396.6 C1547.0,1397.2 1548.9,1397.7 1550.9,1398.3 C1552.8,1398.8 1554.7,1399.3 1556.7,1399.8 C1558.6,1400.3 1560.5,1400.8 1562.5,1401.3 C1564.4,1401.8 1566.3,1402.3 1568.3,1402.8 C1570.2,1403.3 1572.2,1403.8 1574.1,1404.2 C1576.1,1404.7 1578.0,1405.2 1579.9,1405.6 C1581.9,1406.0 1583.8,1406.5 1585.8,1406.9 C1587.8,1407.3 1589.7,1407.7 1591.7,1408.1 C1593.6,1408.5 1595.6,1408.8 1597.6,1409.2 C1599.5,1409.5 1601.5,1409.9 1603.5,1410.2 C1605.4,1410.6 1607.4,1410.9 1609.4,1411.2 C1611.4,1411.6 1613.3,1411.9 1615.3,1412.2 C1617.3,1412.5 1619.3,1412.9 1621.2,1413.2 C1623.2,1413.5 1625.2,1413.8 1627.2,1414.1 C1629.1,1414.4 1631.1,1414.7 1633.1,1415.0 C1635.1,1415.2 1637.0,1415.5 1639.0,1415.7 C1641.0,1416.0 1643.0,1416.2 1645.0,1416.4 C1647.0,1416.6 1649.0,1416.8 1651.0,1416.9 C1652.9,1417.1 1654.9,1417.3 1656.9,1417.4 C1658.9,1417.6 1660.9,1417.7 1662.9,1417.9 C1664.9,1418.0 1666.9,1418.1 1668.9,1418.3 C1670.9,1418.4 1672.9,1418.5 1674.9,1418.7 C1676.9,1418.8 1678.9,1418.9 1680.9,1419.1 C1682.9,1419.2 1684.9,1419.3 1686.9,1419.4 C1688.9,1419.6 1690.9,1419.7 1692.9,1419.8 C1694.8,1419.9 1696.8,1420.0 1698.8,1420.1 C1700.8,1420.2 1702.8,1420.3 1704.8,1420.3 C1706.8,1420.4 1708.8,1420.5 1710.8,1420.6 C1712.8,1420.6 1714.8,1420.7 1716.8,1420.8 C1718.8,1420.8 1720.8,1420.9 1722.8,1421.0 C1724.8,1421.1 1726.8,1421.1 1728.8,1421.2 C1730.8,1421.3 1732.8,1421.3 1734.8,1421.4 C1736.8,1421.5 1738.8,1421.6 1740.8,1421.6 C1742.8,1421.7 1744.8,1421.8 1746.8,1421.8 C1748.8,1421.9 1750.8,1421.9 1752.8,1422.0 C1754.8,1422.1 1756.8,1422.1 1758.8,1422.2 C1760.8,1422.3 1762.8,1422.3 1764.8,1422.4 C1766.8,1422.4 1768.8,1422.5 1770.8,1422.6 C1772.8,1422.6 1774.8,1422.7 1776.8,1422.8 C1778.8,1422.8 1780.8,1422.9 1782.8,1423.0 C1784.8,1423.0 1786.8,1423.1 1788.8,1423.1 C1790.8,1423.2 1792.8,1423.3 1794.8,1423.3 C1796.8,1423.4 1798.8,1423.5 1800.8,1423.5 C1802.8,1423.5 1804.8,1423.5 1806.8,1423.6 C1808.8,1423.6 1810.8,1423.6 1812.8,1423.6 C1814.8,1423.6 1816.8,1423.7 1818.8,1423.7 C1820.8,1423.7 1822.8,1423.7 1824.8,1423.7 C1826.8,1423.8 1828.8,1423.8 1830.8,1423.8 C1832.8,1423.8 1834.8,1423.8 1836.8,1423.9 C1838.8,1423.9 1840.8,1423.9 1842.8,1423.9 C1844.8,1423.9 1846.8,1424.0 1848.8,1424.0 C1850.8,1424.0 1852.8,1424.0 1854.8,1424.0 C1856.8,1424.1 1858.8,1424.1 1860.8,1424.1 C1862.8,1424.1 1864.8,1424.1 1866.8,1424.2 C1868.8,1424.2 1870.8,1424.2 1872.8,1424.2 C1874.8,1424.2 1876.8,1424.3 1878.8,1424.3 C1880.8,1424.3 1882.8,1424.3 1884.8,1424.3 C1886.8,1424.4 1888.8,1424.4 1890.8,1424.4 C1892.8,1424.4 1894.8,1424.4 1896.8,1424.5 C1898.8,1424.5 1900.8,1424.5 1902.8,1424.5 C1904.8,1424.5 1906.8,1424.5 1908.8,1424.6 C1910.8,1424.6 1912.8,1424.6 1914.8,1424.6 C1916.8,1424.6 1918.8,1424.6 1920.8,1424.6 C1922.8,1424.6 1924.8,1424.7 1926.8,1424.7 C1928.8,1424.7 1930.8,1424.7 1932.8,1424.7 C1934.8,1424.7 1936.8,1424.7 1938.8,1424.8 C1940.8,1424.8 1942.8,1424.8 1944.8,1424.8 C1946.8,1424.8 1948.8,1424.8 1950.8,1424.8 C1952.8,1424.8 1954.8,1424.9 1956.8,1424.9 C1958.8,1424.9 1960.8,1424.9 1962.8,1424.9 C1964.8,1424.9 1966.8,1424.9 1968.8,1424.9 C1970.8,1425.0 1972.8,1425.0 1974.8,1425.0 C1976.8,1425.0 1978.8,1425.0 1980.8,1425.0 C1982.8,1425.0 1984.8,1425.1 1986.8,1425.1 C1988.8,1425.1 1990.8,1425.1 1992.8,1425.1 C1994.8,1425.1 1996.8,1425.1 1998.8,1425.1 C2000.8,1425.2 2002.8,1425.2 2004.8,1425.2 C2006.8,1425.2 2008.8,1425.2 2010.8,1425.2 C2012.8,1425.2 2014.8,1425.2 2016.8,1425.3 C2018.8,1425.3 2020.8,1425.3 2022.8,1425.3 C2024.8,1425.3 2026.8,1425.3 2028.8,1425.3 C2030.8,1425.3 2032.8,1425.4 2034.8,1425.4 C2036.8,1425.4 2038.8,1425.4 2040.8,1425.4 C2042.8,1425.4 2044.8,1425.4 2046.8,1425.5 C2048.8,1425.5 2051.6,1425.5 2052.8,1425.5 C2054.0,1425.5 2053.8,1425.5 2054.0,1425.5"/>
<path stroke="#FF0000" d="M315.8,805.7 C316.2,810.6 317.1,825.2 318.1,834.9 C319.2,844.7 320.4,854.4 322.0,864.2 C323.7,873.9 325.6,883.9 327.9,893.4 C330.1,902.9 332.7,913.2 335.7,921.3 C338.6,929.5 341.9,936.6 345.3,942.2 C348.6,947.8 352.6,954.6 355.8,954.8 C359.1,955.0 361.7,947.9 364.8,943.2 C367.8,938.6 371.2,933.6 374.3,926.8 C377.5,920.0 380.8,911.3 383.8,902.5 C386.7,893.7 389.2,883.6 391.9,873.9 C394.6,864.3 397.2,854.4 399.7,844.7 C402.2,834.9 404.8,825.5 407.1,815.4 C409.5,805.4 411.4,795.9 413.7,784.5 C415.9,773.1 418.5,759.9 420.8,747.2 C423.0,734.5 425.0,720.9 427.3,708.2 C429.7,695.5 432.0,683.3 434.8,670.9 C437.6,658.5 440.4,648.7 444.3,633.6 C448.1,618.5 454.3,595.2 457.8,580.2 C461.3,565.3 462.9,554.2 465.1,544.0 C467.2,533.8 469.0,526.8 470.8,518.9 C472.7,511.0 474.1,503.0 476.1,496.5 C478.1,490.0 480.1,484.6 482.7,479.8 C485.3,475.0 488.5,471.0 491.7,467.7 C494.9,464.4 498.1,462.6 501.8,459.9 C505.5,457.2 509.9,455.0 513.9,451.5 C517.9,447.9 522.2,443.7 526.0,438.5 C529.8,433.3 533.1,426.3 536.6,420.3 C540.2,414.4 544.4,407.8 547.4,402.9 C550.3,397.9 551.9,396.6 554.5,390.9 C557.0,385.2 560.2,374.0 562.8,368.5 C565.3,363.0 566.1,357.8 569.5,357.9 C572.9,358.0 578.0,368.6 582.9,368.9 C587.8,369.2 594.3,359.2 598.7,359.6 C603.1,360.0 606.2,366.4 609.5,371.5 C612.7,376.6 615.9,385.0 618.1,390.2 C620.3,395.4 620.8,397.4 622.9,403.0 C625.0,408.6 628.2,416.5 630.9,423.8 C633.6,431.1 636.3,439.6 638.8,446.7 C641.3,453.8 643.3,460.4 646.0,466.6 C648.6,472.8 651.7,479.4 654.9,483.9 C658.1,488.5 661.3,491.6 665.2,494.0 C669.2,496.4 674.7,498.8 678.7,498.3 C682.7,497.8 686.1,495.2 689.5,491.3 C692.9,487.4 696.1,481.6 699.0,475.0 C701.9,468.3 704.6,459.9 706.9,451.5 C709.3,443.1 711.5,433.3 713.3,424.6 C715.1,416.0 716.6,408.0 718.0,399.6 C719.4,391.2 720.3,382.3 721.7,374.1 C723.1,366.0 724.7,357.7 726.5,350.7 C728.4,343.6 730.5,338.1 732.8,331.9 C735.2,325.7 738.0,319.0 740.7,313.3 C743.4,307.6 745.9,302.2 749.1,297.6 C752.2,292.9 756.4,290.3 759.6,285.5 C762.7,280.7 765.5,274.6 767.9,268.8 C770.3,263.0 772.0,256.5 773.9,250.5 C775.8,244.6 777.6,238.4 779.4,233.1 C781.2,227.8 783.0,223.2 784.7,218.6 C786.3,214.0 787.8,209.2 789.4,205.3 C791.0,201.4 792.5,197.7 794.2,195.0 C795.8,192.3 797.7,189.4 799.5,189.3 C801.3,189.2 803.2,191.6 804.8,194.4 C806.5,197.2 808.0,201.2 809.4,205.9 C810.8,210.7 812.0,217.2 813.2,223.1 C814.4,229.0 815.6,235.3 816.7,241.4 C817.7,247.5 818.7,253.5 819.6,259.7 C820.5,265.9 821.4,271.5 822.1,278.6 C822.9,285.8 823.4,292.9 824.2,302.7 C824.9,312.4 825.6,325.2 826.5,337.1 C827.5,348.9 828.8,361.6 830.1,373.8 C831.5,386.0 833.2,398.1 834.8,410.3 C836.4,422.5 838.0,434.6 839.9,446.9 C841.8,459.2 843.9,471.8 846.0,484.2 C848.1,496.6 850.5,510.8 852.7,521.5 C854.8,532.2 856.4,540.2 858.8,548.4 C861.1,556.6 864.5,563.3 866.8,570.7 C869.1,578.1 870.8,585.2 872.6,593.0 C874.3,600.9 875.8,609.1 877.4,617.9 C879.0,626.6 880.7,636.6 882.1,645.4 C883.5,654.2 884.7,662.0 885.8,670.6 C886.8,679.2 887.5,687.0 888.4,697.1 C889.3,707.3 890.0,719.8 891.0,731.6 C892.0,743.4 893.3,755.9 894.5,768.1 C895.7,780.3 897.1,793.0 898.2,804.7 C899.3,816.4 900.5,829.0 901.3,838.2 C902.0,847.4 902.1,853.1 902.6,859.8 C903.0,866.6 903.7,871.9 904.2,878.6 C904.6,885.2 904.8,891.5 905.2,899.6 C905.6,907.7 905.3,913.8 906.3,927.0 C907.3,940.2 909.8,961.1 911.4,978.8 C913.0,996.5 914.1,1013.1 915.9,1033.2 C917.6,1053.4 919.2,1072.5 922.0,1099.6 C924.9,1126.6 930.1,1171.5 933.0,1195.5 C935.9,1219.4 937.6,1230.1 939.5,1243.4 C941.3,1256.7 942.6,1264.8 944.2,1275.1 C945.8,1285.4 947.4,1296.2 949.0,1305.4 C950.6,1314.7 952.1,1322.6 953.7,1330.6 C955.3,1338.6 956.9,1346.6 958.8,1353.5 C960.7,1360.3 962.8,1366.9 965.1,1371.7 C967.4,1376.4 970.2,1379.4 972.7,1381.8 C975.3,1384.2 978.0,1384.5 980.4,1386.0 C982.8,1387.5 984.9,1388.3 987.0,1390.9 C989.2,1393.4 991.2,1398.1 993.4,1401.3 C995.6,1404.5 997.5,1408.1 1000.3,1410.0 C1003.0,1412.0 1006.2,1412.2 1009.8,1413.0 C1013.4,1413.7 1018.3,1414.2 1021.9,1414.5 C1025.5,1414.8 1028.8,1414.9 1031.4,1414.5 C1034.0,1414.1 1035.1,1412.0 1037.7,1412.2 C1040.3,1412.4 1044.0,1414.7 1047.2,1415.7 C1050.4,1416.7 1053.5,1417.3 1057.0,1418.4 C1060.5,1419.5 1064.2,1421.5 1068.4,1422.6 C1072.5,1423.6 1076.8,1424.4 1082.1,1424.8 C1087.4,1425.2 1090.3,1424.6 1100.0,1424.8 C1109.7,1425.0 1130.0,1426.0 1140.0,1426.0 C1150.0,1426.0 1153.3,1425.6 1160.2,1425.1 C1167.0,1424.5 1175.2,1422.3 1181.0,1422.5 C1186.8,1422.7 1190.9,1426.2 1195.0,1426.0 C1199.1,1425.8 1202.9,1424.0 1205.8,1421.6 C1208.6,1419.1 1210.1,1414.2 1212.0,1411.4 C1213.9,1408.6 1214.8,1403.9 1217.0,1404.5 C1219.2,1405.1 1222.7,1412.7 1225.0,1415.3 C1227.4,1417.8 1228.9,1417.8 1231.3,1419.8 C1233.6,1421.8 1234.5,1426.0 1239.3,1427.2 C1244.1,1428.4 1249.9,1427.0 1260.0,1427.0 C1270.1,1427.0 1290.0,1427.7 1300.0,1427.5 C1310.0,1427.3 1315.0,1426.1 1320.0,1426.0 C1325.0,1425.9 1326.8,1427.0 1330.0,1427.0 C1333.2,1427.0 1336.6,1426.3 1339.5,1425.9 C1342.3,1425.4 1344.0,1423.8 1347.0,1424.3 C1350.0,1424.8 1352.9,1428.4 1357.6,1428.7 C1362.3,1429.0 1369.4,1426.2 1375.3,1426.0 C1381.2,1425.8 1388.8,1429.2 1392.9,1427.8 C1397.0,1426.4 1397.6,1420.2 1399.8,1417.5 C1402.0,1414.9 1404.0,1411.5 1406.1,1411.9 C1408.2,1412.3 1410.2,1417.2 1412.1,1420.0 C1414.1,1422.8 1414.3,1427.6 1417.6,1428.7 C1420.9,1429.8 1426.4,1426.9 1431.7,1426.9 C1437.0,1426.9 1444.3,1429.7 1449.3,1428.7 C1454.3,1427.7 1458.2,1421.2 1461.7,1420.7 C1465.2,1420.2 1466.4,1426.3 1470.5,1426.0 C1474.6,1425.7 1481.7,1419.8 1486.4,1419.0 C1491.1,1418.2 1494.3,1420.3 1498.7,1421.5 C1503.1,1422.7 1507.1,1424.9 1512.9,1426.1 C1518.8,1427.3 1526.7,1428.4 1534.0,1428.7 C1541.3,1429.0 1549.6,1427.8 1556.9,1427.8 C1564.2,1427.8 1573.2,1429.7 1578.1,1428.7 C1582.9,1427.7 1583.7,1421.6 1586.0,1421.6 C1588.3,1421.6 1586.2,1427.7 1592.2,1428.7 C1598.2,1429.7 1611.3,1427.8 1622.2,1427.8 C1633.1,1427.8 1644.3,1428.7 1657.5,1428.7 C1670.7,1428.7 1687.2,1428.3 1701.3,1427.9 C1715.4,1427.6 1733.2,1427.3 1742.1,1426.7 C1751.1,1426.2 1752.0,1424.5 1755.0,1424.5 C1758.0,1424.5 1751.7,1426.6 1760.0,1427.0 C1768.3,1427.4 1796.7,1427.5 1805.0,1427.0 C1813.3,1426.5 1801.0,1424.0 1810.0,1424.0 C1819.0,1424.0 1818.5,1426.0 1859.2,1426.9 C1899.9,1427.8 2021.5,1429.1 2054.0,1429.5"/>
<path stroke="#FF0000" d="M835.5,1423.0 C836.3,1422.4 838.8,1420.7 840.4,1419.5 C842.0,1418.4 843.6,1417.1 845.2,1415.9 C846.8,1414.7 848.5,1413.6 849.9,1412.2 C851.3,1410.9 852.6,1409.3 853.8,1407.8 C855.0,1406.2 855.9,1404.4 857.0,1402.7 C858.0,1401.0 859.1,1399.3 860.2,1397.6 C861.2,1395.9 862.5,1394.3 863.3,1392.5 C864.2,1390.7 864.6,1388.7 865.2,1386.8 C865.8,1384.9 866.3,1383.0 866.9,1381.1 C867.5,1379.1 868.0,1377.2 868.6,1375.3 C869.2,1373.4 869.8,1371.5 870.3,1369.6 C870.8,1367.6 871.2,1365.6 871.6,1363.7 C872.0,1361.7 872.4,1359.8 872.8,1357.8 C873.2,1355.9 873.6,1353.9 874.0,1351.9 C874.4,1350.0 874.8,1348.0 875.1,1346.1 C875.5,1344.1 875.7,1342.1 876.0,1340.1 C876.3,1338.1 876.6,1336.2 876.9,1334.2 C877.2,1332.2 877.5,1330.2 877.8,1328.2 C878.1,1326.3 878.3,1324.3 878.6,1322.3 C878.9,1320.3 879.2,1318.4 879.5,1316.4 C879.8,1314.4 880.1,1312.4 880.4,1310.4 C880.7,1308.5 881.0,1306.5 881.3,1304.5 C881.6,1302.5 882.0,1300.6 882.2,1298.6 C882.4,1296.6 882.6,1294.6 882.8,1292.6 C883.0,1290.6 883.2,1288.6 883.4,1286.6 C883.6,1284.6 883.8,1282.7 884.0,1280.7 C884.2,1278.7 884.4,1276.7 884.6,1274.7 C884.8,1272.7 885.0,1270.7 885.2,1268.7 C885.4,1266.7 885.6,1264.7 885.7,1262.8 C885.9,1260.8 886.1,1258.8 886.3,1256.8 C886.5,1254.8 886.7,1252.8 886.9,1250.8 C887.1,1248.8 887.3,1246.8 887.5,1244.8 C887.7,1242.8 887.9,1240.9 888.1,1238.9 C888.3,1236.9 888.5,1234.9 888.7,1232.9 C889.0,1230.9 889.3,1228.9 889.6,1227.0 C890.0,1225.0 890.5,1223.1 890.8,1221.1 C891.1,1219.1 891.3,1217.1 891.5,1215.1 C891.8,1213.2 892.0,1211.2 892.2,1209.2 C892.4,1207.2 892.6,1205.2 892.8,1203.2 C893.0,1201.2 893.2,1199.2 893.4,1197.2 C893.5,1195.2 893.6,1193.2 893.8,1191.3 C893.9,1189.3 894.0,1187.3 894.2,1185.3 C894.3,1183.3 894.4,1181.3 894.5,1179.3 C894.6,1177.3 894.8,1175.3 894.9,1173.3 C895.0,1171.3 895.1,1169.3 895.3,1167.3 C895.4,1165.3 895.5,1163.3 895.6,1161.3 C895.8,1159.3 895.9,1157.3 896.0,1155.3 C896.1,1153.3 896.2,1151.3 896.4,1149.3 C896.5,1147.3 896.6,1145.3 896.7,1143.3 C896.9,1141.3 897.0,1139.4 897.1,1137.4 C897.2,1135.4 897.4,1133.4 897.5,1131.4 C897.6,1129.4 897.7,1127.4 897.8,1125.4 C898.0,1123.4 898.1,1121.4 898.2,1119.4 C898.3,1117.4 898.5,1115.4 898.6,1113.4 C898.7,1111.4 898.8,1109.4 899.0,1107.4 C899.1,1105.4 899.2,1103.4 899.3,1101.4 C899.5,1099.4 899.6,1097.4 899.7,1095.4 C899.8,1093.4 899.9,1091.4 900.1,1089.4 C900.2,1087.4 900.3,1085.5 900.4,1083.5 C900.6,1081.5 900.7,1079.5 900.8,1077.5 C900.9,1075.5 901.1,1073.5 901.2,1071.5 C901.3,1069.5 901.5,1067.5 901.6,1065.5 C901.7,1063.5 901.8,1061.5 902.0,1059.5 C902.1,1057.5 902.2,1055.5 902.3,1053.5 C902.5,1051.5 902.6,1049.5 902.7,1047.5 C902.8,1045.5 903.0,1043.5 903.1,1041.5 C903.2,1039.5 903.4,1037.5 903.5,1035.6 C903.6,1033.6 903.7,1031.6 903.8,1029.6 C903.9,1027.6 904.0,1025.6 904.1,1023.6 C904.2,1021.6 904.3,1019.6 904.4,1017.6 C904.5,1015.6 904.6,1013.6 904.7,1011.6 C904.8,1009.6 904.9,1007.6 905.0,1005.6 C905.1,1003.6 905.2,1001.6 905.3,999.6 C905.4,997.6 905.5,995.6 905.6,993.6 C905.7,991.6 905.8,989.6 905.9,987.6 C906.0,985.6 906.1,983.6 906.2,981.6 C906.3,979.6 906.4,977.6 906.5,975.6 C906.6,973.6 906.7,971.6 906.8,969.6 C906.9,967.6 906.9,965.6 907.0,963.6 C907.1,961.6 907.2,959.6 907.3,957.6 C907.4,955.6 907.5,953.7 907.6,951.7 C907.7,949.7 907.8,947.7 907.8,945.7 C907.9,943.7 908.0,941.7 908.1,939.7 C908.2,937.7 908.3,935.7 908.4,933.7 C908.5,931.7 908.6,929.7 908.7,927.7 C908.7,925.7 908.8,923.7 908.9,921.7 C909.0,919.7 909.1,917.7 909.2,915.7 C909.3,913.7 909.4,911.7 909.5,909.7 C909.6,907.7 909.7,905.7 909.8,903.7 C909.9,901.7 910.0,899.7 910.1,897.7 C910.2,895.7 910.3,893.7 910.4,891.7 C910.5,889.7 910.6,887.7 910.7,885.7 C910.8,883.7 910.9,881.7 911.0,879.7 C911.1,877.7 911.2,875.7 911.3,873.7 C911.4,871.7 911.5,869.7 911.6,867.8 C911.7,865.8 911.8,863.8 911.9,861.8 C912.0,859.8 912.2,857.8 912.3,855.8 C912.4,853.8 912.5,851.8 912.7,849.8 C912.8,847.8 912.9,845.8 913.1,843.8 C913.2,841.8 913.3,839.8 913.5,837.8 C913.6,835.8 913.7,833.8 913.9,831.8 C914.0,829.8 914.1,827.8 914.3,825.8 C914.4,823.8 914.5,821.8 914.7,819.8 C914.8,817.9 914.9,815.9 915.1,813.9 C915.2,811.9 915.3,809.9 915.5,807.9 C915.6,805.9 915.8,803.9 915.9,801.9 C916.0,799.9 916.1,797.9 916.2,795.9 C916.3,793.9 916.4,791.9 916.5,789.9 C916.6,787.9 916.7,785.9 916.7,783.9 C916.8,781.9 916.9,779.9 917.0,777.9 C917.1,775.9 917.2,773.9 917.3,771.9 C917.4,769.9 917.5,767.9 917.6,765.9 C917.7,763.9 917.8,761.9 917.8,759.9 C917.9,757.9 918.0,755.9 918.1,753.9 C918.2,751.9 918.3,749.9 918.4,747.9 C918.5,746.0 918.6,744.0 918.7,742.0 C918.8,740.0 918.8,738.0 919.0,736.0 C919.1,734.0 919.3,732.0 919.4,730.0 C919.6,728.0 919.8,726.0 919.9,724.0 C920.1,722.0 920.3,720.0 920.5,718.0 C920.6,716.0 920.8,714.0 921.0,712.0 C921.1,710.1 921.3,708.1 921.5,706.1 C921.7,704.1 921.9,702.1 922.0,700.1 C922.1,698.1 922.2,696.1 922.3,694.1 C922.4,692.1 922.5,690.1 922.6,688.1 C922.7,686.1 922.8,684.1 922.9,682.1 C923.0,680.1 923.1,678.1 923.2,676.1 C923.3,674.1 923.4,672.1 923.5,670.1 C923.6,668.1 923.7,666.1 923.8,664.1 C923.9,662.1 924.0,660.1 924.1,658.1 C924.2,656.1 924.3,654.1 924.4,652.2 C924.5,650.2 924.6,648.2 924.7,646.2 C924.8,644.2 924.9,642.2 925.0,640.2 C925.1,638.2 925.1,636.2 925.2,634.2 C925.3,632.2 925.4,630.2 925.4,628.2 C925.5,626.2 925.6,624.2 925.7,622.2 C925.7,620.2 925.8,618.2 925.9,616.2 C926.0,614.2 926.0,612.2 926.1,610.2 C926.2,608.2 926.3,606.2 926.3,604.2 C926.4,602.2 926.5,600.2 926.6,598.2 C926.6,596.2 926.7,594.2 926.8,592.2 C926.9,590.2 926.9,588.2 927.0,586.2 C927.1,584.2 927.2,582.2 927.2,580.2 C927.3,578.2 927.4,576.2 927.5,574.2 C927.5,572.2 927.6,570.2 927.7,568.2 C927.8,566.2 927.8,564.2 927.9,562.2 C928.0,560.2 928.2,558.2 928.4,556.2 C928.6,554.3 928.8,552.3 929.0,550.3 C929.2,548.3 929.4,546.3 929.6,544.3 C929.8,542.3 930.0,540.3 930.2,538.3 C930.4,536.3 930.7,534.4 930.9,532.4 C931.0,530.4 931.2,528.4 931.4,526.4 C931.6,524.4 931.7,522.4 931.9,520.4 C932.0,518.4 932.2,516.4 932.3,514.4 C932.5,512.4 932.7,510.4 932.8,508.5 C933.0,506.5 933.1,504.5 933.3,502.5 C933.5,500.5 933.6,498.5 933.8,496.5 C933.9,494.5 934.0,492.5 934.2,490.5 C934.3,488.5 934.5,486.5 934.6,484.5 C934.8,482.5 934.9,480.5 935.1,478.5 C935.2,476.5 935.4,474.5 935.5,472.6 C935.7,470.6 935.8,468.6 936.0,466.6 C936.1,464.6 936.3,462.6 936.4,460.6 C936.6,458.6 936.7,456.6 936.9,454.6 C937.0,452.6 937.2,450.6 937.3,448.6 C937.5,446.6 937.6,444.6 937.8,442.6 C937.9,440.6 938.1,438.6 938.3,436.7 C938.4,434.7 938.6,432.7 938.9,430.7 C939.1,428.7 939.3,426.7 939.6,424.7 C939.8,422.7 940.0,420.8 940.3,418.8 C940.5,416.8 940.7,414.8 941.0,412.8 C941.2,410.8 941.4,408.8 941.7,406.9 C941.9,404.9 942.2,402.9 942.6,400.9 C942.9,399.0 943.4,397.0 943.9,395.1 C944.3,393.1 944.7,391.2 945.2,389.2 C945.6,387.3 946.1,385.3 946.5,383.4 C946.9,381.4 947.1,379.3 947.8,377.5 C948.5,375.7 949.8,374.1 950.9,372.5 C952.0,370.8 953.2,368.1 954.5,367.7 C955.7,367.2 957.2,368.5 958.5,369.5 C959.9,370.6 961.5,372.2 962.8,373.8 C964.0,375.3 965.0,377.1 966.1,378.8 C967.2,380.4 968.3,382.1 969.4,383.8 C970.5,385.4 971.5,387.2 972.8,388.7 C974.1,390.2 975.7,392.1 977.1,393.0 C978.4,393.8 979.8,394.6 981.1,394.0 C982.3,393.4 983.6,390.8 984.7,389.2 C985.7,387.5 986.9,385.9 987.6,384.1 C988.4,382.3 988.8,380.2 989.4,378.3 C989.9,376.4 990.5,374.5 991.1,372.6 C991.7,370.7 992.3,368.8 992.8,366.8 C993.4,364.9 994.0,363.0 994.5,361.1 C995.0,359.1 995.3,357.2 995.7,355.2 C996.1,353.2 996.5,351.3 996.9,349.3 C997.3,347.4 997.7,345.4 998.1,343.4 C998.5,341.5 998.9,339.5 999.3,337.6 C999.7,335.6 1000.1,333.6 1000.5,331.7 C1000.8,329.7 1001.3,327.8 1001.6,325.8 C1002.0,323.8 1002.4,321.9 1002.8,319.9 C1003.1,317.9 1003.5,316.0 1003.9,314.0 C1004.2,312.0 1004.6,310.1 1005.0,308.1 C1005.3,306.1 1005.7,304.2 1006.1,302.2 C1006.4,300.2 1006.8,298.3 1007.2,296.3 C1007.5,294.3 1007.9,292.4 1008.3,290.4 C1008.6,288.4 1009.0,286.5 1009.4,284.5 C1009.7,282.5 1010.1,280.6 1010.5,278.6 C1010.8,276.7 1011.2,274.7 1011.6,272.7 C1012.0,270.8 1012.3,268.8 1012.7,266.8 C1013.1,264.9 1013.4,262.9 1013.8,260.9 C1014.2,259.0 1014.5,257.0 1014.9,255.0 C1015.3,253.1 1015.6,251.1 1016.0,249.1 C1016.4,247.2 1016.7,245.2 1017.1,243.2 C1017.5,241.3 1017.8,239.3 1018.2,237.3 C1018.6,235.4 1018.9,233.4 1019.3,231.4 C1019.7,229.5 1020.0,227.5 1020.4,225.5 C1020.8,223.6 1021.2,221.6 1021.5,219.6 C1021.9,217.7 1022.3,215.7 1022.6,213.7 C1023.0,211.8 1023.4,209.8 1023.7,207.8 C1024.1,205.9 1024.5,203.9 1024.9,202.0 C1025.3,200.0 1025.7,198.0 1026.1,196.1 C1026.5,194.1 1026.9,192.2 1027.3,190.2 C1027.6,188.2 1028.0,186.3 1028.4,184.3 C1028.8,182.3 1029.2,180.4 1029.6,178.4 C1030.0,176.5 1030.1,174.4 1030.8,172.5 C1031.4,170.7 1032.5,169.0 1033.5,167.3 C1034.5,165.6 1035.7,162.5 1036.7,162.2 C1037.7,161.8 1038.6,163.7 1039.5,165.1 C1040.4,166.5 1041.3,168.7 1042.2,170.5 C1043.0,172.3 1044.1,174.0 1044.8,175.9 C1045.6,177.7 1046.1,179.6 1046.7,181.5 C1047.3,183.5 1047.7,185.4 1048.2,187.3 C1048.8,189.3 1049.3,191.2 1049.8,193.1 C1050.3,195.1 1050.8,197.0 1051.3,198.9 C1051.8,200.9 1052.4,202.8 1052.9,204.7 C1053.3,206.7 1053.7,208.7 1054.0,210.6 C1054.4,212.6 1054.8,214.5 1055.2,216.5 C1055.6,218.5 1056.0,220.4 1056.4,222.4 C1056.8,224.3 1057.2,226.3 1057.6,228.3 C1058.0,230.2 1058.4,232.2 1058.8,234.2 C1059.2,236.1 1059.6,238.1 1060.0,240.0 C1060.3,242.0 1060.7,244.0 1061.1,245.9 C1061.5,247.9 1061.9,249.8 1062.3,251.8 C1062.7,253.8 1063.1,255.7 1063.5,257.7 C1063.8,259.7 1064.1,261.6 1064.4,263.6 C1064.7,265.6 1065.0,267.6 1065.2,269.6 C1065.5,271.5 1065.8,273.5 1066.0,275.5 C1066.3,277.5 1066.6,279.5 1066.8,281.4 C1067.1,283.4 1067.4,285.4 1067.6,287.4 C1067.9,289.4 1068.1,291.4 1068.3,293.4 C1068.5,295.3 1068.7,297.3 1068.9,299.3 C1069.2,301.3 1069.6,303.3 1069.9,305.2 C1070.2,307.2 1070.5,309.2 1070.9,311.2 C1071.2,313.1 1071.5,315.1 1071.9,317.1 C1072.2,319.1 1072.5,321.0 1072.9,323.0 C1073.2,325.0 1073.5,326.9 1073.8,328.9 C1074.1,330.9 1074.5,332.9 1074.8,334.8 C1075.1,336.8 1075.4,338.8 1075.7,340.8 C1076.0,342.7 1076.4,344.7 1076.7,346.7 C1077.0,348.7 1077.3,350.6 1077.6,352.6 C1077.9,354.6 1078.2,356.6 1078.6,358.5 C1078.9,360.5 1079.2,362.5 1079.5,364.5 C1079.8,366.4 1080.1,368.4 1080.4,370.4 C1080.8,372.4 1081.1,374.3 1081.4,376.3 C1081.7,378.3 1082.0,380.3 1082.3,382.2 C1082.6,384.2 1083.0,386.2 1083.3,388.2 C1083.6,390.1 1083.9,392.1 1084.2,394.1 C1084.5,396.1 1084.8,398.0 1085.2,400.0 C1085.5,402.0 1085.7,404.1 1086.1,405.9 C1086.6,407.8 1086.9,409.7 1087.8,411.2 C1088.7,412.6 1090.7,413.1 1091.5,414.7 C1092.2,416.3 1091.9,418.7 1092.1,420.6 C1092.3,422.6 1092.5,424.6 1092.7,426.6 C1092.9,428.6 1093.1,430.6 1093.3,432.6 C1093.5,434.6 1093.7,436.6 1094.0,438.5 C1094.2,440.5 1094.6,442.5 1094.9,444.5 C1095.2,446.5 1095.4,448.4 1095.7,450.4 C1096.0,452.4 1096.3,454.4 1096.6,456.3 C1096.9,458.3 1097.2,460.3 1097.6,462.3 C1097.9,464.2 1098.4,466.2 1098.7,468.2 C1099.1,470.1 1099.5,472.1 1099.9,474.0 C1100.3,476.0 1100.7,478.0 1101.2,479.9 C1101.7,481.8 1102.4,483.7 1103.0,485.6 C1103.6,487.5 1104.1,489.5 1104.7,491.4 C1105.4,493.3 1106.0,495.2 1106.7,497.0 C1107.4,498.9 1108.2,500.7 1109.0,502.6 C1109.8,504.4 1110.5,506.3 1111.3,508.1 C1112.1,509.9 1112.9,511.8 1113.7,513.6 C1114.5,515.4 1115.4,517.2 1116.2,519.1 C1117.0,520.9 1117.8,522.7 1118.6,524.6 C1119.4,526.4 1120.2,528.2 1120.9,530.1 C1121.7,531.9 1122.5,533.8 1123.3,535.6 C1124.1,537.4 1124.9,539.3 1125.7,541.1 C1126.5,542.9 1127.3,544.8 1128.0,546.6 C1128.8,548.5 1129.5,550.3 1130.2,552.2 C1130.9,554.1 1131.6,556.0 1132.2,557.9 C1132.8,559.8 1133.5,561.6 1134.1,563.5 C1134.7,565.4 1135.3,567.4 1135.9,569.3 C1136.5,571.2 1137.1,573.1 1137.7,575.0 C1138.3,576.9 1138.9,578.8 1139.5,580.7 C1140.1,582.6 1140.8,584.5 1141.4,586.4 C1142.0,588.3 1142.7,590.2 1143.4,592.0 C1144.0,593.9 1144.7,595.8 1145.4,597.7 C1146.1,599.5 1146.8,601.4 1147.5,603.3 C1148.1,605.2 1148.8,607.1 1149.4,609.0 C1150.1,610.8 1150.7,612.7 1151.3,614.6 C1152.0,616.5 1152.5,618.5 1153.1,620.4 C1153.7,622.3 1154.3,624.2 1154.8,626.1 C1155.4,628.0 1155.9,630.0 1156.4,631.9 C1157.0,633.8 1157.5,635.8 1158.0,637.7 C1158.5,639.6 1159.0,641.6 1159.4,643.5 C1159.9,645.5 1160.4,647.4 1160.8,649.3 C1161.3,651.3 1161.7,653.2 1162.1,655.2 C1162.6,657.1 1163.0,659.1 1163.4,661.1 C1163.8,663.0 1164.2,665.0 1164.7,666.9 C1165.1,668.9 1165.5,670.8 1165.9,672.8 C1166.3,674.8 1166.7,676.7 1167.1,678.7 C1167.5,680.6 1167.9,682.6 1168.2,684.6 C1168.6,686.5 1169.0,688.5 1169.4,690.4 C1169.7,692.4 1170.1,694.4 1170.4,696.4 C1170.7,698.3 1171.1,700.3 1171.4,702.3 C1171.7,704.2 1172.0,706.2 1172.3,708.2 C1172.6,710.2 1172.9,712.1 1173.2,714.1 C1173.5,716.1 1173.8,718.1 1174.2,720.1 C1174.5,722.0 1174.8,724.0 1175.1,726.0 C1175.4,728.0 1175.7,729.9 1176.0,731.9 C1176.3,733.9 1176.6,735.9 1176.9,737.8 C1177.2,739.8 1177.5,741.8 1177.9,743.8 C1178.2,745.7 1178.5,747.7 1178.8,749.7 C1179.1,751.7 1179.4,753.6 1179.7,755.6 C1180.1,757.6 1180.4,759.6 1180.7,761.5 C1181.0,763.5 1181.3,765.5 1181.6,767.5 C1181.9,769.4 1182.3,771.4 1182.6,773.4 C1182.9,775.4 1183.2,777.3 1183.5,779.3 C1183.8,781.3 1184.1,783.3 1184.5,785.2 C1184.8,787.2 1185.1,789.2 1185.4,791.2 C1185.7,793.1 1186.0,795.1 1186.3,797.1 C1186.7,799.1 1187.0,801.0 1187.3,803.0 C1187.6,805.0 1187.9,807.0 1188.2,808.9 C1188.6,810.9 1188.9,812.9 1189.2,814.9 C1189.5,816.8 1189.9,818.8 1190.2,820.8 C1190.5,822.8 1190.9,824.7 1191.2,826.7 C1191.5,828.7 1191.9,830.6 1192.2,832.6 C1192.6,834.6 1192.9,836.5 1193.3,838.5 C1193.7,840.5 1194.1,842.4 1194.5,844.4 C1194.9,846.3 1195.3,848.3 1195.7,850.2 C1196.2,852.2 1196.6,854.1 1197.1,856.1 C1197.6,858.0 1198.1,859.9 1198.6,861.9 C1199.2,863.8 1199.7,865.7 1200.3,867.6 C1200.8,869.5 1201.4,871.5 1201.9,873.4 C1202.4,875.3 1202.9,877.2 1203.4,879.2 C1203.9,881.1 1204.4,883.0 1204.8,885.0 C1205.2,886.9 1205.6,888.9 1206.0,890.8 C1206.4,892.8 1206.8,894.8 1207.1,896.7 C1207.5,898.7 1207.8,900.7 1208.2,902.6 C1208.5,904.6 1208.9,906.6 1209.2,908.5 C1209.6,910.5 1210.0,912.5 1210.3,914.4 C1210.7,916.4 1211.1,918.4 1211.5,920.3 C1211.9,922.3 1212.3,924.2 1212.8,926.2 C1213.2,928.1 1213.7,930.1 1214.1,932.0 C1214.6,934.0 1215.1,935.9 1215.5,937.8 C1216.0,939.8 1216.5,941.7 1217.0,943.7 C1217.5,945.6 1217.9,947.5 1218.4,949.5 C1218.9,951.4 1219.4,953.4 1219.9,955.3 C1220.4,957.2 1220.9,959.2 1221.4,961.1 C1221.9,963.1 1222.4,965.0 1222.9,966.9 C1223.4,968.9 1223.9,970.8 1224.4,972.7 C1225.0,974.6 1225.5,976.6 1226.0,978.5 C1226.6,980.4 1227.1,982.3 1227.7,984.3 C1228.2,986.2 1228.8,988.1 1229.4,990.0 C1229.9,991.9 1230.5,993.9 1231.1,995.8 C1231.6,997.7 1232.2,999.6 1232.8,1001.5 C1233.4,1003.4 1234.0,1005.4 1234.5,1007.3 C1235.1,1009.2 1235.7,1011.1 1236.3,1013.0 C1236.9,1014.9 1237.5,1016.8 1238.1,1018.7 C1238.7,1020.6 1239.4,1022.5 1240.0,1024.4 C1240.6,1026.3 1241.3,1028.2 1242.0,1030.1 C1242.6,1031.9 1243.3,1033.8 1244.0,1035.7 C1244.7,1037.6 1245.5,1039.4 1246.2,1041.3 C1246.9,1043.2 1247.6,1045.0 1248.4,1046.9 C1249.1,1048.7 1249.8,1050.6 1250.6,1052.5 C1251.3,1054.3 1252.1,1056.2 1252.8,1058.0 C1253.5,1059.9 1254.3,1061.7 1255.0,1063.6 C1255.8,1065.5 1256.5,1067.3 1257.2,1069.2 C1258.0,1071.0 1258.7,1072.9 1259.5,1074.8 C1260.2,1076.6 1260.9,1078.5 1261.7,1080.3 C1262.4,1082.2 1263.1,1084.1 1263.8,1085.9 C1264.5,1087.8 1265.2,1089.7 1265.8,1091.6 C1266.5,1093.5 1267.1,1095.4 1267.7,1097.3 C1268.3,1099.2 1268.9,1101.1 1269.5,1103.0 C1270.0,1104.9 1270.6,1106.8 1271.2,1108.7 C1271.7,1110.6 1272.3,1112.6 1272.9,1114.5 C1273.5,1116.4 1274.1,1118.3 1274.7,1120.2 C1275.3,1122.0 1276.0,1123.9 1276.7,1125.8 C1277.4,1127.7 1278.1,1129.5 1278.9,1131.4 C1279.6,1133.2 1280.4,1135.1 1281.2,1136.9 C1282.0,1138.7 1282.8,1140.5 1283.6,1142.4 C1284.4,1144.2 1285.2,1146.0 1286.0,1147.8 C1286.9,1149.7 1287.7,1151.5 1288.5,1153.3 C1289.3,1155.1 1290.2,1157.0 1291.0,1158.8 C1291.8,1160.6 1292.6,1162.4 1293.4,1164.3 C1294.3,1166.1 1295.1,1167.9 1295.9,1169.7 C1296.7,1171.6 1297.5,1173.4 1298.3,1175.2 C1299.1,1177.1 1299.9,1178.9 1300.7,1180.7 C1301.5,1182.6 1302.3,1184.4 1303.1,1186.2 C1303.8,1188.1 1304.6,1189.9 1305.4,1191.8 C1306.2,1193.6 1307.0,1195.4 1307.8,1197.3 C1308.6,1199.1 1309.4,1200.9 1310.2,1202.8 C1311.0,1204.6 1311.9,1206.4 1312.7,1208.2 C1313.5,1210.0 1314.4,1211.8 1315.3,1213.6 C1316.1,1215.4 1317.0,1217.2 1317.9,1219.0 C1318.7,1220.8 1319.6,1222.6 1320.5,1224.4 C1321.4,1226.2 1322.3,1228.0 1323.2,1229.8 C1324.1,1231.6 1325.0,1233.4 1325.9,1235.1 C1326.8,1236.9 1327.7,1238.7 1328.7,1240.4 C1329.6,1242.2 1330.5,1244.0 1331.5,1245.7 C1332.5,1247.4 1333.5,1249.1 1334.6,1250.8 C1335.6,1252.5 1336.7,1254.1 1337.9,1255.8 C1339.0,1257.4 1340.2,1259.0 1341.4,1260.5 C1342.6,1262.1 1343.9,1263.7 1345.1,1265.2 C1346.4,1266.7 1347.7,1268.3 1348.9,1269.8 C1350.2,1271.3 1351.5,1272.9 1352.7,1274.4 C1354.0,1276.0 1355.2,1277.5 1356.5,1279.1 C1357.7,1280.7 1358.9,1282.3 1360.1,1283.9 C1361.3,1285.4 1362.5,1287.1 1363.7,1288.6 C1364.9,1290.2 1366.1,1291.8 1367.3,1293.4 C1368.6,1295.0 1369.8,1296.6 1371.0,1298.1 C1372.3,1299.7 1373.6,1301.2 1374.8,1302.8 C1376.1,1304.3 1377.4,1305.8 1378.8,1307.3 C1380.1,1308.8 1381.4,1310.3 1382.8,1311.7 C1384.1,1313.2 1385.5,1314.7 1386.9,1316.1 C1388.2,1317.6 1389.6,1319.0 1391.0,1320.4 C1392.4,1321.9 1393.8,1323.3 1395.3,1324.7 C1396.7,1326.1 1398.1,1327.4 1399.6,1328.8 C1401.1,1330.2 1402.5,1331.5 1404.0,1332.9 C1405.5,1334.2 1407.0,1335.5 1408.5,1336.8 C1410.0,1338.1 1411.5,1339.4 1413.1,1340.7 C1414.6,1342.0 1416.2,1343.2 1417.7,1344.4 C1419.3,1345.7 1420.9,1346.9 1422.5,1348.1 C1424.1,1349.3 1425.7,1350.4 1427.3,1351.6 C1429.0,1352.8 1430.6,1353.9 1432.2,1355.1 C1433.9,1356.2 1435.5,1357.3 1437.2,1358.5 C1438.8,1359.6 1440.5,1360.7 1442.2,1361.8 C1443.9,1362.9 1445.5,1364.0 1447.2,1365.0 C1448.9,1366.1 1450.6,1367.2 1452.3,1368.2 C1454.0,1369.3 1455.7,1370.3 1457.4,1371.3 C1459.1,1372.4 1460.9,1373.4 1462.6,1374.3 C1464.3,1375.3 1466.1,1376.3 1467.9,1377.2 C1469.6,1378.1 1471.4,1379.0 1473.2,1379.9 C1475.0,1380.8 1476.8,1381.7 1478.6,1382.5 C1480.4,1383.3 1482.2,1384.2 1484.1,1385.0 C1485.9,1385.8 1487.7,1386.6 1489.6,1387.3 C1491.4,1388.1 1493.3,1388.9 1495.1,1389.6 C1497.0,1390.3 1498.8,1391.0 1500.7,1391.7 C1502.6,1392.4 1504.5,1393.0 1506.4,1393.7 C1508.3,1394.3 1510.2,1394.9 1512.1,1395.5 C1514.0,1396.1 1515.9,1396.7 1517.8,1397.3 C1519.7,1397.9 1521.6,1398.4 1523.5,1399.0 C1525.5,1399.6 1527.4,1400.1 1529.3,1400.7 C1531.2,1401.2 1533.2,1401.7 1535.1,1402.3 C1537.0,1402.8 1539.0,1403.3 1540.9,1403.8 C1542.8,1404.3 1544.8,1404.8 1546.7,1405.3 C1548.6,1405.8 1550.6,1406.3 1552.5,1406.8 C1554.5,1407.2 1556.4,1407.7 1558.3,1408.2 C1560.3,1408.6 1562.2,1409.1 1564.2,1409.5 C1566.1,1410.0 1568.1,1410.4 1570.0,1410.8 C1572.0,1411.2 1574.0,1411.6 1575.9,1411.9 C1577.9,1412.3 1579.9,1412.7 1581.8,1413.0 C1583.8,1413.4 1585.8,1413.7 1587.7,1414.1 C1589.7,1414.4 1591.7,1414.8 1593.6,1415.1 C1595.6,1415.4 1597.6,1415.8 1599.6,1416.1 C1601.5,1416.4 1603.5,1416.7 1605.5,1417.1 C1607.5,1417.4 1609.4,1417.7 1611.4,1418.0 C1613.4,1418.3 1615.4,1418.6 1617.3,1418.9 C1619.3,1419.2 1621.3,1419.5 1623.3,1419.7 C1625.3,1420.0 1627.2,1420.2 1629.2,1420.4 C1631.2,1420.7 1633.2,1420.9 1635.2,1421.1 C1637.2,1421.3 1639.2,1421.5 1641.2,1421.7 C1643.1,1421.9 1645.1,1422.1 1647.1,1422.3 C1649.1,1422.5 1651.1,1422.7 1653.1,1422.9 C1655.1,1423.1 1657.1,1423.3 1659.1,1423.5 C1661.1,1423.7 1663.1,1423.9 1665.0,1424.1 C1667.0,1424.2 1669.0,1424.4 1671.0,1424.6 C1673.0,1424.7 1675.0,1424.9 1677.0,1425.0 C1679.0,1425.2 1681.0,1425.3 1683.0,1425.5 C1685.0,1425.6 1687.0,1425.7 1689.0,1425.8 C1691.0,1426.0 1693.0,1426.1 1695.0,1426.2 C1697.0,1426.3 1699.0,1426.4 1700.9,1426.5 C1702.9,1426.6 1704.9,1426.8 1706.9,1426.9 C1708.9,1427.0 1710.9,1427.1 1712.9,1427.2 C1714.9,1427.3 1716.9,1427.4 1718.9,1427.5 C1720.9,1427.6 1722.9,1427.8 1724.9,1427.9 C1726.9,1428.0 1728.9,1428.1 1730.9,1428.2 C1732.9,1428.3 1734.9,1428.4 1736.9,1428.5 C1738.9,1428.6 1740.9,1428.7 1742.9,1428.7 C1744.9,1428.8 1746.9,1428.7 1748.9,1428.7 C1750.9,1428.8 1752.9,1428.8 1754.9,1428.8 C1756.9,1428.8 1758.9,1428.8 1760.9,1428.8 C1762.9,1428.8 1764.9,1428.8 1766.9,1428.8 C1768.9,1428.8 1770.9,1428.9 1772.9,1428.9 C1774.9,1428.9 1776.9,1428.9 1778.9,1428.9 C1780.9,1428.9 1782.9,1428.9 1784.9,1428.9 C1786.9,1428.9 1788.9,1428.9 1790.9,1429.0 C1792.9,1429.0 1794.9,1429.0 1796.9,1429.0 C1798.9,1429.0 1800.9,1429.0 1802.9,1429.0 C1804.9,1429.0 1806.9,1429.0 1808.9,1429.0 C1810.9,1429.0 1812.9,1429.0 1814.9,1429.0 C1816.9,1429.0 1818.9,1429.0 1820.9,1429.0 C1822.9,1429.0 1824.9,1429.0 1826.9,1429.1 C1828.9,1429.1 1830.9,1429.1 1832.9,1429.1 C1834.9,1429.1 1836.9,1429.1 1838.9,1429.1 C1840.9,1429.1 1842.9,1429.1 1844.9,1429.1 C1846.9,1429.1 1848.9,1429.1 1850.9,1429.1 C1852.9,1429.1 1854.9,1429.1 1856.9,1429.1 C1858.9,1429.1 1860.9,1429.1 1862.9,1429.1 C1864.9,1429.1 1866.9,1429.1 1868.9,1429.1 C1870.9,1429.1 1872.9,1429.1 1874.9,1429.1 C1876.9,1429.2 1878.9,1429.2 1880.9,1429.2 C1882.9,1429.2 1884.9,1429.2 1886.9,1429.2 C1888.9,1429.2 1890.9,1429.2 1892.9,1429.2 C1894.9,1429.2 1896.9,1429.2 1898.9,1429.2 C1900.9,1429.2 1902.9,1429.2 1904.9,1429.2 C1906.9,1429.2 1908.9,1429.2 1910.9,1429.2 C1912.9,1429.2 1914.9,1429.2 1916.9,1429.2 C1918.9,1429.2 1920.9,1429.2 1922.9,1429.2 C1924.9,1429.2 1926.9,1429.2 1928.9,1429.3 C1930.9,1429.3 1932.9,1429.3 1934.9,1429.3 C1936.9,1429.3 1938.9,1429.3 1940.9,1429.3 C1942.9,1429.3 1944.9,1429.3 1946.9,1429.3 C1948.9,1429.3 1950.9,1429.3 1952.9,1429.3 C1954.9,1429.3 1956.9,1429.3 1958.9,1429.3 C1960.9,1429.3 1962.9,1429.3 1964.9,1429.3 C1966.9,1429.3 1968.9,1429.3 1970.9,1429.3 C1972.9,1429.3 1974.9,1429.3 1976.9,1429.3 C1978.9,1429.4 1980.9,1429.4 1982.9,1429.4 C1984.9,1429.4 1986.9,1429.4 1988.9,1429.4 C1990.9,1429.4 1992.9,1429.4 1994.9,1429.4 C1996.9,1429.4 1998.9,1429.4 2000.9,1429.4 C2002.9,1429.4 2004.9,1429.4 2006.9,1429.4 C2008.9,1429.4 2010.9,1429.4 2012.9,1429.4 C2014.9,1429.4 2016.9,1429.4 2018.9,1429.4 C2020.9,1429.4 2022.9,1429.4 2024.9,1429.4 C2026.9,1429.4 2028.9,1429.5 2030.9,1429.5 C2032.9,1429.5 2034.9,1429.5 2036.9,1429.5 C2038.9,1429.5 2040.9,1429.5 2042.9,1429.5 C2044.9,1429.5 2047.0,1429.5 2048.9,1429.5 C2050.7,1429.5 2053.1,1429.5 2054.0,1429.5"/>
</g>
<g stroke-width="7" stroke-linecap="round">
<line x1="1378" y1="123.3" x2="1507" y2="123.3" stroke="#555555"/>
<line x1="1378" y1="196.1" x2="1507" y2="196.1" stroke="#00A2FF"/>
<line x1="1378" y1="281.4" x2="1507" y2="281.4" stroke="#0000FF"/>
<line x1="1378" y1="367.2" x2="1507" y2="367.2" stroke="#00DD00"/>
<line x1="1378" y1="452.8" x2="1507" y2="452.8" stroke="#FF0000"/>
</g>
<g font-family="'Liberation Sans', Arial, sans-serif" font-size="58" fill="#000">
<text transform="translate(1524,143.2) scale(1,1.04)"><tspan font-weight="bold">L</tspan></text>
<text transform="translate(1524,216.4) scale(1,1.04)">[Zn(<tspan font-weight="bold">L</tspan>)Cl<tspan font-size="39" dy="15">2</tspan><tspan dy="-15">]</tspan></text>
<text transform="translate(1524,302) scale(1,1.04)">[Zn(<tspan font-weight="bold">L</tspan>)(NO<tspan font-size="39" dy="15">3</tspan><tspan dy="-15">)</tspan><tspan font-size="39" dy="15">2</tspan><tspan dy="-15">]</tspan></text>
<text transform="translate(1524,387.7) scale(1,1.04)">[Zn(<tspan font-weight="bold">L</tspan>)<tspan font-size="39" dy="15">2</tspan><tspan dy="-15">(NO</tspan><tspan font-size="39" dy="15">3</tspan><tspan dy="-15">)](NO</tspan><tspan font-size="39" dy="15">3</tspan><tspan dy="-15">)</tspan></text>
<text transform="translate(1524,473.4) scale(1,1.04)">[Zn(<tspan font-weight="bold">L</tspan>)<tspan font-size="39" dy="15">3</tspan><tspan dy="-15">][Zn(SCN)</tspan><tspan font-size="39" dy="15">4</tspan><tspan dy="-15">]</tspan></text>
</g>
</svg></body></html>
